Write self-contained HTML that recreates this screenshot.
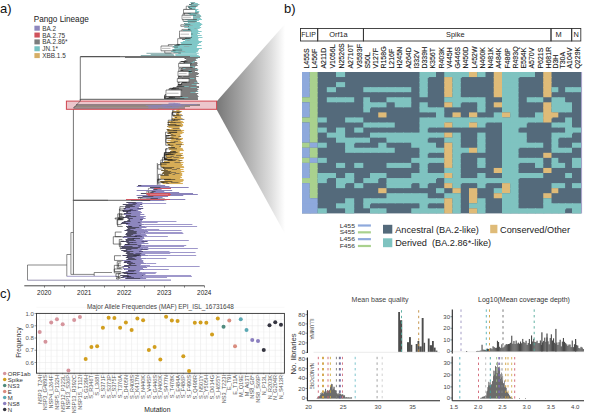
<!DOCTYPE html>
<html><head><meta charset="utf-8"><style>
html,body{margin:0;padding:0;background:#fff;overflow:hidden;width:590px;height:414px;}
svg{display:block;font-family:"Liberation Sans", sans-serif;}
</style></head><body>
<svg width="590" height="414" viewBox="0 0 590 414">
<rect width="590" height="414" fill="#fff"/>
<text x="0.00" y="13.00" font-size="13" fill="#111" text-anchor="start" >a)</text>
<text x="284.00" y="13.00" font-size="13" fill="#111" text-anchor="start" >b)</text>
<text x="0.00" y="297.60" font-size="13" fill="#111" text-anchor="start" >c)</text>
<text x="33.70" y="21.60" font-size="8.2" fill="#1a1a1a" text-anchor="start" >Pango Lineage</text>
<rect x="34.40" y="25.70" width="5.40" height="5.00" fill="#8e87bd" />
<text x="42.30" y="30.70" font-size="6.4" fill="#333" text-anchor="start" >BA.2</text>
<rect x="34.40" y="32.55" width="5.40" height="5.00" fill="#d0525c" />
<text x="42.30" y="37.55" font-size="6.4" fill="#333" text-anchor="start" >BA.2.75</text>
<rect x="34.40" y="39.40" width="5.40" height="5.00" fill="#7c7c7c" />
<text x="42.30" y="44.40" font-size="6.4" fill="#333" text-anchor="start" >BA.2.86*</text>
<rect x="34.40" y="46.25" width="5.40" height="5.00" fill="#76c2c2" />
<text x="42.30" y="51.25" font-size="6.4" fill="#333" text-anchor="start" >JN.1*</text>
<rect x="34.40" y="53.10" width="5.40" height="5.00" fill="#d6ae66" />
<text x="42.30" y="58.10" font-size="6.4" fill="#333" text-anchor="start" >XBB.1.5</text>
<defs><linearGradient id="gr" x1="0" x2="1" y1="0" y2="0"><stop offset="0" stop-color="#777777"/><stop offset="0.5" stop-color="#b6b6b6"/><stop offset="0.8" stop-color="#dedede"/><stop offset="1" stop-color="#ffffff"/></linearGradient></defs>
<polygon points="216.6,101.5 285,24 285,234 216.6,109.5" fill="url(#gr)"/>
<line x1="27.50" y1="265.00" x2="27.50" y2="280.20" stroke="#3a3a3a" stroke-width="0.6" />
<line x1="27.50" y1="265.00" x2="66.80" y2="265.00" stroke="#3a3a3a" stroke-width="0.6" />
<line x1="27.50" y1="280.20" x2="120.00" y2="280.20" stroke="#6a6490" stroke-width="0.7" />
<line x1="120.00" y1="280.20" x2="171.00" y2="280.20" stroke="#8f88bf" stroke-width="1.3" />
<line x1="66.80" y1="254.50" x2="66.80" y2="276.30" stroke="#3a3a3a" stroke-width="0.6" />
<line x1="66.80" y1="254.50" x2="70.90" y2="254.50" stroke="#3a3a3a" stroke-width="0.6" />
<line x1="66.80" y1="276.30" x2="118.00" y2="276.30" stroke="#8f88bf" stroke-width="0.8" />
<line x1="70.90" y1="232.50" x2="70.90" y2="274.40" stroke="#3a3a3a" stroke-width="0.6" />
<line x1="70.90" y1="232.50" x2="73.40" y2="232.50" stroke="#3a3a3a" stroke-width="0.6" />
<line x1="70.90" y1="274.40" x2="94.20" y2="274.40" stroke="#3a3a3a" stroke-width="0.6" />
<line x1="94.20" y1="272.50" x2="94.20" y2="276.00" stroke="#3a3a3a" stroke-width="0.6" />
<line x1="94.20" y1="272.50" x2="112.00" y2="272.50" stroke="#3a3a3a" stroke-width="0.6" />
<line x1="73.40" y1="108.00" x2="73.40" y2="274.40" stroke="#3a3a3a" stroke-width="0.7" />
<line x1="72.80" y1="200.30" x2="108.00" y2="200.30" stroke="#555" stroke-width="0.8" />
<line x1="80.30" y1="56.60" x2="80.30" y2="100.20" stroke="#3a3a3a" stroke-width="0.7" />
<line x1="80.30" y1="56.60" x2="120.00" y2="56.60" stroke="#555" stroke-width="1.2" />
<line x1="120.00" y1="56.60" x2="190.00" y2="56.60" stroke="#6f6f6f" stroke-width="1.2" />
<line x1="190.00" y1="56.60" x2="200.00" y2="56.60" stroke="#80c0c0" stroke-width="1.2" />
<line x1="146.48" y1="53.30" x2="171.51" y2="53.30" stroke="#7aa5a5" stroke-width="0.9" />
<line x1="178.25" y1="53.30" x2="198.71" y2="53.30" stroke="#79c2c2" stroke-width="0.9" />
<line x1="150.72" y1="54.40" x2="173.66" y2="54.40" stroke="#7aa5a5" stroke-width="0.9" />
<line x1="175.29" y1="54.40" x2="196.97" y2="54.40" stroke="#79c2c2" stroke-width="0.9" />
<line x1="140.75" y1="55.50" x2="174.34" y2="55.50" stroke="#7aa5a5" stroke-width="0.9" />
<line x1="175.35" y1="55.50" x2="198.64" y2="55.50" stroke="#79c2c2" stroke-width="0.9" />
<line x1="125.00" y1="57.50" x2="200.00" y2="57.50" stroke="#555" stroke-width="0.8" />
<line x1="190.40" y1="2.50" x2="195.10" y2="2.50" stroke="#80c8c8" stroke-width="1.0" />
<line x1="191.45" y1="2.50" x2="195.10" y2="2.50" stroke="#8fa8a8" stroke-width="0.8" />
<line x1="191.03" y1="3.50" x2="197.81" y2="3.50" stroke="#80c8c8" stroke-width="1.0" />
<line x1="191.03" y1="3.50" x2="193.65" y2="3.50" stroke="#333" stroke-width="0.55" />
<line x1="189.02" y1="4.50" x2="199.45" y2="4.50" stroke="#80c8c8" stroke-width="1.0" />
<line x1="192.24" y1="4.50" x2="199.14" y2="4.50" stroke="#8fa8a8" stroke-width="0.8" />
<line x1="189.02" y1="4.50" x2="191.75" y2="4.50" stroke="#333" stroke-width="0.55" />
<line x1="190.83" y1="5.50" x2="198.20" y2="5.50" stroke="#80c8c8" stroke-width="1.0" />
<line x1="190.83" y1="5.50" x2="191.03" y2="5.50" stroke="#333" stroke-width="0.55" />
<line x1="187.95" y1="6.50" x2="196.48" y2="6.50" stroke="#80c8c8" stroke-width="1.0" />
<line x1="190.63" y1="6.50" x2="196.14" y2="6.50" stroke="#8fa8a8" stroke-width="0.8" />
<line x1="188.23" y1="7.50" x2="195.92" y2="7.50" stroke="#80c8c8" stroke-width="1.0" />
<line x1="188.23" y1="7.50" x2="190.22" y2="7.50" stroke="#333" stroke-width="0.55" />
<line x1="189.29" y1="8.50" x2="195.56" y2="8.50" stroke="#80c8c8" stroke-width="1.0" />
<line x1="189.29" y1="8.50" x2="192.06" y2="8.50" stroke="#333" stroke-width="0.55" />
<line x1="186.58" y1="9.50" x2="198.43" y2="9.50" stroke="#80c8c8" stroke-width="1.0" />
<line x1="186.58" y1="9.50" x2="189.19" y2="9.50" stroke="#333" stroke-width="0.55" />
<line x1="185.86" y1="10.50" x2="197.04" y2="10.50" stroke="#80c8c8" stroke-width="1.0" />
<line x1="190.63" y1="11.50" x2="199.27" y2="11.50" stroke="#80c8c8" stroke-width="1.0" />
<line x1="188.60" y1="12.50" x2="198.51" y2="12.50" stroke="#80c8c8" stroke-width="1.0" />
<line x1="187.72" y1="13.50" x2="197.37" y2="13.50" stroke="#80c8c8" stroke-width="1.0" />
<line x1="194.49" y1="13.50" x2="197.37" y2="13.50" stroke="#8fa8a8" stroke-width="0.8" />
<line x1="189.56" y1="14.50" x2="199.74" y2="14.50" stroke="#80c8c8" stroke-width="1.0" />
<line x1="196.37" y1="14.50" x2="198.50" y2="14.50" stroke="#8fa8a8" stroke-width="0.8" />
<line x1="185.38" y1="15.50" x2="200.85" y2="15.50" stroke="#80c8c8" stroke-width="1.0" />
<line x1="197.26" y1="15.50" x2="200.04" y2="15.50" stroke="#8fa8a8" stroke-width="0.8" />
<line x1="185.38" y1="15.50" x2="188.10" y2="15.50" stroke="#333" stroke-width="0.55" />
<line x1="189.35" y1="16.50" x2="201.17" y2="16.50" stroke="#80c8c8" stroke-width="1.0" />
<line x1="195.84" y1="16.50" x2="201.17" y2="16.50" stroke="#8fa8a8" stroke-width="0.8" />
<line x1="189.11" y1="17.50" x2="200.08" y2="17.50" stroke="#80c8c8" stroke-width="1.0" />
<line x1="193.04" y1="17.50" x2="200.08" y2="17.50" stroke="#8fa8a8" stroke-width="0.8" />
<line x1="184.67" y1="18.50" x2="200.79" y2="18.50" stroke="#80c8c8" stroke-width="1.0" />
<line x1="188.44" y1="18.50" x2="193.35" y2="18.50" stroke="#8fa8a8" stroke-width="0.8" />
<line x1="185.19" y1="19.50" x2="201.93" y2="19.50" stroke="#80c8c8" stroke-width="1.0" />
<line x1="191.37" y1="19.50" x2="196.77" y2="19.50" stroke="#8fa8a8" stroke-width="0.8" />
<line x1="187.60" y1="20.50" x2="198.96" y2="20.50" stroke="#80c8c8" stroke-width="1.0" />
<line x1="183.63" y1="21.50" x2="196.75" y2="21.50" stroke="#80c8c8" stroke-width="1.0" />
<line x1="187.94" y1="22.50" x2="199.90" y2="22.50" stroke="#80c8c8" stroke-width="1.0" />
<line x1="189.18" y1="22.50" x2="194.98" y2="22.50" stroke="#8fa8a8" stroke-width="0.8" />
<line x1="187.94" y1="22.50" x2="188.30" y2="22.50" stroke="#333" stroke-width="0.55" />
<line x1="184.25" y1="23.50" x2="201.38" y2="23.50" stroke="#80c8c8" stroke-width="1.0" />
<line x1="185.15" y1="23.50" x2="187.15" y2="23.50" stroke="#8fa8a8" stroke-width="0.8" />
<line x1="184.25" y1="23.50" x2="185.03" y2="23.50" stroke="#333" stroke-width="0.55" />
<line x1="185.03" y1="24.50" x2="202.30" y2="24.50" stroke="#80c8c8" stroke-width="1.0" />
<line x1="183.58" y1="25.50" x2="201.04" y2="25.50" stroke="#80c8c8" stroke-width="1.0" />
<line x1="189.94" y1="25.50" x2="192.68" y2="25.50" stroke="#8fa8a8" stroke-width="0.8" />
<line x1="188.50" y1="26.50" x2="199.85" y2="26.50" stroke="#80c8c8" stroke-width="1.0" />
<line x1="188.50" y1="26.50" x2="189.02" y2="26.50" stroke="#333" stroke-width="0.55" />
<line x1="184.44" y1="27.50" x2="201.16" y2="27.50" stroke="#80c8c8" stroke-width="1.0" />
<line x1="184.44" y1="27.50" x2="184.61" y2="27.50" stroke="#333" stroke-width="0.55" />
<line x1="187.94" y1="28.50" x2="199.68" y2="28.50" stroke="#80c8c8" stroke-width="1.0" />
<line x1="194.32" y1="28.50" x2="196.48" y2="28.50" stroke="#8fa8a8" stroke-width="0.8" />
<line x1="187.95" y1="29.50" x2="197.77" y2="29.50" stroke="#80c8c8" stroke-width="1.0" />
<line x1="187.95" y1="29.50" x2="189.57" y2="29.50" stroke="#333" stroke-width="0.55" />
<line x1="182.90" y1="30.50" x2="198.37" y2="30.50" stroke="#80c8c8" stroke-width="1.0" />
<line x1="183.68" y1="31.50" x2="201.66" y2="31.50" stroke="#80c8c8" stroke-width="1.0" />
<line x1="186.62" y1="32.50" x2="198.16" y2="32.50" stroke="#80c8c8" stroke-width="1.0" />
<line x1="182.66" y1="33.50" x2="199.89" y2="33.50" stroke="#80c8c8" stroke-width="1.0" />
<line x1="183.16" y1="33.50" x2="185.33" y2="33.50" stroke="#8fa8a8" stroke-width="0.8" />
<line x1="182.66" y1="33.50" x2="184.67" y2="33.50" stroke="#333" stroke-width="0.55" />
<line x1="185.26" y1="34.50" x2="197.26" y2="34.50" stroke="#80c8c8" stroke-width="1.0" />
<line x1="196.50" y1="34.50" x2="197.26" y2="34.50" stroke="#8fa8a8" stroke-width="0.8" />
<line x1="183.09" y1="35.50" x2="201.68" y2="35.50" stroke="#80c8c8" stroke-width="1.0" />
<line x1="186.74" y1="35.50" x2="189.97" y2="35.50" stroke="#8fa8a8" stroke-width="0.8" />
<line x1="186.10" y1="36.50" x2="197.96" y2="36.50" stroke="#80c8c8" stroke-width="1.0" />
<line x1="185.30" y1="37.50" x2="202.49" y2="37.50" stroke="#80c8c8" stroke-width="1.0" />
<line x1="184.99" y1="38.50" x2="198.50" y2="38.50" stroke="#80c8c8" stroke-width="1.0" />
<line x1="184.99" y1="38.50" x2="189.79" y2="38.50" stroke="#333" stroke-width="0.55" />
<line x1="182.10" y1="39.50" x2="198.20" y2="39.50" stroke="#80c8c8" stroke-width="1.0" />
<line x1="182.10" y1="39.50" x2="185.00" y2="39.50" stroke="#333" stroke-width="0.55" />
<line x1="185.01" y1="40.50" x2="198.65" y2="40.50" stroke="#80c8c8" stroke-width="1.0" />
<line x1="186.75" y1="40.50" x2="189.65" y2="40.50" stroke="#8fa8a8" stroke-width="0.8" />
<line x1="182.84" y1="41.50" x2="202.12" y2="41.50" stroke="#80c8c8" stroke-width="1.0" />
<line x1="180.61" y1="42.50" x2="200.90" y2="42.50" stroke="#80c8c8" stroke-width="1.0" />
<line x1="180.61" y1="42.50" x2="180.74" y2="42.50" stroke="#333" stroke-width="0.55" />
<line x1="181.16" y1="43.50" x2="199.10" y2="43.50" stroke="#80c8c8" stroke-width="1.0" />
<line x1="176.60" y1="44.50" x2="197.77" y2="44.50" stroke="#80c8c8" stroke-width="1.0" />
<line x1="176.60" y1="44.50" x2="179.00" y2="44.50" stroke="#333" stroke-width="0.55" />
<line x1="174.42" y1="45.50" x2="201.42" y2="45.50" stroke="#80c8c8" stroke-width="1.0" />
<line x1="174.42" y1="45.50" x2="179.51" y2="45.50" stroke="#333" stroke-width="0.55" />
<line x1="172.64" y1="46.50" x2="197.13" y2="46.50" stroke="#80c8c8" stroke-width="1.0" />
<line x1="183.86" y1="46.50" x2="189.36" y2="46.50" stroke="#8fa8a8" stroke-width="0.8" />
<line x1="174.10" y1="47.50" x2="196.81" y2="47.50" stroke="#80c8c8" stroke-width="1.0" />
<line x1="174.43" y1="48.50" x2="201.93" y2="48.50" stroke="#80c8c8" stroke-width="1.0" />
<line x1="179.46" y1="48.50" x2="181.49" y2="48.50" stroke="#8fa8a8" stroke-width="0.8" />
<line x1="172.03" y1="49.50" x2="198.93" y2="49.50" stroke="#80c8c8" stroke-width="1.0" />
<line x1="172.67" y1="50.50" x2="198.39" y2="50.50" stroke="#80c8c8" stroke-width="1.0" />
<line x1="171.07" y1="51.50" x2="197.87" y2="51.50" stroke="#80c8c8" stroke-width="1.0" />
<line x1="178.49" y1="51.50" x2="185.12" y2="51.50" stroke="#8fa8a8" stroke-width="0.8" />
<line x1="173.51" y1="52.50" x2="196.39" y2="52.50" stroke="#80c8c8" stroke-width="1.0" />
<line x1="179.85" y1="33.43" x2="179.85" y2="38.22" stroke="#333" stroke-width="0.55" />
<line x1="179.85" y1="33.43" x2="189.63" y2="33.43" stroke="#333" stroke-width="0.55" />
<line x1="179.85" y1="38.22" x2="186.74" y2="38.22" stroke="#333" stroke-width="0.55" />
<line x1="181.91" y1="29.43" x2="181.91" y2="34.04" stroke="#333" stroke-width="0.55" />
<line x1="181.91" y1="29.43" x2="190.48" y2="29.43" stroke="#333" stroke-width="0.55" />
<line x1="181.91" y1="34.04" x2="192.61" y2="34.04" stroke="#333" stroke-width="0.55" />
<line x1="164.78" y1="50.08" x2="164.78" y2="53.00" stroke="#333" stroke-width="0.55" />
<line x1="164.78" y1="50.08" x2="182.15" y2="50.08" stroke="#333" stroke-width="0.55" />
<line x1="164.78" y1="53.00" x2="180.91" y2="53.00" stroke="#333" stroke-width="0.55" />
<line x1="184.22" y1="9.43" x2="184.22" y2="11.72" stroke="#333" stroke-width="0.55" />
<line x1="184.22" y1="9.43" x2="186.76" y2="9.43" stroke="#333" stroke-width="0.55" />
<line x1="184.22" y1="11.72" x2="188.78" y2="11.72" stroke="#333" stroke-width="0.55" />
<line x1="186.24" y1="6.19" x2="186.24" y2="12.04" stroke="#333" stroke-width="0.55" />
<line x1="186.24" y1="6.19" x2="197.57" y2="6.19" stroke="#333" stroke-width="0.55" />
<line x1="186.24" y1="12.04" x2="188.66" y2="12.04" stroke="#333" stroke-width="0.55" />
<line x1="177.70" y1="38.66" x2="177.70" y2="44.46" stroke="#333" stroke-width="0.55" />
<line x1="177.70" y1="38.66" x2="190.86" y2="38.66" stroke="#333" stroke-width="0.55" />
<line x1="177.70" y1="44.46" x2="191.88" y2="44.46" stroke="#333" stroke-width="0.55" />
<line x1="183.05" y1="13.59" x2="183.05" y2="21.28" stroke="#333" stroke-width="0.55" />
<line x1="183.05" y1="13.59" x2="190.70" y2="13.59" stroke="#333" stroke-width="0.55" />
<line x1="183.05" y1="21.28" x2="196.73" y2="21.28" stroke="#333" stroke-width="0.55" />
<line x1="168.37" y1="44.54" x2="168.37" y2="47.09" stroke="#333" stroke-width="0.55" />
<line x1="168.37" y1="44.54" x2="180.14" y2="44.54" stroke="#333" stroke-width="0.55" />
<line x1="168.37" y1="47.09" x2="178.02" y2="47.09" stroke="#333" stroke-width="0.55" />
<line x1="184.32" y1="12.39" x2="184.32" y2="15.96" stroke="#333" stroke-width="0.55" />
<line x1="184.32" y1="12.39" x2="185.39" y2="12.39" stroke="#333" stroke-width="0.55" />
<line x1="184.32" y1="15.96" x2="191.80" y2="15.96" stroke="#333" stroke-width="0.55" />
<line x1="180.80" y1="24.74" x2="180.80" y2="26.36" stroke="#333" stroke-width="0.55" />
<line x1="180.80" y1="24.74" x2="190.30" y2="24.74" stroke="#333" stroke-width="0.55" />
<line x1="180.80" y1="26.36" x2="188.96" y2="26.36" stroke="#333" stroke-width="0.55" />
<rect x="183.50" y="9.40" width="11.50" height="3.60" fill="#fff" />
<line x1="183.50" y1="9.40" x2="195.26" y2="9.40" stroke="#333" stroke-width="0.6" />
<line x1="183.50" y1="13.00" x2="198.94" y2="13.00" stroke="#333" stroke-width="0.6" />
<line x1="183.50" y1="9.40" x2="183.50" y2="13.00" stroke="#333" stroke-width="0.5" />
<rect x="182.00" y="15.20" width="11.00" height="4.20" fill="#fff" />
<line x1="182.00" y1="15.20" x2="196.15" y2="15.20" stroke="#333" stroke-width="0.6" />
<line x1="182.00" y1="19.40" x2="196.89" y2="19.40" stroke="#333" stroke-width="0.6" />
<line x1="182.00" y1="15.20" x2="182.00" y2="19.40" stroke="#333" stroke-width="0.5" />
<line x1="183.00" y1="17.30" x2="191.00" y2="17.30" stroke="#555" stroke-width="0.4" />
<rect x="179.50" y="31.00" width="11.50" height="6.40" fill="#fff" />
<line x1="179.50" y1="31.00" x2="191.42" y2="31.00" stroke="#333" stroke-width="0.6" />
<line x1="179.50" y1="37.40" x2="192.06" y2="37.40" stroke="#333" stroke-width="0.6" />
<line x1="179.50" y1="31.00" x2="179.50" y2="37.40" stroke="#333" stroke-width="0.5" />
<line x1="180.50" y1="34.20" x2="189.00" y2="34.20" stroke="#555" stroke-width="0.4" />
<rect x="161.00" y="46.00" width="11.40" height="4.80" fill="#fff" />
<line x1="161.00" y1="46.00" x2="172.56" y2="46.00" stroke="#333" stroke-width="0.6" />
<line x1="161.00" y1="50.80" x2="175.52" y2="50.80" stroke="#333" stroke-width="0.6" />
<line x1="161.00" y1="46.00" x2="161.00" y2="50.80" stroke="#333" stroke-width="0.5" />
<line x1="162.00" y1="48.40" x2="170.40" y2="48.40" stroke="#555" stroke-width="0.4" />
<line x1="184.63" y1="58.50" x2="197.52" y2="58.50" stroke="#7c7c7c" stroke-width="1.0" />
<line x1="196.37" y1="58.50" x2="197.52" y2="58.50" stroke="#78bcbc" stroke-width="0.8" />
<line x1="184.63" y1="58.50" x2="185.79" y2="58.50" stroke="#1e1e1e" stroke-width="0.55" />
<line x1="186.33" y1="59.50" x2="195.82" y2="59.50" stroke="#7c7c7c" stroke-width="1.0" />
<line x1="186.33" y1="59.50" x2="186.65" y2="59.50" stroke="#1e1e1e" stroke-width="0.55" />
<line x1="184.50" y1="60.50" x2="196.47" y2="60.50" stroke="#7c7c7c" stroke-width="1.0" />
<line x1="195.73" y1="60.50" x2="196.47" y2="60.50" stroke="#78bcbc" stroke-width="0.8" />
<line x1="181.18" y1="61.50" x2="194.81" y2="61.50" stroke="#7c7c7c" stroke-width="1.0" />
<line x1="192.94" y1="61.50" x2="194.81" y2="61.50" stroke="#78bcbc" stroke-width="0.8" />
<line x1="181.18" y1="61.50" x2="185.71" y2="61.50" stroke="#1e1e1e" stroke-width="0.55" />
<line x1="183.66" y1="62.50" x2="197.24" y2="62.50" stroke="#7c7c7c" stroke-width="1.0" />
<line x1="190.81" y1="62.50" x2="194.24" y2="62.50" stroke="#78bcbc" stroke-width="0.8" />
<line x1="183.66" y1="62.50" x2="184.97" y2="62.50" stroke="#1e1e1e" stroke-width="0.55" />
<line x1="179.69" y1="63.50" x2="197.57" y2="63.50" stroke="#7c7c7c" stroke-width="1.0" />
<line x1="185.14" y1="63.50" x2="191.70" y2="63.50" stroke="#78bcbc" stroke-width="0.8" />
<line x1="179.69" y1="63.50" x2="185.05" y2="63.50" stroke="#1e1e1e" stroke-width="0.55" />
<line x1="180.17" y1="64.50" x2="197.06" y2="64.50" stroke="#7c7c7c" stroke-width="1.0" />
<line x1="184.40" y1="64.50" x2="186.49" y2="64.50" stroke="#78bcbc" stroke-width="0.8" />
<line x1="181.64" y1="65.50" x2="197.75" y2="65.50" stroke="#7c7c7c" stroke-width="1.0" />
<line x1="179.84" y1="66.50" x2="195.30" y2="66.50" stroke="#7c7c7c" stroke-width="1.0" />
<line x1="187.49" y1="66.50" x2="194.50" y2="66.50" stroke="#78bcbc" stroke-width="0.8" />
<line x1="179.84" y1="66.50" x2="184.54" y2="66.50" stroke="#1e1e1e" stroke-width="0.55" />
<line x1="182.14" y1="67.50" x2="194.72" y2="67.50" stroke="#7c7c7c" stroke-width="1.0" />
<line x1="192.61" y1="67.50" x2="194.72" y2="67.50" stroke="#78bcbc" stroke-width="0.8" />
<line x1="180.98" y1="68.50" x2="197.33" y2="68.50" stroke="#7c7c7c" stroke-width="1.0" />
<line x1="183.10" y1="68.50" x2="185.53" y2="68.50" stroke="#78bcbc" stroke-width="0.8" />
<line x1="180.36" y1="69.50" x2="198.13" y2="69.50" stroke="#7c7c7c" stroke-width="1.0" />
<line x1="195.31" y1="69.50" x2="198.13" y2="69.50" stroke="#78bcbc" stroke-width="0.8" />
<line x1="180.44" y1="70.50" x2="197.88" y2="70.50" stroke="#7c7c7c" stroke-width="1.0" />
<line x1="188.45" y1="70.50" x2="191.40" y2="70.50" stroke="#78bcbc" stroke-width="0.8" />
<line x1="180.44" y1="70.50" x2="183.20" y2="70.50" stroke="#1e1e1e" stroke-width="0.55" />
<line x1="183.13" y1="71.50" x2="195.03" y2="71.50" stroke="#7c7c7c" stroke-width="1.0" />
<line x1="183.13" y1="71.50" x2="190.03" y2="71.50" stroke="#1e1e1e" stroke-width="0.55" />
<line x1="180.50" y1="72.50" x2="197.56" y2="72.50" stroke="#7c7c7c" stroke-width="1.0" />
<line x1="187.01" y1="72.50" x2="191.86" y2="72.50" stroke="#78bcbc" stroke-width="0.8" />
<line x1="180.50" y1="72.50" x2="182.56" y2="72.50" stroke="#1e1e1e" stroke-width="0.55" />
<line x1="181.26" y1="73.50" x2="199.04" y2="73.50" stroke="#7c7c7c" stroke-width="1.0" />
<line x1="182.85" y1="73.50" x2="187.25" y2="73.50" stroke="#78bcbc" stroke-width="0.8" />
<line x1="181.26" y1="73.50" x2="181.50" y2="73.50" stroke="#1e1e1e" stroke-width="0.55" />
<line x1="180.43" y1="74.50" x2="198.19" y2="74.50" stroke="#7c7c7c" stroke-width="1.0" />
<line x1="180.43" y1="74.50" x2="188.43" y2="74.50" stroke="#1e1e1e" stroke-width="0.55" />
<line x1="181.82" y1="75.50" x2="196.33" y2="75.50" stroke="#7c7c7c" stroke-width="1.0" />
<line x1="181.82" y1="75.50" x2="184.66" y2="75.50" stroke="#1e1e1e" stroke-width="0.55" />
<line x1="183.10" y1="76.50" x2="198.66" y2="76.50" stroke="#7c7c7c" stroke-width="1.0" />
<line x1="179.31" y1="77.50" x2="195.99" y2="77.50" stroke="#7c7c7c" stroke-width="1.0" />
<line x1="182.05" y1="78.50" x2="196.15" y2="78.50" stroke="#7c7c7c" stroke-width="1.0" />
<line x1="189.43" y1="78.50" x2="194.46" y2="78.50" stroke="#78bcbc" stroke-width="0.8" />
<line x1="182.31" y1="79.50" x2="196.16" y2="79.50" stroke="#7c7c7c" stroke-width="1.0" />
<line x1="181.79" y1="80.50" x2="196.71" y2="80.50" stroke="#7c7c7c" stroke-width="1.0" />
<line x1="182.26" y1="80.50" x2="185.06" y2="80.50" stroke="#78bcbc" stroke-width="0.8" />
<line x1="181.79" y1="80.50" x2="182.73" y2="80.50" stroke="#1e1e1e" stroke-width="0.55" />
<line x1="182.38" y1="81.50" x2="197.23" y2="81.50" stroke="#7c7c7c" stroke-width="1.0" />
<line x1="181.74" y1="82.50" x2="197.48" y2="82.50" stroke="#7c7c7c" stroke-width="1.0" />
<line x1="194.29" y1="82.50" x2="197.48" y2="82.50" stroke="#78bcbc" stroke-width="0.8" />
<line x1="181.74" y1="82.50" x2="186.79" y2="82.50" stroke="#1e1e1e" stroke-width="0.55" />
<line x1="180.94" y1="83.50" x2="199.14" y2="83.50" stroke="#7c7c7c" stroke-width="1.0" />
<line x1="180.94" y1="83.50" x2="181.75" y2="83.50" stroke="#1e1e1e" stroke-width="0.55" />
<line x1="177.96" y1="84.50" x2="196.46" y2="84.50" stroke="#7c7c7c" stroke-width="1.0" />
<line x1="191.65" y1="84.50" x2="196.46" y2="84.50" stroke="#78bcbc" stroke-width="0.8" />
<line x1="177.96" y1="84.50" x2="182.21" y2="84.50" stroke="#1e1e1e" stroke-width="0.55" />
<line x1="177.42" y1="85.50" x2="196.62" y2="85.50" stroke="#7c7c7c" stroke-width="1.0" />
<line x1="176.67" y1="86.50" x2="199.02" y2="86.50" stroke="#7c7c7c" stroke-width="1.0" />
<line x1="182.35" y1="86.50" x2="188.81" y2="86.50" stroke="#78bcbc" stroke-width="0.8" />
<line x1="176.67" y1="86.50" x2="184.28" y2="86.50" stroke="#1e1e1e" stroke-width="0.55" />
<line x1="172.75" y1="87.50" x2="199.06" y2="87.50" stroke="#7c7c7c" stroke-width="1.0" />
<line x1="190.43" y1="87.50" x2="196.58" y2="87.50" stroke="#78bcbc" stroke-width="0.8" />
<line x1="171.66" y1="88.50" x2="197.21" y2="88.50" stroke="#7c7c7c" stroke-width="1.0" />
<line x1="171.66" y1="88.50" x2="173.48" y2="88.50" stroke="#1e1e1e" stroke-width="0.55" />
<line x1="171.07" y1="89.50" x2="198.45" y2="89.50" stroke="#7c7c7c" stroke-width="1.0" />
<line x1="166.01" y1="90.50" x2="197.39" y2="90.50" stroke="#7c7c7c" stroke-width="1.0" />
<line x1="167.63" y1="91.50" x2="198.12" y2="91.50" stroke="#7c7c7c" stroke-width="1.0" />
<line x1="196.46" y1="91.50" x2="198.12" y2="91.50" stroke="#78bcbc" stroke-width="0.8" />
<line x1="167.63" y1="91.50" x2="170.22" y2="91.50" stroke="#1e1e1e" stroke-width="0.55" />
<line x1="167.82" y1="92.50" x2="195.36" y2="92.50" stroke="#7c7c7c" stroke-width="1.0" />
<line x1="190.41" y1="92.50" x2="195.36" y2="92.50" stroke="#78bcbc" stroke-width="0.8" />
<line x1="168.42" y1="93.50" x2="198.22" y2="93.50" stroke="#7c7c7c" stroke-width="1.0" />
<line x1="168.42" y1="93.50" x2="168.87" y2="93.50" stroke="#1e1e1e" stroke-width="0.55" />
<line x1="165.51" y1="94.50" x2="197.15" y2="94.50" stroke="#7c7c7c" stroke-width="1.0" />
<line x1="165.51" y1="94.50" x2="168.19" y2="94.50" stroke="#1e1e1e" stroke-width="0.55" />
<line x1="166.76" y1="95.50" x2="197.83" y2="95.50" stroke="#7c7c7c" stroke-width="1.0" />
<line x1="166.76" y1="95.50" x2="180.76" y2="95.50" stroke="#1e1e1e" stroke-width="0.55" />
<line x1="168.63" y1="96.50" x2="198.59" y2="96.50" stroke="#7c7c7c" stroke-width="1.0" />
<line x1="168.77" y1="97.50" x2="197.88" y2="97.50" stroke="#7c7c7c" stroke-width="1.0" />
<line x1="180.21" y1="97.50" x2="188.20" y2="97.50" stroke="#78bcbc" stroke-width="0.8" />
<line x1="168.77" y1="97.50" x2="175.07" y2="97.50" stroke="#1e1e1e" stroke-width="0.55" />
<line x1="166.77" y1="98.50" x2="197.91" y2="98.50" stroke="#7c7c7c" stroke-width="1.0" />
<line x1="169.94" y1="98.50" x2="176.94" y2="98.50" stroke="#78bcbc" stroke-width="0.8" />
<line x1="166.77" y1="98.50" x2="184.25" y2="98.50" stroke="#1e1e1e" stroke-width="0.55" />
<line x1="178.92" y1="68.22" x2="178.92" y2="71.45" stroke="#1e1e1e" stroke-width="0.55" />
<line x1="178.92" y1="68.22" x2="181.65" y2="68.22" stroke="#1e1e1e" stroke-width="0.55" />
<line x1="178.92" y1="71.45" x2="183.85" y2="71.45" stroke="#1e1e1e" stroke-width="0.55" />
<line x1="165.00" y1="97.20" x2="165.00" y2="99.00" stroke="#1e1e1e" stroke-width="0.55" />
<line x1="165.00" y1="97.20" x2="172.77" y2="97.20" stroke="#1e1e1e" stroke-width="0.55" />
<line x1="165.00" y1="99.00" x2="176.16" y2="99.00" stroke="#1e1e1e" stroke-width="0.55" />
<line x1="164.96" y1="96.57" x2="164.96" y2="99.00" stroke="#1e1e1e" stroke-width="0.55" />
<line x1="164.96" y1="96.57" x2="165.86" y2="96.57" stroke="#1e1e1e" stroke-width="0.55" />
<line x1="164.96" y1="99.00" x2="174.06" y2="99.00" stroke="#1e1e1e" stroke-width="0.55" />
<line x1="178.82" y1="76.49" x2="178.82" y2="82.88" stroke="#1e1e1e" stroke-width="0.55" />
<line x1="178.82" y1="76.49" x2="182.60" y2="76.49" stroke="#1e1e1e" stroke-width="0.55" />
<line x1="178.82" y1="82.88" x2="179.75" y2="82.88" stroke="#1e1e1e" stroke-width="0.55" />
<line x1="164.74" y1="96.00" x2="164.74" y2="98.33" stroke="#1e1e1e" stroke-width="0.55" />
<line x1="164.74" y1="96.00" x2="169.46" y2="96.00" stroke="#1e1e1e" stroke-width="0.55" />
<line x1="164.74" y1="98.33" x2="168.91" y2="98.33" stroke="#1e1e1e" stroke-width="0.55" />
<line x1="170.06" y1="88.30" x2="170.06" y2="96.15" stroke="#1e1e1e" stroke-width="0.55" />
<line x1="170.06" y1="88.30" x2="178.97" y2="88.30" stroke="#1e1e1e" stroke-width="0.55" />
<line x1="170.06" y1="96.15" x2="174.71" y2="96.15" stroke="#1e1e1e" stroke-width="0.55" />
<line x1="178.23" y1="80.85" x2="178.23" y2="84.91" stroke="#1e1e1e" stroke-width="0.55" />
<line x1="178.23" y1="80.85" x2="180.99" y2="80.85" stroke="#1e1e1e" stroke-width="0.55" />
<line x1="178.23" y1="84.91" x2="181.55" y2="84.91" stroke="#1e1e1e" stroke-width="0.55" />
<line x1="164.51" y1="95.14" x2="164.51" y2="99.00" stroke="#1e1e1e" stroke-width="0.55" />
<line x1="164.51" y1="95.14" x2="176.30" y2="95.14" stroke="#1e1e1e" stroke-width="0.55" />
<line x1="164.51" y1="99.00" x2="177.39" y2="99.00" stroke="#1e1e1e" stroke-width="0.55" />
<line x1="178.38" y1="76.45" x2="178.38" y2="78.86" stroke="#1e1e1e" stroke-width="0.55" />
<line x1="178.38" y1="76.45" x2="180.25" y2="76.45" stroke="#1e1e1e" stroke-width="0.55" />
<line x1="178.38" y1="78.86" x2="183.27" y2="78.86" stroke="#1e1e1e" stroke-width="0.55" />
<line x1="179.95" y1="61.73" x2="179.95" y2="64.79" stroke="#1e1e1e" stroke-width="0.55" />
<line x1="179.95" y1="61.73" x2="187.47" y2="61.73" stroke="#1e1e1e" stroke-width="0.55" />
<line x1="179.95" y1="64.79" x2="191.29" y2="64.79" stroke="#1e1e1e" stroke-width="0.55" />
<line x1="168.97" y1="88.74" x2="168.97" y2="92.92" stroke="#1e1e1e" stroke-width="0.55" />
<line x1="168.97" y1="88.74" x2="176.08" y2="88.74" stroke="#1e1e1e" stroke-width="0.55" />
<line x1="168.97" y1="92.92" x2="174.31" y2="92.92" stroke="#1e1e1e" stroke-width="0.55" />
<line x1="178.60" y1="71.87" x2="178.60" y2="73.77" stroke="#1e1e1e" stroke-width="0.55" />
<line x1="178.60" y1="71.87" x2="190.89" y2="71.87" stroke="#1e1e1e" stroke-width="0.55" />
<line x1="178.60" y1="73.77" x2="180.79" y2="73.77" stroke="#1e1e1e" stroke-width="0.55" />
<rect x="178.60" y="63.30" width="11.40" height="4.00" fill="#fff" />
<line x1="178.60" y1="63.30" x2="192.01" y2="63.30" stroke="#1e1e1e" stroke-width="0.6" />
<line x1="178.60" y1="67.30" x2="192.52" y2="67.30" stroke="#1e1e1e" stroke-width="0.6" />
<line x1="178.60" y1="63.30" x2="178.60" y2="67.30" stroke="#1e1e1e" stroke-width="0.5" />
<rect x="178.00" y="71.30" width="10.60" height="4.70" fill="#fff" />
<line x1="178.00" y1="71.30" x2="192.05" y2="71.30" stroke="#1e1e1e" stroke-width="0.6" />
<line x1="178.00" y1="76.00" x2="189.46" y2="76.00" stroke="#1e1e1e" stroke-width="0.6" />
<line x1="178.00" y1="71.30" x2="178.00" y2="76.00" stroke="#1e1e1e" stroke-width="0.5" />
<line x1="179.00" y1="73.65" x2="186.60" y2="73.65" stroke="#555" stroke-width="0.4" />
<rect x="177.30" y="78.60" width="11.30" height="3.40" fill="#fff" />
<line x1="177.30" y1="78.60" x2="189.68" y2="78.60" stroke="#1e1e1e" stroke-width="0.6" />
<line x1="177.30" y1="82.00" x2="189.59" y2="82.00" stroke="#1e1e1e" stroke-width="0.6" />
<line x1="177.30" y1="78.60" x2="177.30" y2="82.00" stroke="#1e1e1e" stroke-width="0.5" />
<rect x="166.00" y="90.00" width="14.60" height="6.50" fill="#fff" />
<line x1="166.00" y1="90.00" x2="182.20" y2="90.00" stroke="#1e1e1e" stroke-width="0.6" />
<line x1="166.00" y1="96.50" x2="182.38" y2="96.50" stroke="#1e1e1e" stroke-width="0.6" />
<line x1="166.00" y1="90.00" x2="166.00" y2="96.50" stroke="#1e1e1e" stroke-width="0.5" />
<line x1="167.00" y1="93.25" x2="178.60" y2="93.25" stroke="#555" stroke-width="0.4" />
<line x1="177.63" y1="109.50" x2="179.77" y2="109.50" stroke="#d8ae58" stroke-width="1.1" />
<line x1="177.63" y1="109.50" x2="177.67" y2="109.50" stroke="#1a1a1a" stroke-width="0.55" />
<line x1="176.32" y1="110.50" x2="179.54" y2="110.50" stroke="#d8ae58" stroke-width="1.1" />
<line x1="172.68" y1="111.50" x2="182.07" y2="111.50" stroke="#d8ae58" stroke-width="1.1" />
<line x1="176.87" y1="112.50" x2="179.17" y2="112.50" stroke="#d8ae58" stroke-width="1.1" />
<line x1="177.12" y1="112.50" x2="179.17" y2="112.50" stroke="#7a6a4a" stroke-width="0.8800000000000001" />
<line x1="175.91" y1="113.50" x2="179.33" y2="113.50" stroke="#d8ae58" stroke-width="1.1" />
<line x1="176.23" y1="114.50" x2="181.76" y2="114.50" stroke="#d8ae58" stroke-width="1.1" />
<line x1="176.23" y1="114.50" x2="178.83" y2="114.50" stroke="#1a1a1a" stroke-width="0.55" />
<line x1="173.48" y1="115.50" x2="179.45" y2="115.50" stroke="#d8ae58" stroke-width="1.1" />
<line x1="173.48" y1="115.50" x2="173.94" y2="115.50" stroke="#1a1a1a" stroke-width="0.55" />
<line x1="173.49" y1="116.50" x2="180.87" y2="116.50" stroke="#d8ae58" stroke-width="1.1" />
<line x1="173.49" y1="116.50" x2="173.80" y2="116.50" stroke="#1a1a1a" stroke-width="0.55" />
<line x1="174.76" y1="117.50" x2="181.15" y2="117.50" stroke="#d8ae58" stroke-width="1.1" />
<line x1="174.76" y1="117.50" x2="177.06" y2="117.50" stroke="#1a1a1a" stroke-width="0.55" />
<line x1="172.10" y1="118.50" x2="182.56" y2="118.50" stroke="#d8ae58" stroke-width="1.1" />
<line x1="173.85" y1="119.50" x2="179.66" y2="119.50" stroke="#d8ae58" stroke-width="1.1" />
<line x1="173.85" y1="119.50" x2="174.71" y2="119.50" stroke="#1a1a1a" stroke-width="0.55" />
<line x1="172.68" y1="120.50" x2="180.56" y2="120.50" stroke="#d8ae58" stroke-width="1.1" />
<line x1="172.85" y1="120.50" x2="177.84" y2="120.50" stroke="#7a6a4a" stroke-width="0.8800000000000001" />
<line x1="168.60" y1="121.50" x2="182.80" y2="121.50" stroke="#d8ae58" stroke-width="1.1" />
<line x1="167.63" y1="122.50" x2="183.92" y2="122.50" stroke="#d8ae58" stroke-width="1.1" />
<line x1="174.49" y1="122.50" x2="180.58" y2="122.50" stroke="#7a6a4a" stroke-width="0.8800000000000001" />
<line x1="167.63" y1="122.50" x2="175.42" y2="122.50" stroke="#1a1a1a" stroke-width="0.55" />
<line x1="170.20" y1="123.50" x2="181.58" y2="123.50" stroke="#d8ae58" stroke-width="1.1" />
<line x1="181.23" y1="123.50" x2="181.58" y2="123.50" stroke="#7a6a4a" stroke-width="0.8800000000000001" />
<line x1="167.65" y1="124.50" x2="183.00" y2="124.50" stroke="#d8ae58" stroke-width="1.1" />
<line x1="167.65" y1="124.50" x2="176.42" y2="124.50" stroke="#1a1a1a" stroke-width="0.55" />
<line x1="168.98" y1="125.50" x2="183.18" y2="125.50" stroke="#d8ae58" stroke-width="1.1" />
<line x1="174.90" y1="125.50" x2="180.89" y2="125.50" stroke="#7a6a4a" stroke-width="0.8800000000000001" />
<line x1="167.23" y1="126.50" x2="182.15" y2="126.50" stroke="#d8ae58" stroke-width="1.1" />
<line x1="181.77" y1="126.50" x2="182.15" y2="126.50" stroke="#7a6a4a" stroke-width="0.8800000000000001" />
<line x1="167.23" y1="126.50" x2="167.77" y2="126.50" stroke="#1a1a1a" stroke-width="0.55" />
<line x1="168.47" y1="127.50" x2="179.64" y2="127.50" stroke="#d8ae58" stroke-width="1.1" />
<line x1="171.49" y1="128.50" x2="179.48" y2="128.50" stroke="#d8ae58" stroke-width="1.1" />
<line x1="172.97" y1="128.50" x2="179.48" y2="128.50" stroke="#7a6a4a" stroke-width="0.8800000000000001" />
<line x1="166.66" y1="129.50" x2="180.82" y2="129.50" stroke="#d8ae58" stroke-width="1.1" />
<line x1="166.66" y1="129.50" x2="169.48" y2="129.50" stroke="#1a1a1a" stroke-width="0.55" />
<line x1="167.35" y1="130.50" x2="184.13" y2="130.50" stroke="#d8ae58" stroke-width="1.1" />
<line x1="173.25" y1="130.50" x2="180.98" y2="130.50" stroke="#7a6a4a" stroke-width="0.8800000000000001" />
<line x1="167.35" y1="130.50" x2="177.06" y2="130.50" stroke="#1a1a1a" stroke-width="0.55" />
<line x1="167.54" y1="131.50" x2="182.37" y2="131.50" stroke="#d8ae58" stroke-width="1.1" />
<line x1="168.66" y1="132.50" x2="183.91" y2="132.50" stroke="#d8ae58" stroke-width="1.1" />
<line x1="168.66" y1="132.50" x2="177.08" y2="132.50" stroke="#1a1a1a" stroke-width="0.55" />
<line x1="167.47" y1="133.50" x2="182.35" y2="133.50" stroke="#d8ae58" stroke-width="1.1" />
<line x1="167.47" y1="133.50" x2="171.13" y2="133.50" stroke="#1a1a1a" stroke-width="0.55" />
<line x1="170.56" y1="134.50" x2="180.34" y2="134.50" stroke="#d8ae58" stroke-width="1.1" />
<line x1="170.90" y1="134.50" x2="173.28" y2="134.50" stroke="#7a6a4a" stroke-width="0.8800000000000001" />
<line x1="167.79" y1="135.50" x2="180.44" y2="135.50" stroke="#d8ae58" stroke-width="1.1" />
<line x1="167.79" y1="135.50" x2="169.85" y2="135.50" stroke="#1a1a1a" stroke-width="0.55" />
<line x1="171.29" y1="136.50" x2="181.10" y2="136.50" stroke="#d8ae58" stroke-width="1.1" />
<line x1="178.32" y1="136.50" x2="181.10" y2="136.50" stroke="#7a6a4a" stroke-width="0.8800000000000001" />
<line x1="171.29" y1="136.50" x2="171.31" y2="136.50" stroke="#1a1a1a" stroke-width="0.55" />
<line x1="170.28" y1="137.50" x2="179.61" y2="137.50" stroke="#d8ae58" stroke-width="1.1" />
<line x1="166.62" y1="138.50" x2="183.03" y2="138.50" stroke="#d8ae58" stroke-width="1.1" />
<line x1="171.27" y1="139.50" x2="182.27" y2="139.50" stroke="#d8ae58" stroke-width="1.1" />
<line x1="176.00" y1="139.50" x2="180.96" y2="139.50" stroke="#7a6a4a" stroke-width="0.8800000000000001" />
<line x1="167.41" y1="140.50" x2="180.20" y2="140.50" stroke="#d8ae58" stroke-width="1.1" />
<line x1="170.36" y1="141.50" x2="181.18" y2="141.50" stroke="#d8ae58" stroke-width="1.1" />
<line x1="173.82" y1="141.50" x2="177.99" y2="141.50" stroke="#7a6a4a" stroke-width="0.8800000000000001" />
<line x1="166.90" y1="142.50" x2="183.24" y2="142.50" stroke="#d8ae58" stroke-width="1.1" />
<line x1="166.90" y1="142.50" x2="167.53" y2="142.50" stroke="#1a1a1a" stroke-width="0.55" />
<line x1="166.67" y1="143.50" x2="181.47" y2="143.50" stroke="#d8ae58" stroke-width="1.1" />
<line x1="181.18" y1="143.50" x2="181.47" y2="143.50" stroke="#7a6a4a" stroke-width="0.8800000000000001" />
<line x1="167.82" y1="144.50" x2="183.82" y2="144.50" stroke="#d8ae58" stroke-width="1.1" />
<line x1="175.80" y1="144.50" x2="182.06" y2="144.50" stroke="#7a6a4a" stroke-width="0.8800000000000001" />
<line x1="167.82" y1="144.50" x2="170.07" y2="144.50" stroke="#1a1a1a" stroke-width="0.55" />
<line x1="168.58" y1="145.50" x2="181.15" y2="145.50" stroke="#d8ae58" stroke-width="1.1" />
<line x1="170.73" y1="146.50" x2="180.93" y2="146.50" stroke="#d8ae58" stroke-width="1.1" />
<line x1="179.31" y1="146.50" x2="180.93" y2="146.50" stroke="#7a6a4a" stroke-width="0.8800000000000001" />
<line x1="168.36" y1="147.50" x2="180.57" y2="147.50" stroke="#d8ae58" stroke-width="1.1" />
<line x1="171.38" y1="147.50" x2="174.86" y2="147.50" stroke="#7a6a4a" stroke-width="0.8800000000000001" />
<line x1="168.36" y1="147.50" x2="174.84" y2="147.50" stroke="#1a1a1a" stroke-width="0.55" />
<line x1="169.39" y1="148.50" x2="182.63" y2="148.50" stroke="#d8ae58" stroke-width="1.1" />
<line x1="169.04" y1="149.50" x2="183.12" y2="149.50" stroke="#d8ae58" stroke-width="1.1" />
<line x1="171.28" y1="150.50" x2="183.77" y2="150.50" stroke="#d8ae58" stroke-width="1.1" />
<line x1="170.18" y1="151.50" x2="179.71" y2="151.50" stroke="#d8ae58" stroke-width="1.1" />
<line x1="172.98" y1="151.50" x2="175.69" y2="151.50" stroke="#7a6a4a" stroke-width="0.8800000000000001" />
<line x1="170.18" y1="151.50" x2="175.75" y2="151.50" stroke="#1a1a1a" stroke-width="0.55" />
<line x1="168.54" y1="152.50" x2="179.64" y2="152.50" stroke="#d8ae58" stroke-width="1.1" />
<line x1="167.52" y1="153.50" x2="183.00" y2="153.50" stroke="#d8ae58" stroke-width="1.1" />
<line x1="165.45" y1="154.50" x2="181.33" y2="154.50" stroke="#d8ae58" stroke-width="1.1" />
<line x1="165.45" y1="154.50" x2="168.97" y2="154.50" stroke="#1a1a1a" stroke-width="0.55" />
<line x1="165.28" y1="155.50" x2="183.29" y2="155.50" stroke="#d8ae58" stroke-width="1.1" />
<line x1="176.08" y1="155.50" x2="181.99" y2="155.50" stroke="#7a6a4a" stroke-width="0.8800000000000001" />
<line x1="165.28" y1="155.50" x2="165.40" y2="155.50" stroke="#1a1a1a" stroke-width="0.55" />
<line x1="165.86" y1="156.50" x2="180.93" y2="156.50" stroke="#d8ae58" stroke-width="1.1" />
<line x1="170.56" y1="156.50" x2="173.79" y2="156.50" stroke="#7a6a4a" stroke-width="0.8800000000000001" />
<line x1="166.62" y1="157.50" x2="184.01" y2="157.50" stroke="#d8ae58" stroke-width="1.1" />
<line x1="173.49" y1="157.50" x2="178.79" y2="157.50" stroke="#7a6a4a" stroke-width="0.8800000000000001" />
<line x1="163.98" y1="158.50" x2="183.51" y2="158.50" stroke="#d8ae58" stroke-width="1.1" />
<line x1="163.98" y1="158.50" x2="167.30" y2="158.50" stroke="#1a1a1a" stroke-width="0.55" />
<line x1="164.71" y1="159.50" x2="179.57" y2="159.50" stroke="#d8ae58" stroke-width="1.1" />
<line x1="173.13" y1="159.50" x2="177.27" y2="159.50" stroke="#7a6a4a" stroke-width="0.8800000000000001" />
<line x1="164.71" y1="159.50" x2="172.42" y2="159.50" stroke="#1a1a1a" stroke-width="0.55" />
<line x1="167.61" y1="160.50" x2="182.53" y2="160.50" stroke="#d8ae58" stroke-width="1.1" />
<line x1="178.47" y1="160.50" x2="181.69" y2="160.50" stroke="#7a6a4a" stroke-width="0.8800000000000001" />
<line x1="167.61" y1="160.50" x2="175.68" y2="160.50" stroke="#1a1a1a" stroke-width="0.55" />
<line x1="163.99" y1="161.50" x2="180.25" y2="161.50" stroke="#d8ae58" stroke-width="1.1" />
<line x1="163.43" y1="162.50" x2="183.55" y2="162.50" stroke="#d8ae58" stroke-width="1.1" />
<line x1="174.52" y1="162.50" x2="180.37" y2="162.50" stroke="#7a6a4a" stroke-width="0.8800000000000001" />
<line x1="160.82" y1="163.50" x2="181.25" y2="163.50" stroke="#d8ae58" stroke-width="1.1" />
<line x1="160.73" y1="164.50" x2="182.96" y2="164.50" stroke="#d8ae58" stroke-width="1.1" />
<line x1="160.54" y1="165.50" x2="181.93" y2="165.50" stroke="#d8ae58" stroke-width="1.1" />
<line x1="160.99" y1="166.50" x2="183.75" y2="166.50" stroke="#d8ae58" stroke-width="1.1" />
<line x1="162.41" y1="167.50" x2="184.12" y2="167.50" stroke="#d8ae58" stroke-width="1.1" />
<line x1="162.41" y1="167.50" x2="174.19" y2="167.50" stroke="#1a1a1a" stroke-width="0.55" />
<line x1="163.10" y1="168.50" x2="180.28" y2="168.50" stroke="#d8ae58" stroke-width="1.1" />
<line x1="176.60" y1="168.50" x2="179.93" y2="168.50" stroke="#7a6a4a" stroke-width="0.8800000000000001" />
<line x1="163.10" y1="168.50" x2="171.82" y2="168.50" stroke="#1a1a1a" stroke-width="0.55" />
<line x1="164.15" y1="169.50" x2="183.49" y2="169.50" stroke="#d8ae58" stroke-width="1.1" />
<line x1="171.88" y1="169.50" x2="176.99" y2="169.50" stroke="#7a6a4a" stroke-width="0.8800000000000001" />
<line x1="164.15" y1="169.50" x2="165.57" y2="169.50" stroke="#1a1a1a" stroke-width="0.55" />
<line x1="161.24" y1="170.50" x2="180.79" y2="170.50" stroke="#d8ae58" stroke-width="1.1" />
<line x1="161.24" y1="170.50" x2="167.83" y2="170.50" stroke="#1a1a1a" stroke-width="0.55" />
<line x1="163.79" y1="171.50" x2="184.23" y2="171.50" stroke="#d8ae58" stroke-width="1.1" />
<line x1="163.79" y1="171.50" x2="171.14" y2="171.50" stroke="#1a1a1a" stroke-width="0.55" />
<line x1="162.75" y1="172.50" x2="181.29" y2="172.50" stroke="#d8ae58" stroke-width="1.1" />
<line x1="170.54" y1="172.50" x2="176.03" y2="172.50" stroke="#7a6a4a" stroke-width="0.8800000000000001" />
<line x1="162.75" y1="172.50" x2="170.08" y2="172.50" stroke="#1a1a1a" stroke-width="0.55" />
<line x1="162.23" y1="173.50" x2="182.24" y2="173.50" stroke="#d8ae58" stroke-width="1.1" />
<line x1="174.62" y1="173.50" x2="179.55" y2="173.50" stroke="#7a6a4a" stroke-width="0.8800000000000001" />
<line x1="162.23" y1="173.50" x2="171.40" y2="173.50" stroke="#1a1a1a" stroke-width="0.55" />
<line x1="163.90" y1="174.50" x2="182.15" y2="174.50" stroke="#d8ae58" stroke-width="1.1" />
<line x1="172.53" y1="174.50" x2="175.18" y2="174.50" stroke="#7a6a4a" stroke-width="0.8800000000000001" />
<line x1="163.90" y1="174.50" x2="168.61" y2="174.50" stroke="#1a1a1a" stroke-width="0.55" />
<line x1="160.46" y1="175.50" x2="182.23" y2="175.50" stroke="#d8ae58" stroke-width="1.1" />
<line x1="160.46" y1="175.50" x2="168.77" y2="175.50" stroke="#1a1a1a" stroke-width="0.55" />
<line x1="160.41" y1="176.50" x2="180.78" y2="176.50" stroke="#d8ae58" stroke-width="1.1" />
<line x1="160.27" y1="177.50" x2="181.94" y2="177.50" stroke="#d8ae58" stroke-width="1.1" />
<line x1="160.68" y1="178.50" x2="180.18" y2="178.50" stroke="#d8ae58" stroke-width="1.1" />
<line x1="164.07" y1="179.50" x2="183.50" y2="179.50" stroke="#d8ae58" stroke-width="1.1" />
<line x1="164.07" y1="179.50" x2="175.23" y2="179.50" stroke="#1a1a1a" stroke-width="0.55" />
<line x1="164.58" y1="180.50" x2="183.65" y2="180.50" stroke="#d8ae58" stroke-width="1.1" />
<line x1="160.33" y1="181.50" x2="182.73" y2="181.50" stroke="#d8ae58" stroke-width="1.1" />
<line x1="160.33" y1="181.50" x2="172.38" y2="181.50" stroke="#1a1a1a" stroke-width="0.55" />
<line x1="161.37" y1="182.50" x2="180.41" y2="182.50" stroke="#d8ae58" stroke-width="1.1" />
<line x1="170.94" y1="182.50" x2="178.46" y2="182.50" stroke="#7a6a4a" stroke-width="0.8800000000000001" />
<line x1="161.37" y1="182.50" x2="164.38" y2="182.50" stroke="#1a1a1a" stroke-width="0.55" />
<line x1="162.53" y1="183.50" x2="182.90" y2="183.50" stroke="#d8ae58" stroke-width="1.1" />
<line x1="166.24" y1="183.50" x2="169.21" y2="183.50" stroke="#7a6a4a" stroke-width="0.8800000000000001" />
<line x1="160.85" y1="159.98" x2="160.85" y2="167.30" stroke="#1a1a1a" stroke-width="0.55" />
<line x1="160.85" y1="159.98" x2="172.43" y2="159.98" stroke="#1a1a1a" stroke-width="0.55" />
<line x1="160.85" y1="167.30" x2="164.39" y2="167.30" stroke="#1a1a1a" stroke-width="0.55" />
<line x1="165.86" y1="148.80" x2="165.86" y2="154.44" stroke="#1a1a1a" stroke-width="0.55" />
<line x1="165.86" y1="148.80" x2="176.98" y2="148.80" stroke="#1a1a1a" stroke-width="0.55" />
<line x1="165.86" y1="154.44" x2="173.16" y2="154.44" stroke="#1a1a1a" stroke-width="0.55" />
<line x1="164.37" y1="152.50" x2="164.37" y2="159.74" stroke="#1a1a1a" stroke-width="0.55" />
<line x1="164.37" y1="152.50" x2="177.54" y2="152.50" stroke="#1a1a1a" stroke-width="0.55" />
<line x1="164.37" y1="159.74" x2="173.18" y2="159.74" stroke="#1a1a1a" stroke-width="0.55" />
<line x1="165.76" y1="138.57" x2="165.76" y2="145.25" stroke="#1a1a1a" stroke-width="0.55" />
<line x1="165.76" y1="138.57" x2="178.39" y2="138.57" stroke="#1a1a1a" stroke-width="0.55" />
<line x1="165.76" y1="145.25" x2="173.43" y2="145.25" stroke="#1a1a1a" stroke-width="0.55" />
<line x1="165.94" y1="136.02" x2="165.94" y2="142.49" stroke="#1a1a1a" stroke-width="0.55" />
<line x1="165.94" y1="136.02" x2="168.62" y2="136.02" stroke="#1a1a1a" stroke-width="0.55" />
<line x1="165.94" y1="142.49" x2="175.42" y2="142.49" stroke="#1a1a1a" stroke-width="0.55" />
<line x1="171.92" y1="112.62" x2="171.92" y2="119.45" stroke="#1a1a1a" stroke-width="0.55" />
<line x1="171.92" y1="112.62" x2="180.25" y2="112.62" stroke="#1a1a1a" stroke-width="0.55" />
<line x1="171.92" y1="119.45" x2="184.39" y2="119.45" stroke="#1a1a1a" stroke-width="0.55" />
<line x1="164.46" y1="152.94" x2="164.46" y2="158.75" stroke="#1a1a1a" stroke-width="0.55" />
<line x1="164.46" y1="152.94" x2="165.49" y2="152.94" stroke="#1a1a1a" stroke-width="0.55" />
<line x1="164.46" y1="158.75" x2="165.88" y2="158.75" stroke="#1a1a1a" stroke-width="0.55" />
<line x1="168.28" y1="120.20" x2="168.28" y2="125.71" stroke="#1a1a1a" stroke-width="0.55" />
<line x1="168.28" y1="120.20" x2="174.85" y2="120.20" stroke="#1a1a1a" stroke-width="0.55" />
<line x1="168.28" y1="125.71" x2="179.44" y2="125.71" stroke="#1a1a1a" stroke-width="0.55" />
<line x1="171.90" y1="118.90" x2="171.90" y2="121.88" stroke="#1a1a1a" stroke-width="0.55" />
<line x1="171.90" y1="118.90" x2="172.28" y2="118.90" stroke="#1a1a1a" stroke-width="0.55" />
<line x1="171.90" y1="121.88" x2="172.04" y2="121.88" stroke="#1a1a1a" stroke-width="0.55" />
<line x1="165.86" y1="135.62" x2="165.86" y2="137.81" stroke="#1a1a1a" stroke-width="0.55" />
<line x1="165.86" y1="135.62" x2="169.19" y2="135.62" stroke="#1a1a1a" stroke-width="0.55" />
<line x1="165.86" y1="137.81" x2="173.50" y2="137.81" stroke="#1a1a1a" stroke-width="0.55" />
<line x1="164.82" y1="153.18" x2="164.82" y2="156.01" stroke="#1a1a1a" stroke-width="0.55" />
<line x1="164.82" y1="153.18" x2="171.09" y2="153.18" stroke="#1a1a1a" stroke-width="0.55" />
<line x1="164.82" y1="156.01" x2="167.00" y2="156.01" stroke="#1a1a1a" stroke-width="0.55" />
<line x1="157.70" y1="179.24" x2="157.70" y2="182.33" stroke="#1a1a1a" stroke-width="0.55" />
<line x1="157.70" y1="179.24" x2="161.15" y2="179.24" stroke="#1a1a1a" stroke-width="0.55" />
<line x1="157.70" y1="182.33" x2="167.66" y2="182.33" stroke="#1a1a1a" stroke-width="0.55" />
<line x1="158.39" y1="174.35" x2="158.39" y2="180.93" stroke="#1a1a1a" stroke-width="0.55" />
<line x1="158.39" y1="174.35" x2="163.17" y2="174.35" stroke="#1a1a1a" stroke-width="0.55" />
<line x1="158.39" y1="180.93" x2="160.14" y2="180.93" stroke="#1a1a1a" stroke-width="0.55" />
<line x1="162.50" y1="157.37" x2="162.50" y2="162.53" stroke="#1a1a1a" stroke-width="0.55" />
<line x1="162.50" y1="157.37" x2="171.67" y2="157.37" stroke="#1a1a1a" stroke-width="0.55" />
<line x1="162.50" y1="162.53" x2="169.25" y2="162.53" stroke="#1a1a1a" stroke-width="0.55" />
<line x1="157.97" y1="179.29" x2="157.97" y2="184.00" stroke="#1a1a1a" stroke-width="0.55" />
<line x1="157.97" y1="179.29" x2="170.84" y2="179.29" stroke="#1a1a1a" stroke-width="0.55" />
<line x1="157.97" y1="184.00" x2="160.53" y2="184.00" stroke="#1a1a1a" stroke-width="0.55" />
<line x1="165.74" y1="148.86" x2="165.74" y2="153.00" stroke="#1a1a1a" stroke-width="0.55" />
<line x1="165.74" y1="148.86" x2="167.20" y2="148.86" stroke="#1a1a1a" stroke-width="0.55" />
<line x1="165.74" y1="153.00" x2="175.85" y2="153.00" stroke="#1a1a1a" stroke-width="0.55" />
<line x1="172.76" y1="109.93" x2="172.76" y2="115.01" stroke="#1a1a1a" stroke-width="0.55" />
<line x1="172.76" y1="109.93" x2="174.53" y2="109.93" stroke="#1a1a1a" stroke-width="0.55" />
<line x1="172.76" y1="115.01" x2="175.22" y2="115.01" stroke="#1a1a1a" stroke-width="0.55" />
<line x1="164.27" y1="154.61" x2="164.27" y2="159.40" stroke="#1a1a1a" stroke-width="0.55" />
<line x1="164.27" y1="154.61" x2="174.65" y2="154.61" stroke="#1a1a1a" stroke-width="0.55" />
<line x1="164.27" y1="159.40" x2="166.98" y2="159.40" stroke="#1a1a1a" stroke-width="0.55" />
<line x1="165.55" y1="132.20" x2="165.55" y2="135.66" stroke="#1a1a1a" stroke-width="0.55" />
<line x1="165.55" y1="132.20" x2="177.17" y2="132.20" stroke="#1a1a1a" stroke-width="0.55" />
<line x1="165.55" y1="135.66" x2="175.90" y2="135.66" stroke="#1a1a1a" stroke-width="0.55" />
<line x1="160.59" y1="162.65" x2="160.59" y2="164.20" stroke="#1a1a1a" stroke-width="0.55" />
<line x1="160.59" y1="162.65" x2="169.95" y2="162.65" stroke="#1a1a1a" stroke-width="0.55" />
<line x1="160.59" y1="164.20" x2="166.59" y2="164.20" stroke="#1a1a1a" stroke-width="0.55" />
<line x1="157.91" y1="164.63" x2="157.91" y2="169.07" stroke="#1a1a1a" stroke-width="0.55" />
<line x1="157.91" y1="164.63" x2="161.26" y2="164.63" stroke="#1a1a1a" stroke-width="0.55" />
<line x1="157.91" y1="169.07" x2="162.79" y2="169.07" stroke="#1a1a1a" stroke-width="0.55" />
<line x1="172.41" y1="111.91" x2="172.41" y2="115.59" stroke="#1a1a1a" stroke-width="0.55" />
<line x1="172.41" y1="111.91" x2="180.99" y2="111.91" stroke="#1a1a1a" stroke-width="0.55" />
<line x1="172.41" y1="115.59" x2="182.79" y2="115.59" stroke="#1a1a1a" stroke-width="0.55" />
<line x1="157.30" y1="163.00" x2="157.30" y2="185.00" stroke="#222" stroke-width="0.6" />
<line x1="73.40" y1="200.30" x2="131.00" y2="200.30" stroke="#555" stroke-width="0.9" />
<line x1="131.00" y1="200.30" x2="150.00" y2="200.30" stroke="#222" stroke-width="0.9" />
<line x1="146.40" y1="194.96" x2="146.40" y2="198.03" stroke="#333" stroke-width="0.5" />
<line x1="146.40" y1="194.96" x2="154.76" y2="194.96" stroke="#333" stroke-width="0.5" />
<line x1="146.40" y1="198.03" x2="158.28" y2="198.03" stroke="#333" stroke-width="0.5" />
<line x1="148.69" y1="192.33" x2="148.69" y2="195.39" stroke="#333" stroke-width="0.5" />
<line x1="148.69" y1="192.33" x2="162.34" y2="192.33" stroke="#333" stroke-width="0.5" />
<line x1="148.69" y1="195.39" x2="154.86" y2="195.39" stroke="#333" stroke-width="0.5" />
<line x1="138.77" y1="197.32" x2="138.77" y2="199.38" stroke="#333" stroke-width="0.5" />
<line x1="138.77" y1="197.32" x2="145.13" y2="197.32" stroke="#333" stroke-width="0.5" />
<line x1="138.77" y1="199.38" x2="150.21" y2="199.38" stroke="#333" stroke-width="0.5" />
<line x1="140.50" y1="198.23" x2="140.50" y2="200.00" stroke="#333" stroke-width="0.5" />
<line x1="140.50" y1="198.23" x2="153.30" y2="198.23" stroke="#333" stroke-width="0.5" />
<line x1="140.50" y1="200.00" x2="147.78" y2="200.00" stroke="#333" stroke-width="0.5" />
<line x1="148.40" y1="188.35" x2="148.40" y2="193.98" stroke="#333" stroke-width="0.5" />
<line x1="148.40" y1="188.35" x2="159.33" y2="188.35" stroke="#333" stroke-width="0.5" />
<line x1="148.40" y1="193.98" x2="159.05" y2="193.98" stroke="#333" stroke-width="0.5" />
<line x1="153.83" y1="198.71" x2="153.83" y2="200.00" stroke="#333" stroke-width="0.5" />
<line x1="153.83" y1="198.71" x2="164.81" y2="198.71" stroke="#333" stroke-width="0.5" />
<line x1="153.83" y1="200.00" x2="166.41" y2="200.00" stroke="#333" stroke-width="0.5" />
<line x1="146.83" y1="191.12" x2="146.83" y2="196.02" stroke="#333" stroke-width="0.5" />
<line x1="146.83" y1="191.12" x2="153.91" y2="191.12" stroke="#333" stroke-width="0.5" />
<line x1="146.83" y1="196.02" x2="152.95" y2="196.02" stroke="#333" stroke-width="0.5" />
<line x1="155.68" y1="193.72" x2="155.68" y2="196.03" stroke="#333" stroke-width="0.5" />
<line x1="155.68" y1="193.72" x2="161.13" y2="193.72" stroke="#333" stroke-width="0.5" />
<line x1="155.68" y1="196.03" x2="159.95" y2="196.03" stroke="#333" stroke-width="0.5" />
<line x1="138.03" y1="185.50" x2="165.17" y2="185.50" stroke="#8a83bb" stroke-width="1.0" />
<line x1="138.03" y1="185.50" x2="141.29" y2="185.50" stroke="#2a2a2a" stroke-width="0.6" />
<line x1="136.79" y1="186.50" x2="169.51" y2="186.50" stroke="#8a83bb" stroke-width="1.0" />
<line x1="150.00" y1="187.50" x2="188.67" y2="187.50" stroke="#8a83bb" stroke-width="1.0" />
<line x1="150.00" y1="187.50" x2="160.36" y2="187.50" stroke="#2a2a2a" stroke-width="0.6" />
<line x1="151.57" y1="188.50" x2="160.99" y2="188.50" stroke="#8a83bb" stroke-width="1.0" />
<line x1="153.37" y1="189.50" x2="161.61" y2="189.50" stroke="#8a83bb" stroke-width="1.0" />
<line x1="153.37" y1="189.50" x2="157.38" y2="189.50" stroke="#2a2a2a" stroke-width="0.6" />
<line x1="136.65" y1="190.50" x2="172.18" y2="190.50" stroke="#8a83bb" stroke-width="1.0" />
<line x1="151.68" y1="191.50" x2="164.31" y2="191.50" stroke="#8a83bb" stroke-width="1.0" />
<line x1="151.68" y1="191.50" x2="155.56" y2="191.50" stroke="#2a2a2a" stroke-width="0.6" />
<line x1="150.39" y1="192.50" x2="179.17" y2="192.50" stroke="#8a83bb" stroke-width="1.0" />
<line x1="150.39" y1="192.50" x2="153.58" y2="192.50" stroke="#2a2a2a" stroke-width="0.6" />
<line x1="140.88" y1="193.50" x2="193.05" y2="193.50" stroke="#8a83bb" stroke-width="1.0" />
<line x1="140.88" y1="193.50" x2="146.76" y2="193.50" stroke="#2a2a2a" stroke-width="0.6" />
<line x1="154.32" y1="194.50" x2="197.80" y2="194.50" stroke="#8a83bb" stroke-width="1.0" />
<line x1="136.59" y1="195.50" x2="183.28" y2="195.50" stroke="#8a83bb" stroke-width="1.0" />
<line x1="142.59" y1="196.50" x2="168.07" y2="196.50" stroke="#8a83bb" stroke-width="1.0" />
<line x1="142.59" y1="196.50" x2="153.35" y2="196.50" stroke="#2a2a2a" stroke-width="0.6" />
<line x1="137.73" y1="197.50" x2="162.56" y2="197.50" stroke="#8a83bb" stroke-width="1.0" />
<line x1="137.73" y1="197.50" x2="142.55" y2="197.50" stroke="#2a2a2a" stroke-width="0.6" />
<line x1="150.48" y1="198.50" x2="160.07" y2="198.50" stroke="#8a83bb" stroke-width="1.0" />
<line x1="150.48" y1="198.50" x2="157.90" y2="198.50" stroke="#2a2a2a" stroke-width="0.6" />
<line x1="151.14" y1="199.50" x2="185.31" y2="199.50" stroke="#8a83bb" stroke-width="1.0" />
<line x1="151.14" y1="199.50" x2="161.63" y2="199.50" stroke="#2a2a2a" stroke-width="0.6" />
<line x1="140.95" y1="200.50" x2="164.26" y2="200.50" stroke="#8a83bb" stroke-width="1.0" />
<line x1="140.95" y1="200.50" x2="150.25" y2="200.50" stroke="#2a2a2a" stroke-width="0.6" />
<line x1="154.00" y1="188.50" x2="171.00" y2="188.50" stroke="#cf5560" stroke-width="1.0" />
<line x1="146.00" y1="193.50" x2="170.00" y2="193.50" stroke="#cf5560" stroke-width="1.0" />
<line x1="147.00" y1="194.50" x2="171.00" y2="194.50" stroke="#cf5560" stroke-width="1.0" />
<line x1="148.00" y1="195.50" x2="170.00" y2="195.50" stroke="#cf5560" stroke-width="1.0" />
<line x1="126.00" y1="199.50" x2="170.00" y2="199.50" stroke="#cf5560" stroke-width="1.0" />
<line x1="150.00" y1="194.50" x2="168.00" y2="194.50" stroke="#e8a0a8" stroke-width="0.5" />
<line x1="126.41" y1="202.50" x2="142.35" y2="202.50" stroke="#8d86be" stroke-width="1.0" />
<line x1="126.41" y1="202.50" x2="135.83" y2="202.50" stroke="#1a1a1a" stroke-width="0.55" />
<line x1="128.28" y1="203.50" x2="138.96" y2="203.50" stroke="#8d86be" stroke-width="1.0" />
<line x1="132.56" y1="203.50" x2="136.93" y2="203.50" stroke="#4a4470" stroke-width="0.8" />
<line x1="138.96" y1="203.50" x2="166.17" y2="203.50" stroke="#9f98cb" stroke-width="1.0" />
<line x1="122.79" y1="204.50" x2="142.15" y2="204.50" stroke="#8d86be" stroke-width="1.0" />
<line x1="140.23" y1="204.50" x2="142.15" y2="204.50" stroke="#4a4470" stroke-width="0.8" />
<line x1="122.79" y1="204.50" x2="135.62" y2="204.50" stroke="#1a1a1a" stroke-width="0.55" />
<line x1="125.69" y1="205.50" x2="140.10" y2="205.50" stroke="#8d86be" stroke-width="1.0" />
<line x1="125.69" y1="205.50" x2="132.68" y2="205.50" stroke="#1a1a1a" stroke-width="0.55" />
<line x1="124.59" y1="206.50" x2="142.97" y2="206.50" stroke="#8d86be" stroke-width="1.0" />
<line x1="124.59" y1="206.50" x2="134.82" y2="206.50" stroke="#1a1a1a" stroke-width="0.55" />
<line x1="125.23" y1="207.50" x2="138.88" y2="207.50" stroke="#8d86be" stroke-width="1.0" />
<line x1="125.23" y1="207.50" x2="129.96" y2="207.50" stroke="#1a1a1a" stroke-width="0.55" />
<line x1="123.67" y1="208.50" x2="143.19" y2="208.50" stroke="#8d86be" stroke-width="1.0" />
<line x1="137.39" y1="208.50" x2="143.19" y2="208.50" stroke="#4a4470" stroke-width="0.8" />
<line x1="123.67" y1="208.50" x2="125.95" y2="208.50" stroke="#1a1a1a" stroke-width="0.55" />
<line x1="124.13" y1="209.50" x2="141.11" y2="209.50" stroke="#8d86be" stroke-width="1.0" />
<line x1="129.70" y1="209.50" x2="132.84" y2="209.50" stroke="#4a4470" stroke-width="0.8" />
<line x1="122.40" y1="210.50" x2="138.26" y2="210.50" stroke="#8d86be" stroke-width="1.0" />
<line x1="128.50" y1="210.50" x2="136.40" y2="210.50" stroke="#4a4470" stroke-width="0.8" />
<line x1="122.40" y1="210.50" x2="131.13" y2="210.50" stroke="#1a1a1a" stroke-width="0.55" />
<line x1="122.91" y1="211.50" x2="140.77" y2="211.50" stroke="#8d86be" stroke-width="1.0" />
<line x1="126.60" y1="211.50" x2="130.93" y2="211.50" stroke="#4a4470" stroke-width="0.8" />
<line x1="122.91" y1="211.50" x2="128.26" y2="211.50" stroke="#1a1a1a" stroke-width="0.55" />
<line x1="126.24" y1="212.50" x2="141.97" y2="212.50" stroke="#8d86be" stroke-width="1.0" />
<line x1="126.24" y1="212.50" x2="127.91" y2="212.50" stroke="#1a1a1a" stroke-width="0.55" />
<line x1="124.06" y1="213.50" x2="140.52" y2="213.50" stroke="#8d86be" stroke-width="1.0" />
<line x1="124.06" y1="213.50" x2="131.15" y2="213.50" stroke="#1a1a1a" stroke-width="0.55" />
<line x1="124.03" y1="214.50" x2="144.34" y2="214.50" stroke="#8d86be" stroke-width="1.0" />
<line x1="125.90" y1="215.50" x2="140.21" y2="215.50" stroke="#8d86be" stroke-width="1.0" />
<line x1="125.90" y1="215.50" x2="130.77" y2="215.50" stroke="#1a1a1a" stroke-width="0.55" />
<line x1="125.40" y1="216.50" x2="145.73" y2="216.50" stroke="#8d86be" stroke-width="1.0" />
<line x1="125.40" y1="216.50" x2="136.27" y2="216.50" stroke="#1a1a1a" stroke-width="0.55" />
<line x1="122.75" y1="217.50" x2="143.68" y2="217.50" stroke="#8d86be" stroke-width="1.0" />
<line x1="122.75" y1="217.50" x2="129.18" y2="217.50" stroke="#1a1a1a" stroke-width="0.55" />
<line x1="127.51" y1="218.50" x2="145.60" y2="218.50" stroke="#8d86be" stroke-width="1.0" />
<line x1="127.51" y1="218.50" x2="132.79" y2="218.50" stroke="#1a1a1a" stroke-width="0.55" />
<line x1="117.90" y1="218.57" x2="117.90" y2="219.00" stroke="#1a1a1a" stroke-width="0.55" />
<line x1="117.90" y1="218.57" x2="121.64" y2="218.57" stroke="#1a1a1a" stroke-width="0.55" />
<line x1="117.90" y1="219.00" x2="124.13" y2="219.00" stroke="#1a1a1a" stroke-width="0.55" />
<line x1="115.16" y1="217.99" x2="115.16" y2="219.00" stroke="#1a1a1a" stroke-width="0.55" />
<line x1="115.16" y1="217.99" x2="123.30" y2="217.99" stroke="#1a1a1a" stroke-width="0.55" />
<line x1="115.16" y1="219.00" x2="123.16" y2="219.00" stroke="#1a1a1a" stroke-width="0.55" />
<line x1="119.41" y1="214.19" x2="119.41" y2="219.00" stroke="#1a1a1a" stroke-width="0.55" />
<line x1="119.41" y1="214.19" x2="124.44" y2="214.19" stroke="#1a1a1a" stroke-width="0.55" />
<line x1="119.41" y1="219.00" x2="123.21" y2="219.00" stroke="#1a1a1a" stroke-width="0.55" />
<line x1="119.44" y1="208.98" x2="119.44" y2="216.64" stroke="#1a1a1a" stroke-width="0.55" />
<line x1="119.44" y1="208.98" x2="124.66" y2="208.98" stroke="#1a1a1a" stroke-width="0.55" />
<line x1="119.44" y1="216.64" x2="123.50" y2="216.64" stroke="#1a1a1a" stroke-width="0.55" />
<line x1="120.93" y1="214.97" x2="120.93" y2="217.26" stroke="#1a1a1a" stroke-width="0.55" />
<line x1="120.93" y1="214.97" x2="122.43" y2="214.97" stroke="#1a1a1a" stroke-width="0.55" />
<line x1="120.93" y1="217.26" x2="121.23" y2="217.26" stroke="#1a1a1a" stroke-width="0.55" />
<line x1="119.88" y1="206.66" x2="119.88" y2="210.76" stroke="#1a1a1a" stroke-width="0.55" />
<line x1="119.88" y1="206.66" x2="123.96" y2="206.66" stroke="#1a1a1a" stroke-width="0.55" />
<line x1="119.88" y1="210.76" x2="123.96" y2="210.76" stroke="#1a1a1a" stroke-width="0.55" />
<line x1="117.76" y1="213.87" x2="117.76" y2="217.66" stroke="#1a1a1a" stroke-width="0.55" />
<line x1="117.76" y1="213.87" x2="122.07" y2="213.87" stroke="#1a1a1a" stroke-width="0.55" />
<line x1="117.76" y1="217.66" x2="124.14" y2="217.66" stroke="#1a1a1a" stroke-width="0.55" />
<line x1="128.50" y1="219.50" x2="142.83" y2="219.50" stroke="#8d86be" stroke-width="1.0" />
<line x1="139.99" y1="219.50" x2="142.83" y2="219.50" stroke="#4a4470" stroke-width="0.8" />
<line x1="128.50" y1="219.50" x2="129.99" y2="219.50" stroke="#1a1a1a" stroke-width="0.55" />
<line x1="127.43" y1="220.50" x2="142.07" y2="220.50" stroke="#8d86be" stroke-width="1.0" />
<line x1="127.43" y1="220.50" x2="130.07" y2="220.50" stroke="#1a1a1a" stroke-width="0.55" />
<line x1="123.74" y1="221.50" x2="142.13" y2="221.50" stroke="#8d86be" stroke-width="1.0" />
<line x1="123.74" y1="221.50" x2="130.63" y2="221.50" stroke="#1a1a1a" stroke-width="0.55" />
<line x1="142.13" y1="221.50" x2="176.44" y2="221.50" stroke="#9f98cb" stroke-width="1.0" />
<line x1="121.89" y1="222.50" x2="140.66" y2="222.50" stroke="#8d86be" stroke-width="1.0" />
<line x1="137.86" y1="222.50" x2="140.66" y2="222.50" stroke="#4a4470" stroke-width="0.8" />
<line x1="121.89" y1="222.50" x2="125.70" y2="222.50" stroke="#1a1a1a" stroke-width="0.55" />
<line x1="140.66" y1="222.50" x2="157.59" y2="222.50" stroke="#9f98cb" stroke-width="1.0" />
<line x1="120.88" y1="223.50" x2="141.65" y2="223.50" stroke="#8d86be" stroke-width="1.0" />
<line x1="125.97" y1="223.50" x2="129.78" y2="223.50" stroke="#4a4470" stroke-width="0.8" />
<line x1="120.88" y1="223.50" x2="128.00" y2="223.50" stroke="#1a1a1a" stroke-width="0.55" />
<line x1="126.10" y1="224.50" x2="144.62" y2="224.50" stroke="#8d86be" stroke-width="1.0" />
<line x1="144.62" y1="224.50" x2="192.36" y2="224.50" stroke="#9f98cb" stroke-width="1.0" />
<line x1="128.04" y1="225.50" x2="141.35" y2="225.50" stroke="#8d86be" stroke-width="1.0" />
<line x1="139.10" y1="225.50" x2="141.35" y2="225.50" stroke="#4a4470" stroke-width="0.8" />
<line x1="128.04" y1="225.50" x2="128.16" y2="225.50" stroke="#1a1a1a" stroke-width="0.55" />
<line x1="126.01" y1="226.50" x2="145.71" y2="226.50" stroke="#8d86be" stroke-width="1.0" />
<line x1="128.82" y1="226.50" x2="132.22" y2="226.50" stroke="#4a4470" stroke-width="0.8" />
<line x1="126.01" y1="226.50" x2="131.47" y2="226.50" stroke="#1a1a1a" stroke-width="0.55" />
<line x1="145.71" y1="226.50" x2="197.11" y2="226.50" stroke="#9f98cb" stroke-width="1.0" />
<line x1="127.06" y1="227.50" x2="146.47" y2="227.50" stroke="#8d86be" stroke-width="1.0" />
<line x1="127.06" y1="227.50" x2="139.19" y2="227.50" stroke="#1a1a1a" stroke-width="0.55" />
<line x1="127.84" y1="228.50" x2="141.60" y2="228.50" stroke="#8d86be" stroke-width="1.0" />
<line x1="127.84" y1="228.50" x2="135.47" y2="228.50" stroke="#1a1a1a" stroke-width="0.55" />
<line x1="126.60" y1="229.50" x2="144.49" y2="229.50" stroke="#8d86be" stroke-width="1.0" />
<line x1="126.60" y1="229.50" x2="130.38" y2="229.50" stroke="#1a1a1a" stroke-width="0.55" />
<line x1="144.49" y1="229.50" x2="159.18" y2="229.50" stroke="#9f98cb" stroke-width="1.0" />
<line x1="124.57" y1="230.50" x2="147.63" y2="230.50" stroke="#8d86be" stroke-width="1.0" />
<line x1="124.57" y1="230.50" x2="133.64" y2="230.50" stroke="#1a1a1a" stroke-width="0.55" />
<line x1="147.63" y1="230.50" x2="181.53" y2="230.50" stroke="#9f98cb" stroke-width="1.0" />
<line x1="127.50" y1="231.50" x2="148.14" y2="231.50" stroke="#8d86be" stroke-width="1.0" />
<line x1="127.50" y1="231.50" x2="136.79" y2="231.50" stroke="#1a1a1a" stroke-width="0.55" />
<line x1="127.29" y1="232.50" x2="145.29" y2="232.50" stroke="#8d86be" stroke-width="1.0" />
<line x1="144.58" y1="232.50" x2="145.29" y2="232.50" stroke="#4a4470" stroke-width="0.8" />
<line x1="127.29" y1="232.50" x2="136.45" y2="232.50" stroke="#1a1a1a" stroke-width="0.55" />
<line x1="145.29" y1="232.50" x2="182.55" y2="232.50" stroke="#9f98cb" stroke-width="1.0" />
<line x1="125.99" y1="233.50" x2="140.93" y2="233.50" stroke="#8d86be" stroke-width="1.0" />
<line x1="140.66" y1="233.50" x2="140.93" y2="233.50" stroke="#4a4470" stroke-width="0.8" />
<line x1="125.99" y1="233.50" x2="136.72" y2="233.50" stroke="#1a1a1a" stroke-width="0.55" />
<line x1="140.93" y1="233.50" x2="183.40" y2="233.50" stroke="#9f98cb" stroke-width="1.0" />
<line x1="125.50" y1="234.50" x2="145.77" y2="234.50" stroke="#8d86be" stroke-width="1.0" />
<line x1="125.50" y1="234.50" x2="133.20" y2="234.50" stroke="#1a1a1a" stroke-width="0.55" />
<line x1="126.63" y1="235.50" x2="146.89" y2="235.50" stroke="#8d86be" stroke-width="1.0" />
<line x1="135.19" y1="235.50" x2="140.51" y2="235.50" stroke="#4a4470" stroke-width="0.8" />
<line x1="126.63" y1="235.50" x2="131.38" y2="235.50" stroke="#1a1a1a" stroke-width="0.55" />
<line x1="123.67" y1="236.50" x2="144.64" y2="236.50" stroke="#8d86be" stroke-width="1.0" />
<line x1="134.29" y1="236.50" x2="142.14" y2="236.50" stroke="#4a4470" stroke-width="0.8" />
<line x1="123.67" y1="236.50" x2="136.95" y2="236.50" stroke="#1a1a1a" stroke-width="0.55" />
<line x1="144.64" y1="236.50" x2="167.86" y2="236.50" stroke="#9f98cb" stroke-width="1.0" />
<line x1="122.80" y1="237.50" x2="144.07" y2="237.50" stroke="#8d86be" stroke-width="1.0" />
<line x1="122.80" y1="237.50" x2="123.48" y2="237.50" stroke="#1a1a1a" stroke-width="0.55" />
<line x1="127.46" y1="238.50" x2="144.49" y2="238.50" stroke="#8d86be" stroke-width="1.0" />
<line x1="132.57" y1="238.50" x2="134.61" y2="238.50" stroke="#4a4470" stroke-width="0.8" />
<line x1="127.46" y1="238.50" x2="140.02" y2="238.50" stroke="#1a1a1a" stroke-width="0.55" />
<line x1="125.60" y1="239.50" x2="142.64" y2="239.50" stroke="#8d86be" stroke-width="1.0" />
<line x1="125.60" y1="239.50" x2="134.01" y2="239.50" stroke="#1a1a1a" stroke-width="0.55" />
<line x1="125.88" y1="240.50" x2="144.20" y2="240.50" stroke="#8d86be" stroke-width="1.0" />
<line x1="125.88" y1="240.50" x2="135.66" y2="240.50" stroke="#1a1a1a" stroke-width="0.55" />
<line x1="144.20" y1="240.50" x2="188.81" y2="240.50" stroke="#9f98cb" stroke-width="1.0" />
<line x1="121.09" y1="241.50" x2="147.47" y2="241.50" stroke="#8d86be" stroke-width="1.0" />
<line x1="141.52" y1="241.50" x2="147.47" y2="241.50" stroke="#4a4470" stroke-width="0.8" />
<line x1="121.09" y1="241.50" x2="128.87" y2="241.50" stroke="#1a1a1a" stroke-width="0.55" />
<line x1="126.53" y1="242.50" x2="144.37" y2="242.50" stroke="#8d86be" stroke-width="1.0" />
<line x1="131.92" y1="242.50" x2="136.45" y2="242.50" stroke="#4a4470" stroke-width="0.8" />
<line x1="126.53" y1="242.50" x2="132.68" y2="242.50" stroke="#1a1a1a" stroke-width="0.55" />
<line x1="127.68" y1="243.50" x2="148.38" y2="243.50" stroke="#8d86be" stroke-width="1.0" />
<line x1="127.68" y1="243.50" x2="129.65" y2="243.50" stroke="#1a1a1a" stroke-width="0.55" />
<line x1="124.78" y1="244.50" x2="141.42" y2="244.50" stroke="#8d86be" stroke-width="1.0" />
<line x1="125.02" y1="244.50" x2="129.34" y2="244.50" stroke="#4a4470" stroke-width="0.8" />
<line x1="124.78" y1="244.50" x2="137.26" y2="244.50" stroke="#1a1a1a" stroke-width="0.55" />
<line x1="123.95" y1="245.50" x2="145.42" y2="245.50" stroke="#8d86be" stroke-width="1.0" />
<line x1="137.79" y1="245.50" x2="141.06" y2="245.50" stroke="#4a4470" stroke-width="0.8" />
<line x1="123.95" y1="245.50" x2="124.22" y2="245.50" stroke="#1a1a1a" stroke-width="0.55" />
<line x1="145.42" y1="245.50" x2="186.24" y2="245.50" stroke="#9f98cb" stroke-width="1.0" />
<line x1="121.09" y1="246.50" x2="140.94" y2="246.50" stroke="#8d86be" stroke-width="1.0" />
<line x1="138.35" y1="246.50" x2="140.94" y2="246.50" stroke="#4a4470" stroke-width="0.8" />
<line x1="121.09" y1="246.50" x2="132.51" y2="246.50" stroke="#1a1a1a" stroke-width="0.55" />
<line x1="140.94" y1="246.50" x2="184.15" y2="246.50" stroke="#9f98cb" stroke-width="1.0" />
<line x1="121.58" y1="247.50" x2="148.21" y2="247.50" stroke="#8d86be" stroke-width="1.0" />
<line x1="121.58" y1="247.50" x2="139.81" y2="247.50" stroke="#1a1a1a" stroke-width="0.55" />
<line x1="120.72" y1="248.50" x2="143.54" y2="248.50" stroke="#8d86be" stroke-width="1.0" />
<line x1="120.72" y1="248.50" x2="137.74" y2="248.50" stroke="#1a1a1a" stroke-width="0.55" />
<line x1="143.54" y1="248.50" x2="197.82" y2="248.50" stroke="#9f98cb" stroke-width="1.0" />
<line x1="125.75" y1="249.50" x2="148.42" y2="249.50" stroke="#8d86be" stroke-width="1.0" />
<line x1="140.50" y1="249.50" x2="147.41" y2="249.50" stroke="#4a4470" stroke-width="0.8" />
<line x1="125.75" y1="249.50" x2="131.39" y2="249.50" stroke="#1a1a1a" stroke-width="0.55" />
<line x1="121.35" y1="250.50" x2="141.57" y2="250.50" stroke="#8d86be" stroke-width="1.0" />
<line x1="121.35" y1="250.50" x2="127.30" y2="250.50" stroke="#1a1a1a" stroke-width="0.55" />
<line x1="123.58" y1="251.50" x2="143.00" y2="251.50" stroke="#8d86be" stroke-width="1.0" />
<line x1="139.06" y1="251.50" x2="143.00" y2="251.50" stroke="#4a4470" stroke-width="0.8" />
<line x1="123.58" y1="251.50" x2="133.36" y2="251.50" stroke="#1a1a1a" stroke-width="0.55" />
<line x1="143.00" y1="251.50" x2="169.51" y2="251.50" stroke="#9f98cb" stroke-width="1.0" />
<line x1="126.41" y1="252.50" x2="140.80" y2="252.50" stroke="#8d86be" stroke-width="1.0" />
<line x1="126.41" y1="252.50" x2="129.78" y2="252.50" stroke="#1a1a1a" stroke-width="0.55" />
<line x1="140.80" y1="252.50" x2="195.55" y2="252.50" stroke="#9f98cb" stroke-width="1.0" />
<line x1="125.80" y1="253.50" x2="141.69" y2="253.50" stroke="#8d86be" stroke-width="1.0" />
<line x1="135.43" y1="253.50" x2="141.69" y2="253.50" stroke="#4a4470" stroke-width="0.8" />
<line x1="125.80" y1="253.50" x2="133.44" y2="253.50" stroke="#1a1a1a" stroke-width="0.55" />
<line x1="141.69" y1="253.50" x2="170.26" y2="253.50" stroke="#9f98cb" stroke-width="1.0" />
<line x1="127.33" y1="254.50" x2="145.24" y2="254.50" stroke="#8d86be" stroke-width="1.0" />
<line x1="127.33" y1="254.50" x2="140.17" y2="254.50" stroke="#1a1a1a" stroke-width="0.55" />
<line x1="122.54" y1="255.50" x2="148.19" y2="255.50" stroke="#8d86be" stroke-width="1.0" />
<line x1="133.38" y1="255.50" x2="138.90" y2="255.50" stroke="#4a4470" stroke-width="0.8" />
<line x1="122.54" y1="255.50" x2="140.75" y2="255.50" stroke="#1a1a1a" stroke-width="0.55" />
<line x1="148.19" y1="255.50" x2="196.19" y2="255.50" stroke="#9f98cb" stroke-width="1.0" />
<line x1="126.82" y1="256.50" x2="141.22" y2="256.50" stroke="#8d86be" stroke-width="1.0" />
<line x1="126.82" y1="256.50" x2="136.62" y2="256.50" stroke="#1a1a1a" stroke-width="0.55" />
<line x1="125.85" y1="257.50" x2="140.79" y2="257.50" stroke="#8d86be" stroke-width="1.0" />
<line x1="127.12" y1="257.50" x2="132.45" y2="257.50" stroke="#4a4470" stroke-width="0.8" />
<line x1="125.85" y1="257.50" x2="128.25" y2="257.50" stroke="#1a1a1a" stroke-width="0.55" />
<line x1="127.88" y1="258.50" x2="146.18" y2="258.50" stroke="#8d86be" stroke-width="1.0" />
<line x1="127.88" y1="258.50" x2="134.69" y2="258.50" stroke="#1a1a1a" stroke-width="0.55" />
<line x1="146.18" y1="258.50" x2="166.41" y2="258.50" stroke="#9f98cb" stroke-width="1.0" />
<line x1="126.48" y1="259.50" x2="141.67" y2="259.50" stroke="#8d86be" stroke-width="1.0" />
<line x1="126.48" y1="259.50" x2="136.28" y2="259.50" stroke="#1a1a1a" stroke-width="0.55" />
<line x1="122.39" y1="260.50" x2="143.31" y2="260.50" stroke="#8d86be" stroke-width="1.0" />
<line x1="124.39" y1="261.50" x2="143.18" y2="261.50" stroke="#8d86be" stroke-width="1.0" />
<line x1="128.00" y1="261.50" x2="131.09" y2="261.50" stroke="#4a4470" stroke-width="0.8" />
<line x1="124.39" y1="261.50" x2="129.84" y2="261.50" stroke="#1a1a1a" stroke-width="0.55" />
<line x1="123.84" y1="262.50" x2="143.71" y2="262.50" stroke="#8d86be" stroke-width="1.0" />
<line x1="124.73" y1="262.50" x2="132.71" y2="262.50" stroke="#4a4470" stroke-width="0.8" />
<line x1="123.84" y1="262.50" x2="125.53" y2="262.50" stroke="#1a1a1a" stroke-width="0.55" />
<line x1="126.97" y1="263.50" x2="146.55" y2="263.50" stroke="#8d86be" stroke-width="1.0" />
<line x1="126.97" y1="263.50" x2="135.11" y2="263.50" stroke="#1a1a1a" stroke-width="0.55" />
<line x1="146.55" y1="263.50" x2="156.16" y2="263.50" stroke="#9f98cb" stroke-width="1.0" />
<line x1="128.65" y1="264.50" x2="140.81" y2="264.50" stroke="#8d86be" stroke-width="1.0" />
<line x1="128.65" y1="264.50" x2="131.19" y2="264.50" stroke="#1a1a1a" stroke-width="0.55" />
<line x1="124.18" y1="265.50" x2="140.12" y2="265.50" stroke="#8d86be" stroke-width="1.0" />
<line x1="124.18" y1="265.50" x2="136.47" y2="265.50" stroke="#1a1a1a" stroke-width="0.55" />
<line x1="140.12" y1="265.50" x2="149.94" y2="265.50" stroke="#9f98cb" stroke-width="1.0" />
<line x1="122.43" y1="266.50" x2="146.20" y2="266.50" stroke="#8d86be" stroke-width="1.0" />
<line x1="123.64" y1="266.50" x2="128.99" y2="266.50" stroke="#4a4470" stroke-width="0.8" />
<line x1="146.20" y1="266.50" x2="199.66" y2="266.50" stroke="#9f98cb" stroke-width="1.0" />
<line x1="128.15" y1="267.50" x2="147.08" y2="267.50" stroke="#8d86be" stroke-width="1.0" />
<line x1="128.15" y1="267.50" x2="129.97" y2="267.50" stroke="#1a1a1a" stroke-width="0.55" />
<line x1="122.98" y1="268.50" x2="143.02" y2="268.50" stroke="#8d86be" stroke-width="1.0" />
<line x1="124.12" y1="269.50" x2="143.90" y2="269.50" stroke="#8d86be" stroke-width="1.0" />
<line x1="143.22" y1="269.50" x2="143.90" y2="269.50" stroke="#4a4470" stroke-width="0.8" />
<line x1="124.12" y1="269.50" x2="124.73" y2="269.50" stroke="#1a1a1a" stroke-width="0.55" />
<line x1="143.90" y1="269.50" x2="168.80" y2="269.50" stroke="#9f98cb" stroke-width="1.0" />
<line x1="128.06" y1="270.50" x2="140.20" y2="270.50" stroke="#8d86be" stroke-width="1.0" />
<line x1="128.06" y1="270.50" x2="135.70" y2="270.50" stroke="#1a1a1a" stroke-width="0.55" />
<line x1="125.67" y1="271.50" x2="139.50" y2="271.50" stroke="#8d86be" stroke-width="1.0" />
<line x1="127.68" y1="271.50" x2="134.21" y2="271.50" stroke="#4a4470" stroke-width="0.8" />
<line x1="122.56" y1="272.50" x2="142.60" y2="272.50" stroke="#8d86be" stroke-width="1.0" />
<line x1="122.56" y1="272.50" x2="127.75" y2="272.50" stroke="#1a1a1a" stroke-width="0.55" />
<line x1="142.60" y1="272.50" x2="156.56" y2="272.50" stroke="#9f98cb" stroke-width="1.0" />
<line x1="123.68" y1="273.50" x2="145.93" y2="273.50" stroke="#8d86be" stroke-width="1.0" />
<line x1="126.87" y1="273.50" x2="132.93" y2="273.50" stroke="#4a4470" stroke-width="0.8" />
<line x1="123.68" y1="273.50" x2="136.45" y2="273.50" stroke="#1a1a1a" stroke-width="0.55" />
<line x1="145.93" y1="273.50" x2="155.66" y2="273.50" stroke="#9f98cb" stroke-width="1.0" />
<line x1="126.92" y1="274.50" x2="145.47" y2="274.50" stroke="#8d86be" stroke-width="1.0" />
<line x1="120.28" y1="275.50" x2="143.60" y2="275.50" stroke="#8d86be" stroke-width="1.0" />
<line x1="141.94" y1="275.50" x2="143.60" y2="275.50" stroke="#4a4470" stroke-width="0.8" />
<line x1="120.28" y1="275.50" x2="128.72" y2="275.50" stroke="#1a1a1a" stroke-width="0.55" />
<line x1="143.60" y1="275.50" x2="191.11" y2="275.50" stroke="#9f98cb" stroke-width="1.0" />
<line x1="122.65" y1="276.50" x2="142.10" y2="276.50" stroke="#8d86be" stroke-width="1.0" />
<line x1="126.96" y1="276.50" x2="129.30" y2="276.50" stroke="#4a4470" stroke-width="0.8" />
<line x1="122.65" y1="276.50" x2="131.26" y2="276.50" stroke="#1a1a1a" stroke-width="0.55" />
<line x1="142.10" y1="276.50" x2="191.90" y2="276.50" stroke="#9f98cb" stroke-width="1.0" />
<line x1="120.63" y1="277.50" x2="143.78" y2="277.50" stroke="#8d86be" stroke-width="1.0" />
<line x1="126.91" y1="277.50" x2="133.95" y2="277.50" stroke="#4a4470" stroke-width="0.8" />
<line x1="120.63" y1="277.50" x2="123.74" y2="277.50" stroke="#1a1a1a" stroke-width="0.55" />
<line x1="143.78" y1="277.50" x2="167.05" y2="277.50" stroke="#9f98cb" stroke-width="1.0" />
<line x1="125.39" y1="278.50" x2="146.11" y2="278.50" stroke="#8d86be" stroke-width="1.0" />
<line x1="125.39" y1="278.50" x2="140.23" y2="278.50" stroke="#1a1a1a" stroke-width="0.55" />
<line x1="115.28" y1="232.06" x2="115.28" y2="236.67" stroke="#1a1a1a" stroke-width="0.55" />
<line x1="115.28" y1="232.06" x2="121.61" y2="232.06" stroke="#1a1a1a" stroke-width="0.55" />
<line x1="115.28" y1="236.67" x2="121.39" y2="236.67" stroke="#1a1a1a" stroke-width="0.55" />
<line x1="120.27" y1="241.17" x2="120.27" y2="249.12" stroke="#1a1a1a" stroke-width="0.55" />
<line x1="120.27" y1="241.17" x2="123.99" y2="241.17" stroke="#1a1a1a" stroke-width="0.55" />
<line x1="120.27" y1="249.12" x2="120.67" y2="249.12" stroke="#1a1a1a" stroke-width="0.55" />
<line x1="113.29" y1="236.72" x2="113.29" y2="244.05" stroke="#1a1a1a" stroke-width="0.55" />
<line x1="113.29" y1="236.72" x2="123.33" y2="236.72" stroke="#1a1a1a" stroke-width="0.55" />
<line x1="113.29" y1="244.05" x2="121.60" y2="244.05" stroke="#1a1a1a" stroke-width="0.55" />
<line x1="116.55" y1="277.73" x2="116.55" y2="279.00" stroke="#1a1a1a" stroke-width="0.55" />
<line x1="116.55" y1="277.73" x2="119.79" y2="277.73" stroke="#1a1a1a" stroke-width="0.55" />
<line x1="116.55" y1="279.00" x2="118.98" y2="279.00" stroke="#1a1a1a" stroke-width="0.55" />
<line x1="117.66" y1="219.61" x2="117.66" y2="226.52" stroke="#1a1a1a" stroke-width="0.55" />
<line x1="117.66" y1="219.61" x2="121.72" y2="219.61" stroke="#1a1a1a" stroke-width="0.55" />
<line x1="117.66" y1="226.52" x2="122.72" y2="226.52" stroke="#1a1a1a" stroke-width="0.55" />
<line x1="115.96" y1="273.76" x2="115.96" y2="276.68" stroke="#1a1a1a" stroke-width="0.55" />
<line x1="115.96" y1="273.76" x2="120.30" y2="273.76" stroke="#1a1a1a" stroke-width="0.55" />
<line x1="115.96" y1="276.68" x2="120.47" y2="276.68" stroke="#1a1a1a" stroke-width="0.55" />
<line x1="114.34" y1="265.34" x2="114.34" y2="271.47" stroke="#1a1a1a" stroke-width="0.55" />
<line x1="114.34" y1="265.34" x2="121.08" y2="265.34" stroke="#1a1a1a" stroke-width="0.55" />
<line x1="114.34" y1="271.47" x2="121.12" y2="271.47" stroke="#1a1a1a" stroke-width="0.55" />
<line x1="114.48" y1="255.71" x2="114.48" y2="260.43" stroke="#1a1a1a" stroke-width="0.55" />
<line x1="114.48" y1="255.71" x2="121.11" y2="255.71" stroke="#1a1a1a" stroke-width="0.55" />
<line x1="114.48" y1="260.43" x2="122.74" y2="260.43" stroke="#1a1a1a" stroke-width="0.55" />
<line x1="117.24" y1="261.61" x2="117.24" y2="268.39" stroke="#1a1a1a" stroke-width="0.55" />
<line x1="117.24" y1="261.61" x2="121.39" y2="261.61" stroke="#1a1a1a" stroke-width="0.55" />
<line x1="117.24" y1="268.39" x2="120.84" y2="268.39" stroke="#1a1a1a" stroke-width="0.55" />
<line x1="118.43" y1="263.10" x2="118.43" y2="267.25" stroke="#1a1a1a" stroke-width="0.55" />
<line x1="118.43" y1="263.10" x2="120.88" y2="263.10" stroke="#1a1a1a" stroke-width="0.55" />
<line x1="118.43" y1="267.25" x2="123.90" y2="267.25" stroke="#1a1a1a" stroke-width="0.55" />
<line x1="119.30" y1="239.45" x2="119.30" y2="246.42" stroke="#1a1a1a" stroke-width="0.55" />
<line x1="119.30" y1="239.45" x2="122.31" y2="239.45" stroke="#1a1a1a" stroke-width="0.55" />
<line x1="119.30" y1="246.42" x2="120.40" y2="246.42" stroke="#1a1a1a" stroke-width="0.55" />
<line x1="118.65" y1="273.66" x2="118.65" y2="278.26" stroke="#1a1a1a" stroke-width="0.55" />
<line x1="118.65" y1="273.66" x2="120.85" y2="273.66" stroke="#1a1a1a" stroke-width="0.55" />
<line x1="118.65" y1="278.26" x2="120.52" y2="278.26" stroke="#1a1a1a" stroke-width="0.55" />
<line x1="114.26" y1="268.98" x2="114.26" y2="272.87" stroke="#1a1a1a" stroke-width="0.55" />
<line x1="114.26" y1="268.98" x2="122.43" y2="268.98" stroke="#1a1a1a" stroke-width="0.55" />
<line x1="114.26" y1="272.87" x2="123.33" y2="272.87" stroke="#1a1a1a" stroke-width="0.55" />
<line x1="117.08" y1="219.78" x2="117.08" y2="224.65" stroke="#1a1a1a" stroke-width="0.55" />
<line x1="117.08" y1="219.78" x2="123.04" y2="219.78" stroke="#1a1a1a" stroke-width="0.55" />
<line x1="117.08" y1="224.65" x2="121.46" y2="224.65" stroke="#1a1a1a" stroke-width="0.55" />
<rect x="66.4" y="101.1" width="150.2" height="8.2" fill="#ecc6cc" stroke="#d0454f" stroke-width="1"/>
<line x1="80.30" y1="99.40" x2="198.00" y2="99.40" stroke="#7a7a7a" stroke-width="1.3" />
<line x1="80.30" y1="99.00" x2="80.30" y2="101.00" stroke="#3a3a3a" stroke-width="0.7" />
<line x1="76.00" y1="105.00" x2="200.00" y2="105.00" stroke="#3a3a3a" stroke-width="1.0" />
<line x1="74.50" y1="106.50" x2="190.00" y2="106.50" stroke="#8a8272" stroke-width="0.9" />
<line x1="73.50" y1="108.00" x2="185.00" y2="108.00" stroke="#444" stroke-width="0.9" />
<line x1="80.30" y1="101.00" x2="73.50" y2="108.00" stroke="#3a3a3a" stroke-width="0.6" />
<line x1="168.58" y1="103.20" x2="175.22" y2="103.20" stroke="#8c85bc" stroke-width="0.6" />
<line x1="173.56" y1="103.53" x2="180.25" y2="103.53" stroke="#8c85bc" stroke-width="0.6" />
<line x1="168.47" y1="103.86" x2="178.13" y2="103.86" stroke="#8c85bc" stroke-width="0.6" />
<line x1="169.79" y1="104.19" x2="178.01" y2="104.19" stroke="#8c85bc" stroke-width="0.6" />
<line x1="173.80" y1="104.52" x2="197.11" y2="104.52" stroke="#8c85bc" stroke-width="0.6" />
<line x1="161.33" y1="104.85" x2="180.90" y2="104.85" stroke="#8c85bc" stroke-width="0.6" />
<line x1="162.51" y1="105.18" x2="185.43" y2="105.18" stroke="#8c85bc" stroke-width="0.6" />
<line x1="145.68" y1="105.51" x2="181.32" y2="105.51" stroke="#8c85bc" stroke-width="0.6" />
<line x1="152.38" y1="105.84" x2="171.70" y2="105.84" stroke="#8c85bc" stroke-width="0.6" />
<line x1="148.39" y1="106.17" x2="167.19" y2="106.17" stroke="#8c85bc" stroke-width="0.6" />
<line x1="171.97" y1="106.50" x2="184.27" y2="106.50" stroke="#8c85bc" stroke-width="0.6" />
<line x1="148.18" y1="106.83" x2="170.21" y2="106.83" stroke="#8c85bc" stroke-width="0.6" />
<line x1="151.44" y1="107.16" x2="160.32" y2="107.16" stroke="#8c85bc" stroke-width="0.6" />
<line x1="164.78" y1="107.49" x2="178.66" y2="107.49" stroke="#8c85bc" stroke-width="0.6" />
<line x1="162.26" y1="107.82" x2="174.26" y2="107.82" stroke="#8c85bc" stroke-width="0.6" />
<line x1="148.39" y1="108.15" x2="158.15" y2="108.15" stroke="#8c85bc" stroke-width="0.6" />
<line x1="24.30" y1="285.80" x2="204.50" y2="285.80" stroke="#333" stroke-width="0.9" />
<line x1="44.50" y1="285.80" x2="44.50" y2="287.60" stroke="#333" stroke-width="0.6" />
<line x1="64.50" y1="285.80" x2="64.50" y2="287.60" stroke="#333" stroke-width="0.6" />
<line x1="84.50" y1="285.80" x2="84.50" y2="287.60" stroke="#333" stroke-width="0.6" />
<line x1="104.50" y1="285.80" x2="104.50" y2="287.60" stroke="#333" stroke-width="0.6" />
<line x1="124.50" y1="285.80" x2="124.50" y2="287.60" stroke="#333" stroke-width="0.6" />
<line x1="144.50" y1="285.80" x2="144.50" y2="287.60" stroke="#333" stroke-width="0.6" />
<line x1="164.50" y1="285.80" x2="164.50" y2="287.60" stroke="#333" stroke-width="0.6" />
<line x1="184.50" y1="285.80" x2="184.50" y2="287.60" stroke="#333" stroke-width="0.6" />
<line x1="204.50" y1="285.80" x2="204.50" y2="287.60" stroke="#333" stroke-width="0.6" />
<text x="44.20" y="294.60" font-size="6.4" fill="#222" text-anchor="middle" >2020</text>
<text x="84.20" y="294.60" font-size="6.4" fill="#222" text-anchor="middle" >2021</text>
<text x="124.20" y="294.60" font-size="6.4" fill="#222" text-anchor="middle" >2022</text>
<text x="164.20" y="294.60" font-size="6.4" fill="#222" text-anchor="middle" >2023</text>
<text x="204.20" y="294.60" font-size="6.4" fill="#222" text-anchor="middle" >2024</text>
<rect x="302.00" y="72.00" width="279.30" height="141.40" fill="#546a7b" />
<rect x="302.00" y="72.00" width="7.80" height="6.05" fill="#8ea9dc" />
<rect x="309.80" y="72.00" width="7.80" height="6.05" fill="#a9d18e" />
<rect x="336.00" y="72.00" width="9.10" height="5.05" fill="#7fc3c0" />
<rect x="419.50" y="72.00" width="9.25" height="6.05" fill="#7fc3c0" />
<rect x="427.75" y="72.00" width="8.25" height="5.05" fill="#7fc3c0" />
<rect x="444.25" y="72.00" width="9.25" height="5.05" fill="#7fc3c0" />
<rect x="452.50" y="72.00" width="9.25" height="6.05" fill="#7fc3c0" />
<rect x="460.75" y="72.00" width="8.25" height="5.05" fill="#7fc3c0" />
<rect x="469.00" y="72.00" width="8.25" height="5.05" fill="#dfbb78" />
<rect x="477.25" y="72.00" width="8.25" height="5.05" fill="#7fc3c0" />
<rect x="493.75" y="72.00" width="8.25" height="6.05" fill="#dfbb78" />
<rect x="502.00" y="72.00" width="9.25" height="6.05" fill="#7fc3c0" />
<rect x="510.25" y="72.00" width="9.25" height="6.05" fill="#7fc3c0" />
<rect x="518.50" y="72.00" width="9.25" height="5.05" fill="#7fc3c0" />
<rect x="526.75" y="72.00" width="8.25" height="5.05" fill="#7fc3c0" />
<rect x="543.25" y="72.00" width="8.25" height="6.05" fill="#dfbb78" />
<rect x="302.00" y="77.05" width="7.80" height="6.05" fill="#8ea9dc" />
<rect x="309.80" y="77.05" width="7.80" height="6.05" fill="#a9d18e" />
<rect x="419.50" y="77.05" width="8.25" height="6.05" fill="#7fc3c0" />
<rect x="444.25" y="77.05" width="8.25" height="6.05" fill="#dfbb78" />
<rect x="452.50" y="77.05" width="8.25" height="6.05" fill="#7fc3c0" />
<rect x="493.75" y="77.05" width="8.25" height="6.05" fill="#dfbb78" />
<rect x="502.00" y="77.05" width="9.25" height="6.05" fill="#7fc3c0" />
<rect x="510.25" y="77.05" width="8.25" height="6.05" fill="#7fc3c0" />
<rect x="543.25" y="77.05" width="8.25" height="6.05" fill="#dfbb78" />
<rect x="302.00" y="82.10" width="7.80" height="6.05" fill="#8ea9dc" />
<rect x="309.80" y="82.10" width="7.80" height="6.05" fill="#a9d18e" />
<rect x="336.00" y="82.10" width="9.10" height="5.05" fill="#7fc3c0" />
<rect x="419.50" y="82.10" width="8.25" height="6.05" fill="#7fc3c0" />
<rect x="444.25" y="82.10" width="8.25" height="6.05" fill="#dfbb78" />
<rect x="452.50" y="82.10" width="8.25" height="6.05" fill="#7fc3c0" />
<rect x="493.75" y="82.10" width="8.25" height="6.05" fill="#dfbb78" />
<rect x="502.00" y="82.10" width="9.25" height="6.05" fill="#7fc3c0" />
<rect x="510.25" y="82.10" width="8.25" height="6.05" fill="#7fc3c0" />
<rect x="543.25" y="82.10" width="8.25" height="6.05" fill="#dfbb78" />
<rect x="302.00" y="87.15" width="7.80" height="6.05" fill="#8ea9dc" />
<rect x="309.80" y="87.15" width="7.80" height="6.05" fill="#a9d18e" />
<rect x="326.80" y="87.15" width="9.20" height="5.05" fill="#7fc3c0" />
<rect x="363.30" y="87.15" width="7.70" height="5.05" fill="#7fc3c0" />
<rect x="370.00" y="87.15" width="9.25" height="5.05" fill="#7fc3c0" />
<rect x="378.25" y="87.15" width="9.25" height="5.05" fill="#7fc3c0" />
<rect x="386.50" y="87.15" width="9.25" height="5.05" fill="#7fc3c0" />
<rect x="394.75" y="87.15" width="9.25" height="5.05" fill="#7fc3c0" />
<rect x="403.00" y="87.15" width="8.25" height="5.05" fill="#7fc3c0" />
<rect x="419.50" y="87.15" width="8.25" height="6.05" fill="#7fc3c0" />
<rect x="444.25" y="87.15" width="8.25" height="6.05" fill="#dfbb78" />
<rect x="452.50" y="87.15" width="8.25" height="6.05" fill="#7fc3c0" />
<rect x="493.75" y="87.15" width="8.25" height="6.05" fill="#dfbb78" />
<rect x="502.00" y="87.15" width="9.25" height="6.05" fill="#7fc3c0" />
<rect x="510.25" y="87.15" width="8.25" height="6.05" fill="#7fc3c0" />
<rect x="543.25" y="87.15" width="8.25" height="6.05" fill="#dfbb78" />
<rect x="551.50" y="87.15" width="6.80" height="5.05" fill="#7fc3c0" />
<rect x="565.10" y="87.15" width="7.90" height="5.05" fill="#7fc3c0" />
<rect x="572.00" y="87.15" width="9.30" height="5.05" fill="#7fc3c0" />
<rect x="302.00" y="92.20" width="7.80" height="5.05" fill="#8ea9dc" />
<rect x="309.80" y="92.20" width="7.80" height="6.05" fill="#a9d18e" />
<rect x="419.50" y="92.20" width="8.25" height="5.05" fill="#7fc3c0" />
<rect x="444.25" y="92.20" width="8.25" height="5.05" fill="#dfbb78" />
<rect x="452.50" y="92.20" width="8.25" height="6.05" fill="#7fc3c0" />
<rect x="493.75" y="92.20" width="8.25" height="5.05" fill="#dfbb78" />
<rect x="502.00" y="92.20" width="9.25" height="6.05" fill="#7fc3c0" />
<rect x="510.25" y="92.20" width="8.25" height="6.05" fill="#7fc3c0" />
<rect x="543.25" y="92.20" width="8.25" height="5.05" fill="#dfbb78" />
<rect x="302.00" y="97.25" width="8.80" height="5.05" fill="#a9d18e" />
<rect x="309.80" y="97.25" width="7.80" height="6.05" fill="#a9d18e" />
<rect x="326.80" y="97.25" width="10.20" height="5.05" fill="#7fc3c0" />
<rect x="336.00" y="97.25" width="10.10" height="5.05" fill="#7fc3c0" />
<rect x="345.10" y="97.25" width="9.10" height="5.05" fill="#7fc3c0" />
<rect x="363.30" y="97.25" width="6.70" height="6.05" fill="#7fc3c0" />
<rect x="386.50" y="97.25" width="9.25" height="5.05" fill="#7fc3c0" />
<rect x="394.75" y="97.25" width="9.25" height="6.05" fill="#7fc3c0" />
<rect x="403.00" y="97.25" width="8.25" height="6.05" fill="#7fc3c0" />
<rect x="444.25" y="97.25" width="9.25" height="5.05" fill="#7fc3c0" />
<rect x="452.50" y="97.25" width="9.25" height="6.05" fill="#7fc3c0" />
<rect x="460.75" y="97.25" width="9.25" height="5.05" fill="#7fc3c0" />
<rect x="469.00" y="97.25" width="9.25" height="5.05" fill="#7fc3c0" />
<rect x="477.25" y="97.25" width="8.25" height="6.05" fill="#7fc3c0" />
<rect x="502.00" y="97.25" width="9.25" height="6.05" fill="#7fc3c0" />
<rect x="510.25" y="97.25" width="8.25" height="6.05" fill="#7fc3c0" />
<rect x="526.75" y="97.25" width="9.25" height="5.05" fill="#7fc3c0" />
<rect x="535.00" y="97.25" width="8.25" height="5.05" fill="#7fc3c0" />
<rect x="551.50" y="97.25" width="7.80" height="6.05" fill="#7fc3c0" />
<rect x="558.30" y="97.25" width="6.80" height="6.05" fill="#7fc3c0" />
<rect x="302.00" y="102.30" width="7.80" height="6.05" fill="#8ea9dc" />
<rect x="309.80" y="102.30" width="7.80" height="6.05" fill="#a9d18e" />
<rect x="363.30" y="102.30" width="7.70" height="6.05" fill="#7fc3c0" />
<rect x="370.00" y="102.30" width="9.25" height="5.05" fill="#7fc3c0" />
<rect x="378.25" y="102.30" width="8.25" height="5.05" fill="#7fc3c0" />
<rect x="394.75" y="102.30" width="9.25" height="5.05" fill="#7fc3c0" />
<rect x="403.00" y="102.30" width="8.25" height="5.05" fill="#7fc3c0" />
<rect x="419.50" y="102.30" width="8.25" height="6.05" fill="#7fc3c0" />
<rect x="444.25" y="102.30" width="8.25" height="5.05" fill="#dfbb78" />
<rect x="452.50" y="102.30" width="8.25" height="5.05" fill="#7fc3c0" />
<rect x="477.25" y="102.30" width="8.25" height="6.05" fill="#7fc3c0" />
<rect x="493.75" y="102.30" width="8.25" height="5.05" fill="#dfbb78" />
<rect x="502.00" y="102.30" width="9.25" height="6.05" fill="#7fc3c0" />
<rect x="510.25" y="102.30" width="8.25" height="6.05" fill="#7fc3c0" />
<rect x="543.25" y="102.30" width="8.25" height="6.05" fill="#dfbb78" />
<rect x="551.50" y="102.30" width="7.80" height="6.05" fill="#7fc3c0" />
<rect x="558.30" y="102.30" width="7.80" height="6.05" fill="#7fc3c0" />
<rect x="565.10" y="102.30" width="6.90" height="6.05" fill="#7fc3c0" />
<rect x="302.00" y="107.35" width="7.80" height="6.05" fill="#8ea9dc" />
<rect x="309.80" y="107.35" width="7.80" height="6.05" fill="#a9d18e" />
<rect x="363.30" y="107.35" width="6.70" height="5.05" fill="#7fc3c0" />
<rect x="419.50" y="107.35" width="9.25" height="5.05" fill="#7fc3c0" />
<rect x="427.75" y="107.35" width="9.25" height="5.05" fill="#7fc3c0" />
<rect x="436.00" y="107.35" width="8.25" height="6.05" fill="#7fc3c0" />
<rect x="477.25" y="107.35" width="8.25" height="5.05" fill="#7fc3c0" />
<rect x="502.00" y="107.35" width="9.25" height="5.05" fill="#7fc3c0" />
<rect x="510.25" y="107.35" width="8.25" height="6.05" fill="#7fc3c0" />
<rect x="543.25" y="107.35" width="8.25" height="6.05" fill="#dfbb78" />
<rect x="551.50" y="107.35" width="7.80" height="5.05" fill="#7fc3c0" />
<rect x="558.30" y="107.35" width="7.80" height="5.05" fill="#7fc3c0" />
<rect x="565.10" y="107.35" width="6.90" height="5.05" fill="#7fc3c0" />
<rect x="302.00" y="112.40" width="7.80" height="5.05" fill="#8ea9dc" />
<rect x="309.80" y="112.40" width="7.80" height="6.05" fill="#a9d18e" />
<rect x="378.25" y="112.40" width="8.25" height="5.05" fill="#dfbb78" />
<rect x="436.00" y="112.40" width="8.25" height="6.05" fill="#7fc3c0" />
<rect x="452.50" y="112.40" width="8.25" height="5.05" fill="#dfbb78" />
<rect x="469.00" y="112.40" width="8.25" height="5.05" fill="#dfbb78" />
<rect x="493.75" y="112.40" width="8.25" height="6.05" fill="#7fc3c0" />
<rect x="502.00" y="112.40" width="8.25" height="5.05" fill="#dfbb78" />
<rect x="510.25" y="112.40" width="8.25" height="6.05" fill="#7fc3c0" />
<rect x="535.00" y="112.40" width="8.25" height="6.05" fill="#7fc3c0" />
<rect x="543.25" y="112.40" width="9.25" height="6.05" fill="#dfbb78" />
<rect x="551.50" y="112.40" width="6.80" height="5.05" fill="#dfbb78" />
<rect x="302.00" y="117.45" width="8.80" height="5.05" fill="#a9d18e" />
<rect x="309.80" y="117.45" width="7.80" height="6.05" fill="#a9d18e" />
<rect x="317.60" y="117.45" width="9.20" height="5.05" fill="#7fc3c0" />
<rect x="345.10" y="117.45" width="10.10" height="5.05" fill="#7fc3c0" />
<rect x="354.20" y="117.45" width="9.10" height="5.05" fill="#7fc3c0" />
<rect x="419.50" y="117.45" width="9.25" height="6.05" fill="#7fc3c0" />
<rect x="427.75" y="117.45" width="9.25" height="6.05" fill="#7fc3c0" />
<rect x="436.00" y="117.45" width="9.25" height="6.05" fill="#7fc3c0" />
<rect x="444.25" y="117.45" width="9.25" height="5.05" fill="#7fc3c0" />
<rect x="452.50" y="117.45" width="9.25" height="6.05" fill="#7fc3c0" />
<rect x="460.75" y="117.45" width="9.25" height="6.05" fill="#7fc3c0" />
<rect x="469.00" y="117.45" width="9.25" height="5.05" fill="#7fc3c0" />
<rect x="477.25" y="117.45" width="9.25" height="6.05" fill="#7fc3c0" />
<rect x="485.50" y="117.45" width="9.25" height="5.05" fill="#7fc3c0" />
<rect x="493.75" y="117.45" width="9.25" height="5.05" fill="#7fc3c0" />
<rect x="502.00" y="117.45" width="9.25" height="6.05" fill="#7fc3c0" />
<rect x="510.25" y="117.45" width="9.25" height="6.05" fill="#7fc3c0" />
<rect x="518.50" y="117.45" width="9.25" height="6.05" fill="#7fc3c0" />
<rect x="526.75" y="117.45" width="9.25" height="5.05" fill="#7fc3c0" />
<rect x="535.00" y="117.45" width="8.25" height="5.05" fill="#7fc3c0" />
<rect x="543.25" y="117.45" width="8.25" height="5.05" fill="#dfbb78" />
<rect x="565.10" y="117.45" width="6.90" height="6.05" fill="#7fc3c0" />
<rect x="302.00" y="122.50" width="7.80" height="6.05" fill="#8ea9dc" />
<rect x="309.80" y="122.50" width="7.80" height="6.05" fill="#a9d18e" />
<rect x="363.30" y="122.50" width="7.70" height="5.05" fill="#7fc3c0" />
<rect x="370.00" y="122.50" width="9.25" height="5.05" fill="#7fc3c0" />
<rect x="378.25" y="122.50" width="9.25" height="5.05" fill="#7fc3c0" />
<rect x="386.50" y="122.50" width="8.25" height="5.05" fill="#7fc3c0" />
<rect x="419.50" y="122.50" width="9.25" height="6.05" fill="#7fc3c0" />
<rect x="427.75" y="122.50" width="9.25" height="5.05" fill="#7fc3c0" />
<rect x="436.00" y="122.50" width="8.25" height="5.05" fill="#7fc3c0" />
<rect x="444.25" y="122.50" width="8.25" height="5.05" fill="#dfbb78" />
<rect x="452.50" y="122.50" width="9.25" height="5.05" fill="#7fc3c0" />
<rect x="460.75" y="122.50" width="8.25" height="5.05" fill="#7fc3c0" />
<rect x="469.00" y="122.50" width="8.25" height="5.05" fill="#dfbb78" />
<rect x="477.25" y="122.50" width="8.25" height="5.05" fill="#7fc3c0" />
<rect x="502.00" y="122.50" width="9.25" height="6.05" fill="#7fc3c0" />
<rect x="510.25" y="122.50" width="9.25" height="6.05" fill="#7fc3c0" />
<rect x="518.50" y="122.50" width="8.25" height="5.05" fill="#7fc3c0" />
<rect x="551.50" y="122.50" width="7.80" height="5.05" fill="#7fc3c0" />
<rect x="558.30" y="122.50" width="7.80" height="5.05" fill="#7fc3c0" />
<rect x="565.10" y="122.50" width="6.90" height="6.05" fill="#7fc3c0" />
<rect x="302.00" y="127.55" width="7.80" height="6.05" fill="#8ea9dc" />
<rect x="309.80" y="127.55" width="7.80" height="6.05" fill="#a9d18e" />
<rect x="317.60" y="127.55" width="9.20" height="5.05" fill="#7fc3c0" />
<rect x="336.00" y="127.55" width="9.10" height="6.05" fill="#7fc3c0" />
<rect x="354.20" y="127.55" width="9.10" height="5.05" fill="#7fc3c0" />
<rect x="419.50" y="127.55" width="8.25" height="6.05" fill="#7fc3c0" />
<rect x="502.00" y="127.55" width="9.25" height="6.05" fill="#7fc3c0" />
<rect x="510.25" y="127.55" width="8.25" height="6.05" fill="#7fc3c0" />
<rect x="565.10" y="127.55" width="7.90" height="6.05" fill="#7fc3c0" />
<rect x="572.00" y="127.55" width="9.30" height="5.05" fill="#7fc3c0" />
<rect x="302.00" y="132.60" width="7.80" height="6.05" fill="#8ea9dc" />
<rect x="309.80" y="132.60" width="7.80" height="6.05" fill="#a9d18e" />
<rect x="326.80" y="132.60" width="10.20" height="5.05" fill="#7fc3c0" />
<rect x="336.00" y="132.60" width="9.10" height="6.05" fill="#7fc3c0" />
<rect x="370.00" y="132.60" width="9.25" height="5.05" fill="#7fc3c0" />
<rect x="378.25" y="132.60" width="9.25" height="5.05" fill="#7fc3c0" />
<rect x="386.50" y="132.60" width="9.25" height="6.05" fill="#7fc3c0" />
<rect x="394.75" y="132.60" width="9.25" height="6.05" fill="#7fc3c0" />
<rect x="403.00" y="132.60" width="9.25" height="6.05" fill="#7fc3c0" />
<rect x="411.25" y="132.60" width="9.25" height="6.05" fill="#7fc3c0" />
<rect x="419.50" y="132.60" width="9.25" height="6.05" fill="#7fc3c0" />
<rect x="427.75" y="132.60" width="9.25" height="5.05" fill="#7fc3c0" />
<rect x="436.00" y="132.60" width="8.25" height="5.05" fill="#7fc3c0" />
<rect x="444.25" y="132.60" width="8.25" height="5.05" fill="#dfbb78" />
<rect x="452.50" y="132.60" width="8.25" height="6.05" fill="#7fc3c0" />
<rect x="477.25" y="132.60" width="8.25" height="6.05" fill="#7fc3c0" />
<rect x="502.00" y="132.60" width="9.25" height="6.05" fill="#7fc3c0" />
<rect x="510.25" y="132.60" width="9.25" height="6.05" fill="#7fc3c0" />
<rect x="518.50" y="132.60" width="8.25" height="6.05" fill="#7fc3c0" />
<rect x="551.50" y="132.60" width="7.80" height="6.05" fill="#7fc3c0" />
<rect x="558.30" y="132.60" width="7.80" height="5.05" fill="#7fc3c0" />
<rect x="565.10" y="132.60" width="6.90" height="5.05" fill="#7fc3c0" />
<rect x="302.00" y="137.65" width="7.80" height="5.05" fill="#8ea9dc" />
<rect x="309.80" y="137.65" width="7.80" height="5.05" fill="#a9d18e" />
<rect x="336.00" y="137.65" width="10.10" height="5.05" fill="#7fc3c0" />
<rect x="345.10" y="137.65" width="10.10" height="6.05" fill="#7fc3c0" />
<rect x="354.20" y="137.65" width="10.10" height="5.05" fill="#7fc3c0" />
<rect x="363.30" y="137.65" width="6.70" height="5.05" fill="#7fc3c0" />
<rect x="386.50" y="137.65" width="9.25" height="5.05" fill="#7fc3c0" />
<rect x="394.75" y="137.65" width="9.25" height="5.05" fill="#7fc3c0" />
<rect x="403.00" y="137.65" width="9.25" height="5.05" fill="#7fc3c0" />
<rect x="411.25" y="137.65" width="9.25" height="6.05" fill="#7fc3c0" />
<rect x="419.50" y="137.65" width="8.25" height="6.05" fill="#7fc3c0" />
<rect x="444.25" y="137.65" width="9.25" height="5.05" fill="#7fc3c0" />
<rect x="452.50" y="137.65" width="8.25" height="6.05" fill="#7fc3c0" />
<rect x="477.25" y="137.65" width="8.25" height="6.05" fill="#7fc3c0" />
<rect x="502.00" y="137.65" width="9.25" height="6.05" fill="#7fc3c0" />
<rect x="510.25" y="137.65" width="9.25" height="6.05" fill="#7fc3c0" />
<rect x="518.50" y="137.65" width="8.25" height="6.05" fill="#7fc3c0" />
<rect x="551.50" y="137.65" width="6.80" height="6.05" fill="#7fc3c0" />
<rect x="302.00" y="142.70" width="7.80" height="5.05" fill="#a9d18e" />
<rect x="309.80" y="142.70" width="7.80" height="5.05" fill="#8ea9dc" />
<rect x="317.60" y="142.70" width="9.20" height="5.05" fill="#7fc3c0" />
<rect x="345.10" y="142.70" width="9.10" height="6.05" fill="#7fc3c0" />
<rect x="378.25" y="142.70" width="8.25" height="6.05" fill="#7fc3c0" />
<rect x="411.25" y="142.70" width="9.25" height="5.05" fill="#7fc3c0" />
<rect x="419.50" y="142.70" width="9.25" height="6.05" fill="#7fc3c0" />
<rect x="427.75" y="142.70" width="8.25" height="6.05" fill="#7fc3c0" />
<rect x="444.25" y="142.70" width="8.25" height="6.05" fill="#dfbb78" />
<rect x="452.50" y="142.70" width="8.25" height="6.05" fill="#7fc3c0" />
<rect x="477.25" y="142.70" width="8.25" height="6.05" fill="#7fc3c0" />
<rect x="502.00" y="142.70" width="9.25" height="6.05" fill="#7fc3c0" />
<rect x="510.25" y="142.70" width="9.25" height="6.05" fill="#7fc3c0" />
<rect x="518.50" y="142.70" width="9.25" height="5.05" fill="#7fc3c0" />
<rect x="526.75" y="142.70" width="9.25" height="5.05" fill="#7fc3c0" />
<rect x="535.00" y="142.70" width="8.25" height="5.05" fill="#7fc3c0" />
<rect x="551.50" y="142.70" width="6.80" height="6.05" fill="#7fc3c0" />
<rect x="572.00" y="142.70" width="9.30" height="5.05" fill="#7fc3c0" />
<rect x="302.00" y="147.75" width="7.80" height="6.05" fill="#8ea9dc" />
<rect x="309.80" y="147.75" width="7.80" height="6.05" fill="#a9d18e" />
<rect x="345.10" y="147.75" width="10.10" height="5.05" fill="#7fc3c0" />
<rect x="354.20" y="147.75" width="10.10" height="5.05" fill="#7fc3c0" />
<rect x="363.30" y="147.75" width="7.70" height="5.05" fill="#7fc3c0" />
<rect x="370.00" y="147.75" width="9.25" height="5.05" fill="#7fc3c0" />
<rect x="378.25" y="147.75" width="9.25" height="5.05" fill="#7fc3c0" />
<rect x="386.50" y="147.75" width="8.25" height="5.05" fill="#7fc3c0" />
<rect x="419.50" y="147.75" width="9.25" height="6.05" fill="#7fc3c0" />
<rect x="427.75" y="147.75" width="9.25" height="5.05" fill="#7fc3c0" />
<rect x="436.00" y="147.75" width="8.25" height="5.05" fill="#7fc3c0" />
<rect x="444.25" y="147.75" width="8.25" height="6.05" fill="#dfbb78" />
<rect x="452.50" y="147.75" width="9.25" height="6.05" fill="#7fc3c0" />
<rect x="460.75" y="147.75" width="8.25" height="5.05" fill="#7fc3c0" />
<rect x="469.00" y="147.75" width="8.25" height="5.05" fill="#dfbb78" />
<rect x="477.25" y="147.75" width="8.25" height="5.05" fill="#7fc3c0" />
<rect x="502.00" y="147.75" width="9.25" height="6.05" fill="#7fc3c0" />
<rect x="510.25" y="147.75" width="8.25" height="6.05" fill="#7fc3c0" />
<rect x="551.50" y="147.75" width="7.80" height="5.05" fill="#7fc3c0" />
<rect x="558.30" y="147.75" width="7.80" height="5.05" fill="#7fc3c0" />
<rect x="565.10" y="147.75" width="6.90" height="5.05" fill="#7fc3c0" />
<rect x="302.00" y="152.80" width="7.80" height="5.05" fill="#8ea9dc" />
<rect x="309.80" y="152.80" width="7.80" height="5.05" fill="#a9d18e" />
<rect x="419.50" y="152.80" width="8.25" height="6.05" fill="#7fc3c0" />
<rect x="444.25" y="152.80" width="8.25" height="6.05" fill="#dfbb78" />
<rect x="452.50" y="152.80" width="8.25" height="6.05" fill="#7fc3c0" />
<rect x="502.00" y="152.80" width="9.25" height="6.05" fill="#7fc3c0" />
<rect x="510.25" y="152.80" width="8.25" height="6.05" fill="#7fc3c0" />
<rect x="543.25" y="152.80" width="8.25" height="5.05" fill="#dfbb78" />
<rect x="302.00" y="157.85" width="7.80" height="5.05" fill="#a9d18e" />
<rect x="309.80" y="157.85" width="7.80" height="5.05" fill="#8ea9dc" />
<rect x="317.60" y="157.85" width="9.20" height="5.05" fill="#7fc3c0" />
<rect x="411.25" y="157.85" width="9.25" height="5.05" fill="#7fc3c0" />
<rect x="419.50" y="157.85" width="9.25" height="6.05" fill="#7fc3c0" />
<rect x="427.75" y="157.85" width="9.25" height="5.05" fill="#7fc3c0" />
<rect x="436.00" y="157.85" width="8.25" height="5.05" fill="#7fc3c0" />
<rect x="444.25" y="157.85" width="8.25" height="6.05" fill="#dfbb78" />
<rect x="452.50" y="157.85" width="8.25" height="6.05" fill="#7fc3c0" />
<rect x="477.25" y="157.85" width="8.25" height="6.05" fill="#7fc3c0" />
<rect x="502.00" y="157.85" width="9.25" height="6.05" fill="#7fc3c0" />
<rect x="510.25" y="157.85" width="9.25" height="6.05" fill="#7fc3c0" />
<rect x="518.50" y="157.85" width="9.25" height="5.05" fill="#7fc3c0" />
<rect x="526.75" y="157.85" width="9.25" height="5.05" fill="#7fc3c0" />
<rect x="535.00" y="157.85" width="8.25" height="6.05" fill="#7fc3c0" />
<rect x="551.50" y="157.85" width="6.80" height="6.05" fill="#7fc3c0" />
<rect x="572.00" y="157.85" width="9.30" height="6.05" fill="#7fc3c0" />
<rect x="302.00" y="162.90" width="7.80" height="6.05" fill="#8ea9dc" />
<rect x="309.80" y="162.90" width="7.80" height="6.05" fill="#a9d18e" />
<rect x="336.00" y="162.90" width="9.10" height="5.05" fill="#7fc3c0" />
<rect x="354.20" y="162.90" width="9.10" height="5.05" fill="#7fc3c0" />
<rect x="386.50" y="162.90" width="9.25" height="5.05" fill="#7fc3c0" />
<rect x="394.75" y="162.90" width="9.25" height="5.05" fill="#7fc3c0" />
<rect x="403.00" y="162.90" width="8.25" height="5.05" fill="#7fc3c0" />
<rect x="419.50" y="162.90" width="8.25" height="6.05" fill="#7fc3c0" />
<rect x="444.25" y="162.90" width="8.25" height="5.05" fill="#dfbb78" />
<rect x="452.50" y="162.90" width="8.25" height="6.05" fill="#7fc3c0" />
<rect x="477.25" y="162.90" width="8.25" height="5.05" fill="#7fc3c0" />
<rect x="502.00" y="162.90" width="9.25" height="6.05" fill="#7fc3c0" />
<rect x="510.25" y="162.90" width="8.25" height="6.05" fill="#7fc3c0" />
<rect x="535.00" y="162.90" width="8.25" height="5.05" fill="#7fc3c0" />
<rect x="551.50" y="162.90" width="7.80" height="5.05" fill="#7fc3c0" />
<rect x="558.30" y="162.90" width="6.80" height="5.05" fill="#7fc3c0" />
<rect x="572.00" y="162.90" width="9.30" height="5.05" fill="#7fc3c0" />
<rect x="302.00" y="167.95" width="7.80" height="6.05" fill="#8ea9dc" />
<rect x="309.80" y="167.95" width="7.80" height="6.05" fill="#a9d18e" />
<rect x="419.50" y="167.95" width="8.25" height="6.05" fill="#7fc3c0" />
<rect x="444.25" y="167.95" width="9.25" height="5.05" fill="#7fc3c0" />
<rect x="452.50" y="167.95" width="8.25" height="6.05" fill="#7fc3c0" />
<rect x="493.75" y="167.95" width="8.25" height="5.05" fill="#dfbb78" />
<rect x="502.00" y="167.95" width="9.25" height="6.05" fill="#7fc3c0" />
<rect x="510.25" y="167.95" width="8.25" height="6.05" fill="#7fc3c0" />
<rect x="543.25" y="167.95" width="8.25" height="5.05" fill="#dfbb78" />
<rect x="302.00" y="173.00" width="7.80" height="5.05" fill="#8ea9dc" />
<rect x="309.80" y="173.00" width="7.80" height="6.05" fill="#a9d18e" />
<rect x="317.60" y="173.00" width="10.20" height="6.05" fill="#7fc3c0" />
<rect x="326.80" y="173.00" width="9.20" height="5.05" fill="#7fc3c0" />
<rect x="345.10" y="173.00" width="9.10" height="6.05" fill="#7fc3c0" />
<rect x="370.00" y="173.00" width="9.25" height="6.05" fill="#7fc3c0" />
<rect x="378.25" y="173.00" width="8.25" height="5.05" fill="#7fc3c0" />
<rect x="411.25" y="173.00" width="9.25" height="6.05" fill="#7fc3c0" />
<rect x="419.50" y="173.00" width="9.25" height="6.05" fill="#7fc3c0" />
<rect x="427.75" y="173.00" width="9.25" height="6.05" fill="#7fc3c0" />
<rect x="436.00" y="173.00" width="8.25" height="5.05" fill="#7fc3c0" />
<rect x="444.25" y="173.00" width="8.25" height="5.05" fill="#dfbb78" />
<rect x="452.50" y="173.00" width="8.25" height="6.05" fill="#7fc3c0" />
<rect x="477.25" y="173.00" width="8.25" height="6.05" fill="#7fc3c0" />
<rect x="502.00" y="173.00" width="9.25" height="6.05" fill="#7fc3c0" />
<rect x="510.25" y="173.00" width="9.25" height="6.05" fill="#7fc3c0" />
<rect x="518.50" y="173.00" width="9.25" height="5.05" fill="#7fc3c0" />
<rect x="526.75" y="173.00" width="9.25" height="5.05" fill="#7fc3c0" />
<rect x="535.00" y="173.00" width="8.25" height="5.05" fill="#7fc3c0" />
<rect x="565.10" y="173.00" width="6.90" height="5.05" fill="#7fc3c0" />
<rect x="302.00" y="178.05" width="8.80" height="5.05" fill="#a9d18e" />
<rect x="309.80" y="178.05" width="7.80" height="6.05" fill="#a9d18e" />
<rect x="317.60" y="178.05" width="9.20" height="5.05" fill="#7fc3c0" />
<rect x="336.00" y="178.05" width="10.10" height="6.05" fill="#7fc3c0" />
<rect x="345.10" y="178.05" width="9.10" height="5.05" fill="#7fc3c0" />
<rect x="363.30" y="178.05" width="7.70" height="5.05" fill="#7fc3c0" />
<rect x="370.00" y="178.05" width="8.25" height="5.05" fill="#7fc3c0" />
<rect x="386.50" y="178.05" width="9.25" height="6.05" fill="#7fc3c0" />
<rect x="394.75" y="178.05" width="9.25" height="6.05" fill="#7fc3c0" />
<rect x="403.00" y="178.05" width="9.25" height="6.05" fill="#7fc3c0" />
<rect x="411.25" y="178.05" width="9.25" height="5.05" fill="#7fc3c0" />
<rect x="419.50" y="178.05" width="9.25" height="6.05" fill="#7fc3c0" />
<rect x="427.75" y="178.05" width="8.25" height="5.05" fill="#7fc3c0" />
<rect x="444.25" y="178.05" width="9.25" height="5.05" fill="#7fc3c0" />
<rect x="452.50" y="178.05" width="9.25" height="6.05" fill="#7fc3c0" />
<rect x="460.75" y="178.05" width="9.25" height="5.05" fill="#7fc3c0" />
<rect x="469.00" y="178.05" width="9.25" height="5.05" fill="#7fc3c0" />
<rect x="477.25" y="178.05" width="9.25" height="6.05" fill="#7fc3c0" />
<rect x="485.50" y="178.05" width="9.25" height="5.05" fill="#7fc3c0" />
<rect x="493.75" y="178.05" width="9.25" height="5.05" fill="#7fc3c0" />
<rect x="502.00" y="178.05" width="9.25" height="5.05" fill="#7fc3c0" />
<rect x="510.25" y="178.05" width="8.25" height="6.05" fill="#7fc3c0" />
<rect x="302.00" y="183.10" width="7.80" height="6.05" fill="#8ea9dc" />
<rect x="309.80" y="183.10" width="7.80" height="6.05" fill="#a9d18e" />
<rect x="336.00" y="183.10" width="9.10" height="5.05" fill="#7fc3c0" />
<rect x="354.20" y="183.10" width="9.10" height="5.05" fill="#7fc3c0" />
<rect x="386.50" y="183.10" width="9.25" height="5.05" fill="#7fc3c0" />
<rect x="394.75" y="183.10" width="9.25" height="5.05" fill="#7fc3c0" />
<rect x="403.00" y="183.10" width="8.25" height="5.05" fill="#7fc3c0" />
<rect x="419.50" y="183.10" width="8.25" height="5.05" fill="#7fc3c0" />
<rect x="444.25" y="183.10" width="8.25" height="5.05" fill="#dfbb78" />
<rect x="452.50" y="183.10" width="8.25" height="5.05" fill="#7fc3c0" />
<rect x="477.25" y="183.10" width="8.25" height="5.05" fill="#7fc3c0" />
<rect x="502.00" y="183.10" width="8.25" height="6.05" fill="#dfbb78" />
<rect x="510.25" y="183.10" width="8.25" height="6.05" fill="#7fc3c0" />
<rect x="551.50" y="183.10" width="7.80" height="5.05" fill="#7fc3c0" />
<rect x="558.30" y="183.10" width="6.80" height="5.05" fill="#7fc3c0" />
<rect x="572.00" y="183.10" width="9.30" height="5.05" fill="#7fc3c0" />
<rect x="302.00" y="188.15" width="7.80" height="6.05" fill="#8ea9dc" />
<rect x="309.80" y="188.15" width="7.80" height="6.05" fill="#a9d18e" />
<rect x="378.25" y="188.15" width="8.25" height="5.05" fill="#dfbb78" />
<rect x="436.00" y="188.15" width="8.25" height="5.05" fill="#7fc3c0" />
<rect x="452.50" y="188.15" width="8.25" height="5.05" fill="#dfbb78" />
<rect x="469.00" y="188.15" width="8.25" height="6.05" fill="#dfbb78" />
<rect x="493.75" y="188.15" width="8.25" height="5.05" fill="#7fc3c0" />
<rect x="502.00" y="188.15" width="8.25" height="5.05" fill="#dfbb78" />
<rect x="510.25" y="188.15" width="8.25" height="6.05" fill="#7fc3c0" />
<rect x="551.50" y="188.15" width="6.80" height="5.05" fill="#dfbb78" />
<rect x="302.00" y="193.20" width="7.80" height="6.05" fill="#8ea9dc" />
<rect x="309.80" y="193.20" width="7.80" height="5.05" fill="#a9d18e" />
<rect x="386.50" y="193.20" width="9.25" height="6.05" fill="#7fc3c0" />
<rect x="394.75" y="193.20" width="9.25" height="6.05" fill="#7fc3c0" />
<rect x="403.00" y="193.20" width="9.25" height="6.05" fill="#7fc3c0" />
<rect x="411.25" y="193.20" width="9.25" height="6.05" fill="#7fc3c0" />
<rect x="419.50" y="193.20" width="8.25" height="6.05" fill="#7fc3c0" />
<rect x="444.25" y="193.20" width="9.25" height="5.05" fill="#7fc3c0" />
<rect x="452.50" y="193.20" width="8.25" height="6.05" fill="#7fc3c0" />
<rect x="469.00" y="193.20" width="8.25" height="6.05" fill="#dfbb78" />
<rect x="493.75" y="193.20" width="8.25" height="5.05" fill="#dfbb78" />
<rect x="502.00" y="193.20" width="9.25" height="6.05" fill="#7fc3c0" />
<rect x="510.25" y="193.20" width="8.25" height="6.05" fill="#7fc3c0" />
<rect x="543.25" y="193.20" width="8.25" height="5.05" fill="#dfbb78" />
<rect x="302.00" y="198.25" width="8.80" height="6.05" fill="#8ea9dc" />
<rect x="309.80" y="198.25" width="7.80" height="6.05" fill="#8ea9dc" />
<rect x="345.10" y="198.25" width="9.10" height="6.05" fill="#7fc3c0" />
<rect x="363.30" y="198.25" width="7.70" height="6.05" fill="#7fc3c0" />
<rect x="370.00" y="198.25" width="9.25" height="5.05" fill="#7fc3c0" />
<rect x="378.25" y="198.25" width="9.25" height="5.05" fill="#7fc3c0" />
<rect x="386.50" y="198.25" width="9.25" height="5.05" fill="#7fc3c0" />
<rect x="394.75" y="198.25" width="9.25" height="5.05" fill="#7fc3c0" />
<rect x="403.00" y="198.25" width="9.25" height="5.05" fill="#7fc3c0" />
<rect x="411.25" y="198.25" width="9.25" height="5.05" fill="#7fc3c0" />
<rect x="419.50" y="198.25" width="9.25" height="6.05" fill="#7fc3c0" />
<rect x="427.75" y="198.25" width="9.25" height="5.05" fill="#7fc3c0" />
<rect x="436.00" y="198.25" width="8.25" height="5.05" fill="#7fc3c0" />
<rect x="444.25" y="198.25" width="8.25" height="6.05" fill="#dfbb78" />
<rect x="452.50" y="198.25" width="8.25" height="6.05" fill="#7fc3c0" />
<rect x="469.00" y="198.25" width="8.25" height="5.05" fill="#dfbb78" />
<rect x="477.25" y="198.25" width="8.25" height="6.05" fill="#7fc3c0" />
<rect x="502.00" y="198.25" width="9.25" height="6.05" fill="#7fc3c0" />
<rect x="510.25" y="198.25" width="8.25" height="6.05" fill="#7fc3c0" />
<rect x="543.25" y="198.25" width="8.25" height="6.05" fill="#7fc3c0" />
<rect x="302.00" y="203.30" width="8.80" height="6.05" fill="#8ea9dc" />
<rect x="309.80" y="203.30" width="7.80" height="6.05" fill="#8ea9dc" />
<rect x="336.00" y="203.30" width="10.10" height="5.05" fill="#7fc3c0" />
<rect x="345.10" y="203.30" width="9.10" height="6.05" fill="#7fc3c0" />
<rect x="363.30" y="203.30" width="6.70" height="5.05" fill="#7fc3c0" />
<rect x="419.50" y="203.30" width="8.25" height="6.05" fill="#7fc3c0" />
<rect x="444.25" y="203.30" width="8.25" height="6.05" fill="#dfbb78" />
<rect x="452.50" y="203.30" width="8.25" height="6.05" fill="#7fc3c0" />
<rect x="469.00" y="203.30" width="9.25" height="5.05" fill="#7fc3c0" />
<rect x="477.25" y="203.30" width="8.25" height="6.05" fill="#7fc3c0" />
<rect x="502.00" y="203.30" width="9.25" height="6.05" fill="#7fc3c0" />
<rect x="510.25" y="203.30" width="8.25" height="6.05" fill="#7fc3c0" />
<rect x="543.25" y="203.30" width="9.25" height="6.05" fill="#7fc3c0" />
<rect x="551.50" y="203.30" width="7.80" height="6.05" fill="#7fc3c0" />
<rect x="558.30" y="203.30" width="7.80" height="6.05" fill="#7fc3c0" />
<rect x="565.10" y="203.30" width="7.90" height="5.05" fill="#7fc3c0" />
<rect x="572.00" y="203.30" width="9.30" height="6.05" fill="#7fc3c0" />
<rect x="302.00" y="208.35" width="8.80" height="5.05" fill="#8ea9dc" />
<rect x="309.80" y="208.35" width="7.80" height="5.05" fill="#8ea9dc" />
<rect x="317.60" y="208.35" width="9.20" height="5.05" fill="#7fc3c0" />
<rect x="345.10" y="208.35" width="9.10" height="5.05" fill="#7fc3c0" />
<rect x="370.00" y="208.35" width="9.25" height="5.05" fill="#7fc3c0" />
<rect x="378.25" y="208.35" width="8.25" height="5.05" fill="#7fc3c0" />
<rect x="411.25" y="208.35" width="9.25" height="5.05" fill="#7fc3c0" />
<rect x="419.50" y="208.35" width="9.25" height="5.05" fill="#7fc3c0" />
<rect x="427.75" y="208.35" width="9.25" height="5.05" fill="#7fc3c0" />
<rect x="436.00" y="208.35" width="8.25" height="5.05" fill="#7fc3c0" />
<rect x="444.25" y="208.35" width="8.25" height="5.05" fill="#dfbb78" />
<rect x="452.50" y="208.35" width="8.25" height="5.05" fill="#7fc3c0" />
<rect x="469.00" y="208.35" width="8.25" height="5.05" fill="#dfbb78" />
<rect x="477.25" y="208.35" width="8.25" height="5.05" fill="#7fc3c0" />
<rect x="502.00" y="208.35" width="9.25" height="5.05" fill="#7fc3c0" />
<rect x="510.25" y="208.35" width="9.25" height="5.05" fill="#7fc3c0" />
<rect x="518.50" y="208.35" width="9.25" height="5.05" fill="#7fc3c0" />
<rect x="526.75" y="208.35" width="9.25" height="5.05" fill="#7fc3c0" />
<rect x="535.00" y="208.35" width="9.25" height="5.05" fill="#7fc3c0" />
<rect x="543.25" y="208.35" width="9.25" height="5.05" fill="#7fc3c0" />
<rect x="551.50" y="208.35" width="7.80" height="5.05" fill="#7fc3c0" />
<rect x="558.30" y="208.35" width="6.80" height="5.05" fill="#7fc3c0" />
<rect x="572.00" y="208.35" width="9.30" height="5.05" fill="#7fc3c0" />
<line x1="581.60" y1="72.00" x2="581.60" y2="213.40" stroke="#9a92c4" stroke-width="0.8" />
<rect x="300.5" y="28.5" width="17.19999999999999" height="12.5" fill="none" stroke="#333" stroke-width="0.9"/>
<text x="308.60" y="37.40" font-size="6.9" fill="#222" text-anchor="middle" >FLIP</text>
<rect x="317.7" y="28.5" width="45.69999999999999" height="12.5" fill="none" stroke="#333" stroke-width="0.9"/>
<text x="338.50" y="37.40" font-size="7.4" fill="#222" text-anchor="middle" >Orf1a</text>
<rect x="363.4" y="28.5" width="187.60000000000002" height="12.5" fill="none" stroke="#333" stroke-width="0.9"/>
<text x="455.30" y="37.40" font-size="7.4" fill="#222" text-anchor="middle" >Spike</text>
<rect x="551" y="28.5" width="20.700000000000045" height="12.5" fill="none" stroke="#333" stroke-width="0.9"/>
<text x="558.50" y="37.40" font-size="7.4" fill="#222" text-anchor="middle" >M</text>
<rect x="571.7" y="28.5" width="9.099999999999909" height="12.5" fill="none" stroke="#333" stroke-width="0.9"/>
<text x="576.20" y="37.40" font-size="7.4" fill="#222" text-anchor="middle" >N</text>
<text transform="translate(309.30,68.6) rotate(-90)" font-size="7" fill="#1a1a1a" stroke="#1a1a1a" stroke-width="0.12">L455S</text>
<text transform="translate(317.10,68.6) rotate(-90)" font-size="7" fill="#1a1a1a" stroke="#1a1a1a" stroke-width="0.12">L456F</text>
<text transform="translate(325.60,68.6) rotate(-90)" font-size="7" fill="#1a1a1a" stroke="#1a1a1a" stroke-width="0.12">A211D</text>
<text transform="translate(334.80,68.6) rotate(-90)" font-size="7" fill="#1a1a1a" stroke="#1a1a1a" stroke-width="0.12">V1056L</text>
<text transform="translate(343.95,68.6) rotate(-90)" font-size="7" fill="#1a1a1a" stroke="#1a1a1a" stroke-width="0.12">N2526S</text>
<text transform="translate(353.05,68.6) rotate(-90)" font-size="7" fill="#1a1a1a" stroke="#1a1a1a" stroke-width="0.12">A2710T</text>
<text transform="translate(362.15,68.6) rotate(-90)" font-size="7" fill="#1a1a1a" stroke="#1a1a1a" stroke-width="0.12">V3593F</text>
<text transform="translate(370.05,68.6) rotate(-90)" font-size="7" fill="#1a1a1a" stroke="#1a1a1a" stroke-width="0.12">S50L</text>
<text transform="translate(377.52,68.6) rotate(-90)" font-size="7" fill="#1a1a1a" stroke="#1a1a1a" stroke-width="0.12">V127F</text>
<text transform="translate(385.77,68.6) rotate(-90)" font-size="7" fill="#1a1a1a" stroke="#1a1a1a" stroke-width="0.12">R158G</text>
<text transform="translate(394.02,68.6) rotate(-90)" font-size="7" fill="#1a1a1a" stroke="#1a1a1a" stroke-width="0.12">L216F</text>
<text transform="translate(402.27,68.6) rotate(-90)" font-size="7" fill="#1a1a1a" stroke="#1a1a1a" stroke-width="0.12">H245N</text>
<text transform="translate(410.52,68.6) rotate(-90)" font-size="7" fill="#1a1a1a" stroke="#1a1a1a" stroke-width="0.12">A264D</text>
<text transform="translate(418.77,68.6) rotate(-90)" font-size="7" fill="#1a1a1a" stroke="#1a1a1a" stroke-width="0.12">I332V</text>
<text transform="translate(427.02,68.6) rotate(-90)" font-size="7" fill="#1a1a1a" stroke="#1a1a1a" stroke-width="0.12">D339H</text>
<text transform="translate(435.27,68.6) rotate(-90)" font-size="7" fill="#1a1a1a" stroke="#1a1a1a" stroke-width="0.12">K356T</text>
<text transform="translate(443.52,68.6) rotate(-90)" font-size="7" fill="#1a1a1a" stroke="#1a1a1a" stroke-width="0.12">R403K</text>
<text transform="translate(451.77,68.6) rotate(-90)" font-size="7" fill="#1a1a1a" stroke="#1a1a1a" stroke-width="0.12">V445H</text>
<text transform="translate(460.02,68.6) rotate(-90)" font-size="7" fill="#1a1a1a" stroke="#1a1a1a" stroke-width="0.12">G446S</text>
<text transform="translate(468.27,68.6) rotate(-90)" font-size="7" fill="#1a1a1a" stroke="#1a1a1a" stroke-width="0.12">N450D</text>
<text transform="translate(476.52,68.6) rotate(-90)" font-size="7" fill="#1a1a1a" stroke="#1a1a1a" stroke-width="0.12">L452W</text>
<text transform="translate(484.77,68.6) rotate(-90)" font-size="7" fill="#1a1a1a" stroke="#1a1a1a" stroke-width="0.12">N460K</text>
<text transform="translate(493.02,68.6) rotate(-90)" font-size="7" fill="#1a1a1a" stroke="#1a1a1a" stroke-width="0.12">N481K</text>
<text transform="translate(501.27,68.6) rotate(-90)" font-size="7" fill="#1a1a1a" stroke="#1a1a1a" stroke-width="0.12">A484K</text>
<text transform="translate(509.52,68.6) rotate(-90)" font-size="7" fill="#1a1a1a" stroke="#1a1a1a" stroke-width="0.12">F486P</text>
<text transform="translate(517.77,68.6) rotate(-90)" font-size="7" fill="#1a1a1a" stroke="#1a1a1a" stroke-width="0.12">R493Q</text>
<text transform="translate(526.02,68.6) rotate(-90)" font-size="7" fill="#1a1a1a" stroke="#1a1a1a" stroke-width="0.12">E554K</text>
<text transform="translate(534.27,68.6) rotate(-90)" font-size="7" fill="#1a1a1a" stroke="#1a1a1a" stroke-width="0.12">A570V</text>
<text transform="translate(542.52,68.6) rotate(-90)" font-size="7" fill="#1a1a1a" stroke="#1a1a1a" stroke-width="0.12">P621S</text>
<text transform="translate(550.77,68.6) rotate(-90)" font-size="7" fill="#1a1a1a" stroke="#1a1a1a" stroke-width="0.12">H681R</text>
<text transform="translate(558.30,68.6) rotate(-90)" font-size="7" fill="#1a1a1a" stroke="#1a1a1a" stroke-width="0.12">D3H</text>
<text transform="translate(565.10,68.6) rotate(-90)" font-size="7" fill="#1a1a1a" stroke="#1a1a1a" stroke-width="0.12">T30A</text>
<text transform="translate(571.95,68.6) rotate(-90)" font-size="7" fill="#1a1a1a" stroke="#1a1a1a" stroke-width="0.12">A104V</text>
<text transform="translate(580.05,68.6) rotate(-90)" font-size="7" fill="#1a1a1a" stroke="#1a1a1a" stroke-width="0.12">Q229K</text>
<text x="339.70" y="227.60" font-size="5.6" fill="#333" text-anchor="start" textLength="15.3" lengthAdjust="spacingAndGlyphs">L455</text>
<line x1="357.90" y1="225.50" x2="370.90" y2="225.50" stroke="#8ea9dc" stroke-width="2.2" />
<text x="339.70" y="234.43" font-size="5.6" fill="#333" text-anchor="start" textLength="15.3" lengthAdjust="spacingAndGlyphs">S455</text>
<line x1="357.90" y1="232.33" x2="370.90" y2="232.33" stroke="#a9d18e" stroke-width="2.2" />
<text x="339.70" y="241.26" font-size="5.6" fill="#333" text-anchor="start" textLength="15.3" lengthAdjust="spacingAndGlyphs">L456</text>
<line x1="357.90" y1="239.16" x2="370.90" y2="239.16" stroke="#8ea9dc" stroke-width="2.2" />
<text x="339.70" y="248.09" font-size="5.6" fill="#333" text-anchor="start" textLength="15.3" lengthAdjust="spacingAndGlyphs">F456</text>
<line x1="357.90" y1="245.99" x2="370.90" y2="245.99" stroke="#a9d18e" stroke-width="2.2" />
<rect x="383.00" y="224.80" width="9.30" height="8.80" fill="#546a7b" />
<text x="395.20" y="232.60" font-size="9.2" fill="#222" text-anchor="start" >Ancestral (BA.2-like)</text>
<rect x="490.20" y="224.80" width="7.20" height="8.40" fill="#dfbb78" />
<text x="500.00" y="232.60" font-size="9.2" fill="#222" text-anchor="start" >Conserved/Other</text>
<rect x="383.00" y="238.30" width="9.30" height="8.90" fill="#7fc3c0" />
<text x="395.20" y="246.00" font-size="9.2" fill="#222" text-anchor="start" style="white-space:pre">Derived  (BA.2.86*-like)</text>
<rect x="36.50" y="313.40" width="247.90" height="59.80" fill="#ffffff" />
<line x1="39.70" y1="313.40" x2="39.70" y2="373.20" stroke="#e6e6e6" stroke-width="0.5" />
<line x1="45.45" y1="313.40" x2="45.45" y2="373.20" stroke="#e6e6e6" stroke-width="0.5" />
<line x1="51.19" y1="313.40" x2="51.19" y2="373.20" stroke="#e6e6e6" stroke-width="0.5" />
<line x1="56.94" y1="313.40" x2="56.94" y2="373.20" stroke="#e6e6e6" stroke-width="0.5" />
<line x1="62.68" y1="313.40" x2="62.68" y2="373.20" stroke="#e6e6e6" stroke-width="0.5" />
<line x1="68.43" y1="313.40" x2="68.43" y2="373.20" stroke="#e6e6e6" stroke-width="0.5" />
<line x1="74.17" y1="313.40" x2="74.17" y2="373.20" stroke="#e6e6e6" stroke-width="0.5" />
<line x1="79.92" y1="313.40" x2="79.92" y2="373.20" stroke="#e6e6e6" stroke-width="0.5" />
<line x1="85.66" y1="313.40" x2="85.66" y2="373.20" stroke="#e6e6e6" stroke-width="0.5" />
<line x1="91.41" y1="313.40" x2="91.41" y2="373.20" stroke="#e6e6e6" stroke-width="0.5" />
<line x1="97.15" y1="313.40" x2="97.15" y2="373.20" stroke="#e6e6e6" stroke-width="0.5" />
<line x1="102.90" y1="313.40" x2="102.90" y2="373.20" stroke="#e6e6e6" stroke-width="0.5" />
<line x1="108.64" y1="313.40" x2="108.64" y2="373.20" stroke="#e6e6e6" stroke-width="0.5" />
<line x1="114.39" y1="313.40" x2="114.39" y2="373.20" stroke="#e6e6e6" stroke-width="0.5" />
<line x1="120.13" y1="313.40" x2="120.13" y2="373.20" stroke="#e6e6e6" stroke-width="0.5" />
<line x1="125.88" y1="313.40" x2="125.88" y2="373.20" stroke="#e6e6e6" stroke-width="0.5" />
<line x1="131.62" y1="313.40" x2="131.62" y2="373.20" stroke="#e6e6e6" stroke-width="0.5" />
<line x1="137.37" y1="313.40" x2="137.37" y2="373.20" stroke="#e6e6e6" stroke-width="0.5" />
<line x1="143.11" y1="313.40" x2="143.11" y2="373.20" stroke="#e6e6e6" stroke-width="0.5" />
<line x1="148.86" y1="313.40" x2="148.86" y2="373.20" stroke="#e6e6e6" stroke-width="0.5" />
<line x1="154.60" y1="313.40" x2="154.60" y2="373.20" stroke="#e6e6e6" stroke-width="0.5" />
<line x1="160.34" y1="313.40" x2="160.34" y2="373.20" stroke="#e6e6e6" stroke-width="0.5" />
<line x1="166.09" y1="313.40" x2="166.09" y2="373.20" stroke="#e6e6e6" stroke-width="0.5" />
<line x1="171.83" y1="313.40" x2="171.83" y2="373.20" stroke="#e6e6e6" stroke-width="0.5" />
<line x1="177.58" y1="313.40" x2="177.58" y2="373.20" stroke="#e6e6e6" stroke-width="0.5" />
<line x1="183.32" y1="313.40" x2="183.32" y2="373.20" stroke="#e6e6e6" stroke-width="0.5" />
<line x1="189.07" y1="313.40" x2="189.07" y2="373.20" stroke="#e6e6e6" stroke-width="0.5" />
<line x1="194.81" y1="313.40" x2="194.81" y2="373.20" stroke="#e6e6e6" stroke-width="0.5" />
<line x1="200.56" y1="313.40" x2="200.56" y2="373.20" stroke="#e6e6e6" stroke-width="0.5" />
<line x1="206.31" y1="313.40" x2="206.31" y2="373.20" stroke="#e6e6e6" stroke-width="0.5" />
<line x1="212.05" y1="313.40" x2="212.05" y2="373.20" stroke="#e6e6e6" stroke-width="0.5" />
<line x1="217.80" y1="313.40" x2="217.80" y2="373.20" stroke="#e6e6e6" stroke-width="0.5" />
<line x1="223.54" y1="313.40" x2="223.54" y2="373.20" stroke="#e6e6e6" stroke-width="0.5" />
<line x1="229.29" y1="313.40" x2="229.29" y2="373.20" stroke="#e6e6e6" stroke-width="0.5" />
<line x1="235.03" y1="313.40" x2="235.03" y2="373.20" stroke="#e6e6e6" stroke-width="0.5" />
<line x1="240.78" y1="313.40" x2="240.78" y2="373.20" stroke="#e6e6e6" stroke-width="0.5" />
<line x1="246.52" y1="313.40" x2="246.52" y2="373.20" stroke="#e6e6e6" stroke-width="0.5" />
<line x1="252.26" y1="313.40" x2="252.26" y2="373.20" stroke="#e6e6e6" stroke-width="0.5" />
<line x1="258.01" y1="313.40" x2="258.01" y2="373.20" stroke="#e6e6e6" stroke-width="0.5" />
<line x1="263.75" y1="313.40" x2="263.75" y2="373.20" stroke="#e6e6e6" stroke-width="0.5" />
<line x1="269.50" y1="313.40" x2="269.50" y2="373.20" stroke="#e6e6e6" stroke-width="0.5" />
<line x1="275.25" y1="313.40" x2="275.25" y2="373.20" stroke="#e6e6e6" stroke-width="0.5" />
<line x1="280.99" y1="313.40" x2="280.99" y2="373.20" stroke="#e6e6e6" stroke-width="0.5" />
<line x1="39.70" y1="373.20" x2="39.70" y2="374.40" stroke="#333" stroke-width="0.5" />
<line x1="45.45" y1="373.20" x2="45.45" y2="374.40" stroke="#333" stroke-width="0.5" />
<line x1="51.19" y1="373.20" x2="51.19" y2="374.40" stroke="#333" stroke-width="0.5" />
<line x1="56.94" y1="373.20" x2="56.94" y2="374.40" stroke="#333" stroke-width="0.5" />
<line x1="62.68" y1="373.20" x2="62.68" y2="374.40" stroke="#333" stroke-width="0.5" />
<line x1="68.43" y1="373.20" x2="68.43" y2="374.40" stroke="#333" stroke-width="0.5" />
<line x1="74.17" y1="373.20" x2="74.17" y2="374.40" stroke="#333" stroke-width="0.5" />
<line x1="79.92" y1="373.20" x2="79.92" y2="374.40" stroke="#333" stroke-width="0.5" />
<line x1="85.66" y1="373.20" x2="85.66" y2="374.40" stroke="#333" stroke-width="0.5" />
<line x1="91.41" y1="373.20" x2="91.41" y2="374.40" stroke="#333" stroke-width="0.5" />
<line x1="97.15" y1="373.20" x2="97.15" y2="374.40" stroke="#333" stroke-width="0.5" />
<line x1="102.90" y1="373.20" x2="102.90" y2="374.40" stroke="#333" stroke-width="0.5" />
<line x1="108.64" y1="373.20" x2="108.64" y2="374.40" stroke="#333" stroke-width="0.5" />
<line x1="114.39" y1="373.20" x2="114.39" y2="374.40" stroke="#333" stroke-width="0.5" />
<line x1="120.13" y1="373.20" x2="120.13" y2="374.40" stroke="#333" stroke-width="0.5" />
<line x1="125.88" y1="373.20" x2="125.88" y2="374.40" stroke="#333" stroke-width="0.5" />
<line x1="131.62" y1="373.20" x2="131.62" y2="374.40" stroke="#333" stroke-width="0.5" />
<line x1="137.37" y1="373.20" x2="137.37" y2="374.40" stroke="#333" stroke-width="0.5" />
<line x1="143.11" y1="373.20" x2="143.11" y2="374.40" stroke="#333" stroke-width="0.5" />
<line x1="148.86" y1="373.20" x2="148.86" y2="374.40" stroke="#333" stroke-width="0.5" />
<line x1="154.60" y1="373.20" x2="154.60" y2="374.40" stroke="#333" stroke-width="0.5" />
<line x1="160.34" y1="373.20" x2="160.34" y2="374.40" stroke="#333" stroke-width="0.5" />
<line x1="166.09" y1="373.20" x2="166.09" y2="374.40" stroke="#333" stroke-width="0.5" />
<line x1="171.83" y1="373.20" x2="171.83" y2="374.40" stroke="#333" stroke-width="0.5" />
<line x1="177.58" y1="373.20" x2="177.58" y2="374.40" stroke="#333" stroke-width="0.5" />
<line x1="183.32" y1="373.20" x2="183.32" y2="374.40" stroke="#333" stroke-width="0.5" />
<line x1="189.07" y1="373.20" x2="189.07" y2="374.40" stroke="#333" stroke-width="0.5" />
<line x1="194.81" y1="373.20" x2="194.81" y2="374.40" stroke="#333" stroke-width="0.5" />
<line x1="200.56" y1="373.20" x2="200.56" y2="374.40" stroke="#333" stroke-width="0.5" />
<line x1="206.31" y1="373.20" x2="206.31" y2="374.40" stroke="#333" stroke-width="0.5" />
<line x1="212.05" y1="373.20" x2="212.05" y2="374.40" stroke="#333" stroke-width="0.5" />
<line x1="217.80" y1="373.20" x2="217.80" y2="374.40" stroke="#333" stroke-width="0.5" />
<line x1="223.54" y1="373.20" x2="223.54" y2="374.40" stroke="#333" stroke-width="0.5" />
<line x1="229.29" y1="373.20" x2="229.29" y2="374.40" stroke="#333" stroke-width="0.5" />
<line x1="235.03" y1="373.20" x2="235.03" y2="374.40" stroke="#333" stroke-width="0.5" />
<line x1="240.78" y1="373.20" x2="240.78" y2="374.40" stroke="#333" stroke-width="0.5" />
<line x1="246.52" y1="373.20" x2="246.52" y2="374.40" stroke="#333" stroke-width="0.5" />
<line x1="252.26" y1="373.20" x2="252.26" y2="374.40" stroke="#333" stroke-width="0.5" />
<line x1="258.01" y1="373.20" x2="258.01" y2="374.40" stroke="#333" stroke-width="0.5" />
<line x1="263.75" y1="373.20" x2="263.75" y2="374.40" stroke="#333" stroke-width="0.5" />
<line x1="269.50" y1="373.20" x2="269.50" y2="374.40" stroke="#333" stroke-width="0.5" />
<line x1="275.25" y1="373.20" x2="275.25" y2="374.40" stroke="#333" stroke-width="0.5" />
<line x1="280.99" y1="373.20" x2="280.99" y2="374.40" stroke="#333" stroke-width="0.5" />
<line x1="36.50" y1="374.75" x2="284.40" y2="374.75" stroke="#e6e6e6" stroke-width="0.5" />
<line x1="36.50" y1="368.62" x2="284.40" y2="368.62" stroke="#f1f1f1" stroke-width="0.4" />
<line x1="36.50" y1="362.50" x2="284.40" y2="362.50" stroke="#e6e6e6" stroke-width="0.5" />
<line x1="36.50" y1="356.38" x2="284.40" y2="356.38" stroke="#f1f1f1" stroke-width="0.4" />
<line x1="36.50" y1="350.25" x2="284.40" y2="350.25" stroke="#e6e6e6" stroke-width="0.5" />
<line x1="36.50" y1="344.12" x2="284.40" y2="344.12" stroke="#f1f1f1" stroke-width="0.4" />
<line x1="36.50" y1="338.00" x2="284.40" y2="338.00" stroke="#e6e6e6" stroke-width="0.5" />
<line x1="36.50" y1="331.88" x2="284.40" y2="331.88" stroke="#f1f1f1" stroke-width="0.4" />
<line x1="36.50" y1="325.75" x2="284.40" y2="325.75" stroke="#e6e6e6" stroke-width="0.5" />
<line x1="36.50" y1="319.62" x2="284.40" y2="319.62" stroke="#f1f1f1" stroke-width="0.4" />
<line x1="36.50" y1="313.50" x2="284.40" y2="313.50" stroke="#e6e6e6" stroke-width="0.5" />
<line x1="36.50" y1="307.38" x2="284.40" y2="307.38" stroke="#f1f1f1" stroke-width="0.4" />
<rect x="36.5" y="313.4" width="247.89999999999998" height="59.80000000000001" fill="none" stroke="#333" stroke-width="0.9"/>
<text x="33.80" y="315.50" font-size="6" fill="#555" text-anchor="end" >1.0</text>
<line x1="34.50" y1="313.50" x2="36.50" y2="313.50" stroke="#333" stroke-width="0.5" />
<text x="33.80" y="327.75" font-size="6" fill="#555" text-anchor="end" >0.9</text>
<line x1="34.50" y1="325.75" x2="36.50" y2="325.75" stroke="#333" stroke-width="0.5" />
<text x="33.80" y="340.00" font-size="6" fill="#555" text-anchor="end" >0.8</text>
<line x1="34.50" y1="338.00" x2="36.50" y2="338.00" stroke="#333" stroke-width="0.5" />
<text x="33.80" y="352.25" font-size="6" fill="#555" text-anchor="end" >0.7</text>
<line x1="34.50" y1="350.25" x2="36.50" y2="350.25" stroke="#333" stroke-width="0.5" />
<text x="33.80" y="364.50" font-size="6" fill="#555" text-anchor="end" >0.6</text>
<line x1="34.50" y1="362.50" x2="36.50" y2="362.50" stroke="#333" stroke-width="0.5" />
<text x="160.40" y="308.80" font-size="6.4" fill="#444" text-anchor="middle" >Major Allele Frequencies (MAF) EPI_ISL_16731648</text>
<text transform="translate(20.8,342.5) rotate(-90)" font-size="6.5" fill="#333" text-anchor="middle">Frequency</text>
<text x="157.40" y="412.00" font-size="6.8" fill="#222" text-anchor="middle" >Mutation</text>
<circle cx="39.70" cy="332.10" r="2.0" fill="#d5949c"/>
<circle cx="45.45" cy="341.80" r="2.0" fill="#d5949c"/>
<circle cx="51.19" cy="322.60" r="2.0" fill="#d5949c"/>
<circle cx="56.94" cy="319.30" r="2.0" fill="#d5949c"/>
<circle cx="62.68" cy="324.20" r="2.0" fill="#d5949c"/>
<circle cx="68.43" cy="370.50" r="2.0" fill="#d5949c"/>
<circle cx="74.17" cy="320.00" r="2.0" fill="#d5949c"/>
<circle cx="79.92" cy="316.90" r="2.0" fill="#d5949c"/>
<circle cx="85.66" cy="359.00" r="2.0" fill="#d19e1e"/>
<circle cx="91.41" cy="347.10" r="2.0" fill="#d19e1e"/>
<circle cx="97.15" cy="346.20" r="2.0" fill="#d19e1e"/>
<circle cx="102.90" cy="327.70" r="2.0" fill="#d19e1e"/>
<circle cx="108.64" cy="317.80" r="2.0" fill="#d19e1e"/>
<circle cx="114.39" cy="318.00" r="2.0" fill="#d19e1e"/>
<circle cx="120.13" cy="327.70" r="2.0" fill="#d19e1e"/>
<circle cx="125.88" cy="322.40" r="2.0" fill="#d19e1e"/>
<circle cx="131.62" cy="329.90" r="2.0" fill="#d19e1e"/>
<circle cx="137.37" cy="318.40" r="2.0" fill="#d19e1e"/>
<circle cx="143.11" cy="320.20" r="2.0" fill="#d19e1e"/>
<circle cx="148.86" cy="350.00" r="2.0" fill="#d19e1e"/>
<circle cx="154.60" cy="346.90" r="2.0" fill="#d19e1e"/>
<circle cx="160.34" cy="359.40" r="2.0" fill="#d19e1e"/>
<circle cx="166.09" cy="316.70" r="2.0" fill="#d19e1e"/>
<circle cx="171.83" cy="320.40" r="2.0" fill="#d19e1e"/>
<circle cx="177.58" cy="320.90" r="2.0" fill="#d19e1e"/>
<circle cx="183.32" cy="356.30" r="2.0" fill="#d19e1e"/>
<circle cx="189.07" cy="371.10" r="2.0" fill="#d19e1e"/>
<circle cx="194.81" cy="322.80" r="2.0" fill="#d19e1e"/>
<circle cx="200.56" cy="322.60" r="2.0" fill="#d19e1e"/>
<circle cx="206.31" cy="322.80" r="2.0" fill="#d19e1e"/>
<circle cx="212.05" cy="334.50" r="2.0" fill="#d19e1e"/>
<circle cx="217.80" cy="318.40" r="2.0" fill="#d19e1e"/>
<circle cx="223.54" cy="326.80" r="2.0" fill="#4f8a7e"/>
<circle cx="229.29" cy="320.60" r="2.0" fill="#d98c7e"/>
<circle cx="235.03" cy="346.20" r="2.0" fill="#d98c7e"/>
<circle cx="240.78" cy="319.30" r="2.0" fill="#5aa8b3"/>
<circle cx="246.52" cy="329.90" r="2.0" fill="#5aa8b3"/>
<circle cx="252.26" cy="340.00" r="2.0" fill="#8b7fbf"/>
<circle cx="258.01" cy="340.90" r="2.0" fill="#8b7fbf"/>
<circle cx="263.75" cy="350.00" r="2.0" fill="#353540"/>
<circle cx="269.50" cy="325.30" r="2.0" fill="#353540"/>
<circle cx="275.25" cy="322.20" r="2.0" fill="#353540"/>
<circle cx="280.99" cy="324.80" r="2.0" fill="#353540"/>
<text transform="translate(41.70,375) rotate(-90)" font-size="5.6" fill="#555" text-anchor="end">NSP3_T24I</text>
<text transform="translate(47.45,375) rotate(-90)" font-size="5.6" fill="#555" text-anchor="end">NSP3_G489S</text>
<text transform="translate(53.19,375) rotate(-90)" font-size="5.6" fill="#555" text-anchor="end">NSP4_L264F</text>
<text transform="translate(58.94,375) rotate(-90)" font-size="5.6" fill="#555" text-anchor="end">NSP5_P132H</text>
<text transform="translate(64.68,375) rotate(-90)" font-size="5.6" fill="#555" text-anchor="end">NSP12_P323L</text>
<text transform="translate(70.43,375) rotate(-90)" font-size="5.6" fill="#555" text-anchor="end">NSP13_S36P</text>
<text transform="translate(76.17,375) rotate(-90)" font-size="5.6" fill="#555" text-anchor="end">NSP13_R392C</text>
<text transform="translate(81.92,375) rotate(-90)" font-size="5.6" fill="#555" text-anchor="end">NSP15_T112I</text>
<text transform="translate(87.66,375) rotate(-90)" font-size="5.6" fill="#555" text-anchor="end">S_G339H</text>
<text transform="translate(93.41,375) rotate(-90)" font-size="5.6" fill="#555" text-anchor="end">S_R346T</text>
<text transform="translate(99.15,375) rotate(-90)" font-size="5.6" fill="#555" text-anchor="end">S_L368I</text>
<text transform="translate(104.90,375) rotate(-90)" font-size="5.6" fill="#555" text-anchor="end">S_S371F</text>
<text transform="translate(110.64,375) rotate(-90)" font-size="5.6" fill="#555" text-anchor="end">S_S373P</text>
<text transform="translate(116.39,375) rotate(-90)" font-size="5.6" fill="#555" text-anchor="end">S_S375F</text>
<text transform="translate(122.13,375) rotate(-90)" font-size="5.6" fill="#555" text-anchor="end">S_T376A</text>
<text transform="translate(127.88,375) rotate(-90)" font-size="5.6" fill="#555" text-anchor="end">S_D405N</text>
<text transform="translate(133.62,375) rotate(-90)" font-size="5.6" fill="#555" text-anchor="end">S_R408S</text>
<text transform="translate(139.37,375) rotate(-90)" font-size="5.6" fill="#555" text-anchor="end">S_K417N</text>
<text transform="translate(145.11,375) rotate(-90)" font-size="5.6" fill="#555" text-anchor="end">S_N440K</text>
<text transform="translate(150.86,375) rotate(-90)" font-size="5.6" fill="#555" text-anchor="end">S_V445P</text>
<text transform="translate(156.60,375) rotate(-90)" font-size="5.6" fill="#555" text-anchor="end">S_G446S</text>
<text transform="translate(162.34,375) rotate(-90)" font-size="5.6" fill="#555" text-anchor="end">S_N460K</text>
<text transform="translate(168.09,375) rotate(-90)" font-size="5.6" fill="#555" text-anchor="end">S_S477N</text>
<text transform="translate(173.83,375) rotate(-90)" font-size="5.6" fill="#555" text-anchor="end">S_T478K</text>
<text transform="translate(179.58,375) rotate(-90)" font-size="5.6" fill="#555" text-anchor="end">S_E484A</text>
<text transform="translate(185.32,375) rotate(-90)" font-size="5.6" fill="#555" text-anchor="end">S_F486P</text>
<text transform="translate(191.07,375) rotate(-90)" font-size="5.6" fill="#555" text-anchor="end">S_F490S</text>
<text transform="translate(196.81,375) rotate(-90)" font-size="5.6" fill="#555" text-anchor="end">S_Q498R</text>
<text transform="translate(202.56,375) rotate(-90)" font-size="5.6" fill="#555" text-anchor="end">S_N501Y</text>
<text transform="translate(208.31,375) rotate(-90)" font-size="5.6" fill="#555" text-anchor="end">S_Y505H</text>
<text transform="translate(214.05,375) rotate(-90)" font-size="5.6" fill="#555" text-anchor="end">S_D614G</text>
<text transform="translate(219.80,375) rotate(-90)" font-size="5.6" fill="#555" text-anchor="end">S_H655Y</text>
<text transform="translate(225.54,375) rotate(-90)" font-size="5.6" fill="#555" text-anchor="end">NS3_T223I</text>
<text transform="translate(231.29,375) rotate(-90)" font-size="5.6" fill="#555" text-anchor="end">E_T9I</text>
<text transform="translate(237.03,375) rotate(-90)" font-size="5.6" fill="#555" text-anchor="end">E_T11A</text>
<text transform="translate(242.78,375) rotate(-90)" font-size="5.6" fill="#555" text-anchor="end">M_Q19E</text>
<text transform="translate(248.52,375) rotate(-90)" font-size="5.6" fill="#555" text-anchor="end">M_A63T</text>
<text transform="translate(254.26,375) rotate(-90)" font-size="5.6" fill="#555" text-anchor="end">NS8_G8*</text>
<text transform="translate(260.01,375) rotate(-90)" font-size="5.6" fill="#555" text-anchor="end">NS8_S69P</text>
<text transform="translate(265.75,375) rotate(-90)" font-size="5.6" fill="#555" text-anchor="end">N_P13L</text>
<text transform="translate(271.50,375) rotate(-90)" font-size="5.6" fill="#555" text-anchor="end">N_R203K</text>
<text transform="translate(277.25,375) rotate(-90)" font-size="5.6" fill="#555" text-anchor="end">N_G204R</text>
<text transform="translate(282.99,375) rotate(-90)" font-size="5.6" fill="#555" text-anchor="end">N_S413R</text>
<circle cx="4.7" cy="373.60" r="1.75" fill="#d5949c"/>
<text x="7.80" y="375.70" font-size="6" fill="#333" text-anchor="start" >ORF1ab</text>
<circle cx="4.7" cy="379.57" r="1.75" fill="#d19e1e"/>
<text x="7.80" y="381.67" font-size="6" fill="#333" text-anchor="start" >Spike</text>
<circle cx="4.7" cy="385.54" r="1.75" fill="#4f8a7e"/>
<text x="7.80" y="387.64" font-size="6" fill="#333" text-anchor="start" >NS3</text>
<circle cx="4.7" cy="391.51" r="1.75" fill="#d98c7e"/>
<text x="7.80" y="393.61" font-size="6" fill="#333" text-anchor="start" >E</text>
<circle cx="4.7" cy="397.48" r="1.75" fill="#5aa8b3"/>
<text x="7.80" y="399.58" font-size="6" fill="#333" text-anchor="start" >M</text>
<circle cx="4.7" cy="403.45" r="1.75" fill="#8b7fbf"/>
<text x="7.80" y="405.55" font-size="6" fill="#333" text-anchor="start" >NS8</text>
<circle cx="4.7" cy="409.42" r="1.75" fill="#353540"/>
<text x="7.80" y="411.52" font-size="6" fill="#333" text-anchor="start" >N</text>
<text x="380.00" y="301.90" font-size="7" fill="#444" text-anchor="middle" >Mean base quality</text>
<text x="524.00" y="301.60" font-size="7" fill="#333" text-anchor="middle" >Log10(Mean coverage depth)</text>
<text transform="translate(295.6,354) rotate(-90)" font-size="7.7" fill="#333" text-anchor="middle">No. libraries</text>
<line x1="307.40" y1="310.30" x2="307.40" y2="353.00" stroke="#222" stroke-width="1.1" />
<line x1="307.40" y1="357.60" x2="307.40" y2="400.80" stroke="#222" stroke-width="1.1" />
<line x1="307.40" y1="400.80" x2="440.00" y2="400.80" stroke="#222" stroke-width="1.1" />
<line x1="452.30" y1="309.40" x2="452.30" y2="353.60" stroke="#222" stroke-width="1.1" />
<line x1="452.20" y1="356.60" x2="452.20" y2="400.70" stroke="#222" stroke-width="1.1" />
<line x1="452.20" y1="400.70" x2="584.00" y2="400.70" stroke="#222" stroke-width="1.1" />
<line x1="313.60" y1="352.30" x2="440.00" y2="352.30" stroke="#ddd" stroke-width="0.6" />
<line x1="452.20" y1="351.80" x2="584.00" y2="351.80" stroke="#ddd" stroke-width="0.5" />
<text x="305.00" y="316.60" font-size="6" fill="#444" text-anchor="end" >80</text>
<line x1="305.50" y1="314.60" x2="307.40" y2="314.60" stroke="#222" stroke-width="0.5" />
<text x="305.00" y="325.90" font-size="6" fill="#444" text-anchor="end" >60</text>
<line x1="305.50" y1="323.90" x2="307.40" y2="323.90" stroke="#222" stroke-width="0.5" />
<text x="305.00" y="335.20" font-size="6" fill="#444" text-anchor="end" >40</text>
<line x1="305.50" y1="333.20" x2="307.40" y2="333.20" stroke="#222" stroke-width="0.5" />
<text x="305.00" y="344.90" font-size="6" fill="#444" text-anchor="end" >20</text>
<line x1="305.50" y1="342.90" x2="307.40" y2="342.90" stroke="#222" stroke-width="0.5" />
<text x="305.00" y="354.40" font-size="6" fill="#444" text-anchor="end" >0</text>
<line x1="305.50" y1="352.40" x2="307.40" y2="352.40" stroke="#222" stroke-width="0.5" />
<text x="305.00" y="361.00" font-size="6" fill="#444" text-anchor="end" >80</text>
<line x1="305.50" y1="359.00" x2="307.40" y2="359.00" stroke="#222" stroke-width="0.5" />
<text x="305.00" y="370.70" font-size="6" fill="#444" text-anchor="end" >60</text>
<line x1="305.50" y1="368.70" x2="307.40" y2="368.70" stroke="#222" stroke-width="0.5" />
<text x="305.00" y="380.30" font-size="6" fill="#444" text-anchor="end" >40</text>
<line x1="305.50" y1="378.30" x2="307.40" y2="378.30" stroke="#222" stroke-width="0.5" />
<text x="305.00" y="390.50" font-size="6" fill="#444" text-anchor="end" >20</text>
<line x1="305.50" y1="388.50" x2="307.40" y2="388.50" stroke="#222" stroke-width="0.5" />
<text x="305.00" y="400.10" font-size="6" fill="#444" text-anchor="end" >0</text>
<line x1="305.50" y1="398.10" x2="307.40" y2="398.10" stroke="#222" stroke-width="0.5" />
<text x="450.00" y="318.70" font-size="6" fill="#444" text-anchor="end" >30</text>
<line x1="450.50" y1="316.70" x2="452.30" y2="316.70" stroke="#222" stroke-width="0.5" />
<text x="450.00" y="330.30" font-size="6" fill="#444" text-anchor="end" >20</text>
<line x1="450.50" y1="328.30" x2="452.30" y2="328.30" stroke="#222" stroke-width="0.5" />
<text x="450.00" y="341.90" font-size="6" fill="#444" text-anchor="end" >10</text>
<line x1="450.50" y1="339.90" x2="452.30" y2="339.90" stroke="#222" stroke-width="0.5" />
<text x="450.00" y="353.40" font-size="6" fill="#444" text-anchor="end" >0</text>
<line x1="450.50" y1="351.40" x2="452.30" y2="351.40" stroke="#222" stroke-width="0.5" />
<text x="450.20" y="364.90" font-size="6" fill="#444" text-anchor="end" >30</text>
<line x1="450.40" y1="362.90" x2="452.20" y2="362.90" stroke="#222" stroke-width="0.5" />
<text x="450.20" y="377.00" font-size="6" fill="#444" text-anchor="end" >20</text>
<line x1="450.40" y1="375.00" x2="452.20" y2="375.00" stroke="#222" stroke-width="0.5" />
<text x="450.20" y="388.90" font-size="6" fill="#444" text-anchor="end" >10</text>
<line x1="450.40" y1="386.90" x2="452.20" y2="386.90" stroke="#222" stroke-width="0.5" />
<text x="450.20" y="400.00" font-size="6" fill="#444" text-anchor="end" >0</text>
<line x1="450.40" y1="398.00" x2="452.20" y2="398.00" stroke="#222" stroke-width="0.5" />
<text x="308.50" y="408.50" font-size="6" fill="#444" text-anchor="middle" >20</text>
<text x="343.20" y="408.50" font-size="6" fill="#444" text-anchor="middle" >25</text>
<text x="377.90" y="408.50" font-size="6" fill="#444" text-anchor="middle" >30</text>
<text x="412.60" y="408.50" font-size="6" fill="#444" text-anchor="middle" >35</text>
<text x="454.00" y="408.50" font-size="6" fill="#444" text-anchor="middle" >1.5</text>
<text x="478.25" y="408.50" font-size="6" fill="#444" text-anchor="middle" >2.0</text>
<text x="502.50" y="408.50" font-size="6" fill="#444" text-anchor="middle" >2.5</text>
<text x="526.75" y="408.50" font-size="6" fill="#444" text-anchor="middle" >3.0</text>
<text x="551.00" y="408.50" font-size="6" fill="#444" text-anchor="middle" >3.5</text>
<text x="575.25" y="408.50" font-size="6" fill="#444" text-anchor="middle" >4.0</text>
<text transform="translate(310,318.5) rotate(90)" font-size="4.6" fill="#333">ILLUMINA</text>
<text transform="translate(310,363) rotate(90)" font-size="4.6" fill="#333">NANOPORE</text>
<rect x="398.20" y="312.00" width="1.80" height="39.80" fill="#4d4d4d" />
<rect x="400.00" y="320.20" width="2.20" height="31.60" fill="#4d4d4d" />
<rect x="407.00" y="342.20" width="2.00" height="9.60" fill="#4d4d4d" />
<rect x="409.00" y="337.10" width="1.90" height="14.70" fill="#4d4d4d" />
<rect x="410.90" y="344.80" width="1.40" height="7.00" fill="#4d4d4d" />
<rect x="415.70" y="344.00" width="1.80" height="7.80" fill="#4d4d4d" />
<rect x="417.50" y="341.00" width="1.80" height="10.80" fill="#4d4d4d" />
<rect x="419.30" y="346.40" width="2.40" height="5.40" fill="#4d4d4d" />
<rect x="421.70" y="318.00" width="1.90" height="33.80" fill="#4d4d4d" />
<rect x="423.60" y="342.80" width="1.50" height="9.00" fill="#4d4d4d" />
<rect x="427.80" y="338.50" width="1.80" height="13.30" fill="#4d4d4d" />
<rect x="429.60" y="345.20" width="2.40" height="6.60" fill="#4d4d4d" />
<rect x="432.00" y="341.00" width="1.80" height="10.80" fill="#4d4d4d" />
<rect x="433.80" y="347.60" width="1.80" height="4.20" fill="#4d4d4d" />
<rect x="435.60" y="350.60" width="1.80" height="1.20" fill="#4d4d4d" />
<line x1="401.50" y1="310.20" x2="401.50" y2="353.50" stroke="#4fa89a" stroke-width="0.9" stroke-dasharray="2.4,3.2"/>
<line x1="418.70" y1="310.20" x2="418.70" y2="353.50" stroke="#c08a3a" stroke-width="0.9" stroke-dasharray="2.4,3.2"/>
<rect x="316.50" y="398.17" width="0.55" height="0.33" fill="#454545" />
<rect x="317.00" y="397.81" width="0.55" height="0.69" fill="#454545" />
<rect x="317.50" y="397.25" width="0.55" height="1.25" fill="#454545" />
<rect x="318.00" y="396.83" width="0.55" height="1.67" fill="#454545" />
<rect x="318.50" y="396.62" width="0.55" height="1.88" fill="#454545" />
<rect x="319.00" y="396.43" width="0.55" height="2.07" fill="#454545" />
<rect x="319.50" y="395.70" width="0.55" height="2.80" fill="#454545" />
<rect x="320.00" y="395.09" width="0.55" height="3.41" fill="#454545" />
<rect x="320.50" y="393.01" width="0.55" height="5.49" fill="#454545" />
<rect x="321.00" y="392.36" width="0.55" height="6.14" fill="#454545" />
<rect x="321.50" y="394.09" width="0.55" height="4.41" fill="#454545" />
<rect x="322.00" y="393.06" width="0.55" height="5.44" fill="#454545" />
<rect x="322.50" y="392.64" width="0.55" height="5.86" fill="#454545" />
<rect x="323.00" y="394.05" width="0.55" height="4.45" fill="#454545" />
<rect x="323.50" y="392.44" width="0.55" height="6.06" fill="#454545" />
<rect x="324.00" y="392.17" width="0.55" height="6.33" fill="#454545" />
<rect x="324.50" y="391.38" width="0.55" height="7.12" fill="#454545" />
<rect x="325.00" y="389.11" width="0.55" height="9.39" fill="#454545" />
<rect x="325.50" y="388.73" width="0.55" height="9.77" fill="#454545" />
<rect x="326.00" y="391.27" width="0.55" height="7.23" fill="#454545" />
<rect x="326.50" y="392.93" width="0.55" height="5.57" fill="#454545" />
<rect x="327.00" y="390.48" width="0.55" height="8.02" fill="#454545" />
<rect x="327.50" y="390.07" width="0.55" height="8.43" fill="#454545" />
<rect x="328.00" y="390.83" width="0.55" height="7.67" fill="#454545" />
<rect x="328.50" y="390.97" width="0.55" height="7.53" fill="#454545" />
<rect x="329.00" y="390.34" width="0.55" height="8.16" fill="#454545" />
<rect x="329.50" y="389.67" width="0.55" height="8.83" fill="#454545" />
<rect x="330.00" y="386.54" width="0.55" height="11.96" fill="#454545" />
<rect x="330.50" y="385.86" width="0.55" height="12.64" fill="#454545" />
<rect x="331.00" y="383.76" width="0.55" height="14.74" fill="#454545" />
<rect x="331.50" y="384.32" width="0.55" height="14.18" fill="#454545" />
<rect x="332.00" y="384.13" width="0.55" height="14.37" fill="#454545" />
<rect x="332.50" y="389.71" width="0.55" height="8.79" fill="#454545" />
<rect x="333.00" y="388.67" width="0.55" height="9.83" fill="#454545" />
<rect x="333.50" y="386.69" width="0.55" height="11.81" fill="#454545" />
<rect x="334.00" y="386.80" width="0.55" height="11.70" fill="#454545" />
<rect x="334.50" y="389.88" width="0.55" height="8.62" fill="#454545" />
<rect x="335.00" y="390.06" width="0.55" height="8.44" fill="#454545" />
<rect x="335.50" y="390.53" width="0.55" height="7.97" fill="#454545" />
<rect x="336.00" y="392.63" width="0.55" height="5.87" fill="#454545" />
<rect x="336.50" y="393.16" width="0.55" height="5.34" fill="#454545" />
<rect x="337.00" y="394.28" width="0.55" height="4.22" fill="#454545" />
<rect x="337.50" y="393.40" width="0.55" height="5.10" fill="#454545" />
<rect x="338.00" y="393.22" width="0.55" height="5.28" fill="#454545" />
<rect x="338.50" y="394.40" width="0.55" height="4.10" fill="#454545" />
<rect x="339.00" y="394.11" width="0.55" height="4.39" fill="#454545" />
<rect x="339.50" y="392.27" width="0.55" height="6.23" fill="#454545" />
<rect x="340.00" y="393.55" width="0.55" height="4.95" fill="#454545" />
<rect x="340.50" y="394.11" width="0.55" height="4.39" fill="#454545" />
<rect x="341.00" y="394.77" width="0.55" height="3.73" fill="#454545" />
<rect x="341.50" y="394.49" width="0.55" height="4.01" fill="#454545" />
<rect x="342.00" y="394.37" width="0.55" height="4.13" fill="#454545" />
<rect x="342.50" y="394.37" width="0.55" height="4.13" fill="#454545" />
<rect x="343.00" y="395.74" width="0.55" height="2.76" fill="#454545" />
<rect x="343.50" y="394.76" width="0.55" height="3.74" fill="#454545" />
<rect x="344.00" y="395.37" width="0.55" height="3.13" fill="#454545" />
<rect x="344.50" y="395.42" width="0.55" height="3.08" fill="#454545" />
<rect x="345.00" y="397.45" width="0.55" height="1.05" fill="#454545" />
<rect x="345.50" y="397.32" width="0.55" height="1.18" fill="#454545" />
<rect x="346.00" y="397.14" width="0.55" height="1.36" fill="#454545" />
<rect x="346.50" y="397.31" width="0.55" height="1.19" fill="#454545" />
<rect x="347.00" y="397.52" width="0.55" height="0.98" fill="#454545" />
<rect x="347.50" y="397.39" width="0.55" height="1.11" fill="#454545" />
<rect x="348.00" y="397.45" width="0.55" height="1.05" fill="#454545" />
<rect x="348.50" y="397.21" width="0.55" height="1.29" fill="#454545" />
<rect x="349.00" y="397.55" width="0.55" height="0.95" fill="#454545" />
<rect x="349.50" y="397.56" width="0.55" height="0.94" fill="#454545" />
<rect x="350.00" y="397.41" width="0.55" height="1.09" fill="#454545" />
<rect x="350.50" y="397.67" width="0.55" height="0.83" fill="#454545" />
<rect x="351.00" y="397.47" width="0.55" height="1.03" fill="#454545" />
<rect x="351.50" y="397.32" width="0.55" height="1.18" fill="#454545" />
<line x1="318.30" y1="356.80" x2="318.30" y2="400.80" stroke="#d06070" stroke-width="0.9" stroke-dasharray="2.4,3.2"/>
<line x1="322.50" y1="356.80" x2="322.50" y2="400.80" stroke="#d0a040" stroke-width="0.9" stroke-dasharray="2.4,3.2"/>
<line x1="323.50" y1="356.80" x2="323.50" y2="400.80" stroke="#d0a040" stroke-width="0.9" stroke-dasharray="2.4,3.2"/>
<line x1="328.00" y1="356.80" x2="328.00" y2="400.80" stroke="#d06070" stroke-width="0.9" stroke-dasharray="2.4,3.2"/>
<line x1="330.40" y1="356.80" x2="330.40" y2="400.80" stroke="#d0b040" stroke-width="0.9" stroke-dasharray="2.4,3.2"/>
<line x1="336.40" y1="356.80" x2="336.40" y2="400.80" stroke="#7a7a7a" stroke-width="0.9" stroke-dasharray="2.4,3.2"/>
<line x1="339.40" y1="356.80" x2="339.40" y2="400.80" stroke="#555577" stroke-width="0.9" stroke-dasharray="2.4,3.2"/>
<line x1="340.40" y1="356.80" x2="340.40" y2="400.80" stroke="#7068a8" stroke-width="0.9" stroke-dasharray="2.4,3.2"/>
<line x1="342.50" y1="356.80" x2="342.50" y2="400.80" stroke="#d07080" stroke-width="0.9" stroke-dasharray="2.4,3.2"/>
<line x1="355.20" y1="356.80" x2="355.20" y2="400.80" stroke="#70c0c8" stroke-width="0.9" stroke-dasharray="2.4,3.2"/>
<line x1="377.10" y1="356.80" x2="377.10" y2="400.80" stroke="#999" stroke-width="0.9" stroke-dasharray="2.4,3.2"/>
<line x1="382.20" y1="356.80" x2="382.20" y2="400.80" stroke="#ccc" stroke-width="0.9" stroke-dasharray="2.4,3.2"/>
<rect x="476.00" y="351.03" width="1.10" height="0.47" fill="#4a4a4a" />
<rect x="477.10" y="350.89" width="1.10" height="0.61" fill="#4a4a4a" />
<rect x="478.20" y="350.93" width="1.10" height="0.57" fill="#4a4a4a" />
<rect x="479.30" y="350.82" width="1.10" height="0.68" fill="#4a4a4a" />
<rect x="480.40" y="350.45" width="1.10" height="1.05" fill="#4a4a4a" />
<rect x="481.50" y="344.73" width="1.10" height="6.77" fill="#4a4a4a" />
<rect x="482.60" y="349.61" width="1.10" height="1.89" fill="#4a4a4a" />
<rect x="483.70" y="349.76" width="1.10" height="1.74" fill="#4a4a4a" />
<rect x="484.80" y="350.12" width="1.10" height="1.38" fill="#4a4a4a" />
<rect x="485.90" y="349.39" width="1.10" height="2.11" fill="#4a4a4a" />
<rect x="487.00" y="348.67" width="1.10" height="2.83" fill="#4a4a4a" />
<rect x="488.10" y="348.96" width="1.10" height="2.54" fill="#4a4a4a" />
<rect x="489.20" y="348.86" width="1.10" height="2.64" fill="#4a4a4a" />
<rect x="490.30" y="348.11" width="1.10" height="3.39" fill="#4a4a4a" />
<rect x="491.40" y="349.15" width="1.10" height="2.35" fill="#4a4a4a" />
<rect x="492.50" y="346.27" width="1.10" height="5.23" fill="#4a4a4a" />
<rect x="493.60" y="347.11" width="1.10" height="4.39" fill="#4a4a4a" />
<rect x="494.70" y="347.91" width="1.10" height="3.59" fill="#4a4a4a" />
<rect x="495.80" y="347.74" width="1.10" height="3.76" fill="#4a4a4a" />
<rect x="496.90" y="340.78" width="1.10" height="10.72" fill="#4a4a4a" />
<rect x="498.00" y="341.98" width="1.10" height="9.52" fill="#4a4a4a" />
<rect x="499.10" y="346.78" width="1.10" height="4.72" fill="#4a4a4a" />
<rect x="500.20" y="348.01" width="1.10" height="3.49" fill="#4a4a4a" />
<rect x="501.30" y="344.27" width="1.10" height="7.23" fill="#4a4a4a" />
<rect x="502.40" y="347.60" width="1.10" height="3.90" fill="#4a4a4a" />
<rect x="503.50" y="346.59" width="1.10" height="4.91" fill="#4a4a4a" />
<rect x="504.60" y="345.23" width="1.10" height="6.27" fill="#4a4a4a" />
<rect x="505.70" y="344.09" width="1.10" height="7.41" fill="#4a4a4a" />
<rect x="506.80" y="344.30" width="1.10" height="7.20" fill="#4a4a4a" />
<rect x="507.90" y="344.01" width="1.10" height="7.49" fill="#4a4a4a" />
<rect x="509.00" y="343.70" width="1.10" height="7.80" fill="#4a4a4a" />
<rect x="510.10" y="342.80" width="1.10" height="8.70" fill="#4a4a4a" />
<rect x="511.20" y="335.71" width="1.10" height="15.79" fill="#4a4a4a" />
<rect x="512.30" y="343.72" width="1.10" height="7.78" fill="#4a4a4a" />
<rect x="513.40" y="340.97" width="1.10" height="10.53" fill="#4a4a4a" />
<rect x="514.50" y="344.00" width="1.10" height="7.50" fill="#4a4a4a" />
<rect x="515.60" y="340.54" width="1.10" height="10.96" fill="#4a4a4a" />
<rect x="516.70" y="343.56" width="1.10" height="7.94" fill="#4a4a4a" />
<rect x="517.80" y="342.63" width="1.10" height="8.87" fill="#4a4a4a" />
<rect x="518.90" y="343.70" width="1.10" height="7.80" fill="#4a4a4a" />
<rect x="520.00" y="341.56" width="1.10" height="9.94" fill="#4a4a4a" />
<rect x="521.10" y="343.23" width="1.10" height="8.27" fill="#4a4a4a" />
<rect x="522.20" y="338.92" width="1.10" height="12.58" fill="#4a4a4a" />
<rect x="523.30" y="342.00" width="1.10" height="9.50" fill="#4a4a4a" />
<rect x="524.40" y="343.01" width="1.10" height="8.49" fill="#4a4a4a" />
<rect x="525.50" y="340.75" width="1.10" height="10.75" fill="#4a4a4a" />
<rect x="526.60" y="344.82" width="1.10" height="6.68" fill="#4a4a4a" />
<rect x="527.70" y="342.99" width="1.10" height="8.51" fill="#4a4a4a" />
<rect x="528.80" y="338.98" width="1.10" height="12.52" fill="#4a4a4a" />
<rect x="529.90" y="344.11" width="1.10" height="7.39" fill="#4a4a4a" />
<rect x="531.00" y="335.44" width="1.10" height="16.06" fill="#4a4a4a" />
<rect x="532.10" y="341.48" width="1.10" height="10.02" fill="#4a4a4a" />
<rect x="533.20" y="338.87" width="1.10" height="12.63" fill="#4a4a4a" />
<rect x="534.30" y="341.89" width="1.10" height="9.61" fill="#4a4a4a" />
<rect x="535.40" y="342.08" width="1.10" height="9.42" fill="#4a4a4a" />
<rect x="536.50" y="340.70" width="1.10" height="10.80" fill="#4a4a4a" />
<rect x="537.60" y="343.10" width="1.10" height="8.40" fill="#4a4a4a" />
<rect x="538.70" y="343.07" width="1.10" height="8.43" fill="#4a4a4a" />
<rect x="539.80" y="340.42" width="1.10" height="11.08" fill="#4a4a4a" />
<rect x="540.90" y="344.89" width="1.10" height="6.61" fill="#4a4a4a" />
<rect x="542.00" y="342.40" width="1.10" height="9.10" fill="#4a4a4a" />
<rect x="543.10" y="340.90" width="1.10" height="10.60" fill="#4a4a4a" />
<rect x="544.20" y="337.59" width="1.10" height="13.91" fill="#4a4a4a" />
<rect x="545.30" y="341.85" width="1.10" height="9.65" fill="#4a4a4a" />
<rect x="546.40" y="337.41" width="1.10" height="14.09" fill="#4a4a4a" />
<rect x="547.50" y="341.31" width="1.10" height="10.19" fill="#4a4a4a" />
<rect x="548.60" y="344.29" width="1.10" height="7.21" fill="#4a4a4a" />
<rect x="549.70" y="337.98" width="1.10" height="13.52" fill="#4a4a4a" />
<rect x="550.80" y="334.29" width="1.10" height="17.21" fill="#4a4a4a" />
<rect x="551.90" y="340.49" width="1.10" height="11.01" fill="#4a4a4a" />
<rect x="553.00" y="338.31" width="1.10" height="13.19" fill="#4a4a4a" />
<rect x="554.10" y="342.77" width="1.10" height="8.73" fill="#4a4a4a" />
<rect x="555.20" y="343.86" width="1.10" height="7.64" fill="#4a4a4a" />
<rect x="556.30" y="342.45" width="1.10" height="9.05" fill="#4a4a4a" />
<rect x="557.40" y="344.96" width="1.10" height="6.54" fill="#4a4a4a" />
<rect x="558.50" y="342.18" width="1.10" height="9.32" fill="#4a4a4a" />
<rect x="559.60" y="339.74" width="1.10" height="11.76" fill="#4a4a4a" />
<rect x="560.70" y="346.35" width="1.10" height="5.15" fill="#4a4a4a" />
<rect x="561.80" y="341.64" width="1.10" height="9.86" fill="#4a4a4a" />
<rect x="562.90" y="337.98" width="1.10" height="13.52" fill="#4a4a4a" />
<rect x="564.00" y="341.81" width="1.10" height="9.69" fill="#4a4a4a" />
<rect x="565.10" y="343.11" width="1.10" height="8.39" fill="#4a4a4a" />
<rect x="566.20" y="344.33" width="1.10" height="7.17" fill="#4a4a4a" />
<rect x="567.30" y="345.85" width="1.10" height="5.65" fill="#4a4a4a" />
<rect x="568.40" y="344.56" width="1.10" height="6.94" fill="#4a4a4a" />
<rect x="569.50" y="344.54" width="1.10" height="6.96" fill="#4a4a4a" />
<rect x="570.60" y="347.09" width="1.10" height="4.41" fill="#4a4a4a" />
<rect x="571.70" y="340.54" width="1.10" height="10.96" fill="#4a4a4a" />
<rect x="572.80" y="347.13" width="1.10" height="4.37" fill="#4a4a4a" />
<rect x="573.90" y="344.24" width="1.10" height="7.26" fill="#4a4a4a" />
<rect x="575.00" y="341.51" width="1.10" height="9.99" fill="#4a4a4a" />
<rect x="576.10" y="345.02" width="1.10" height="6.48" fill="#4a4a4a" />
<rect x="577.20" y="345.54" width="1.10" height="5.96" fill="#4a4a4a" />
<rect x="578.30" y="347.96" width="1.10" height="3.54" fill="#4a4a4a" />
<rect x="579.40" y="348.39" width="1.10" height="3.11" fill="#4a4a4a" />
<rect x="580.50" y="346.84" width="1.10" height="4.66" fill="#4a4a4a" />
<rect x="581.60" y="347.54" width="1.10" height="3.96" fill="#4a4a4a" />
<rect x="582.70" y="349.01" width="1.10" height="2.49" fill="#4a4a4a" />
<rect x="541.30" y="332.30" width="1.20" height="19.20" fill="#4a4a4a" />
<rect x="546.40" y="333.50" width="1.20" height="18.00" fill="#4a4a4a" />
<rect x="555.30" y="328.90" width="1.20" height="22.60" fill="#4a4a4a" />
<rect x="575.00" y="339.00" width="1.20" height="12.50" fill="#4a4a4a" />
<rect x="466.00" y="351.00" width="1.20" height="0.60" fill="#444" />
<line x1="461.00" y1="309.40" x2="461.00" y2="352.00" stroke="#9a92c0" stroke-width="0.9" stroke-dasharray="2.4,3.2"/>
<line x1="486.30" y1="309.40" x2="486.30" y2="352.00" stroke="#50b0b8" stroke-width="0.9" stroke-dasharray="2.4,3.2"/>
<line x1="489.50" y1="309.40" x2="489.50" y2="352.00" stroke="#d0a040" stroke-width="0.9" stroke-dasharray="2.4,3.2"/>
<line x1="503.00" y1="309.40" x2="503.00" y2="352.00" stroke="#6a6a6a" stroke-width="0.9" stroke-dasharray="2.4,3.2"/>
<line x1="534.20" y1="309.40" x2="534.20" y2="352.00" stroke="#50a898" stroke-width="0.9" stroke-dasharray="2.4,3.2"/>
<rect x="480.00" y="398.05" width="0.55" height="0.45" fill="#454545" />
<rect x="480.50" y="397.77" width="0.55" height="0.73" fill="#454545" />
<rect x="481.00" y="397.69" width="0.55" height="0.81" fill="#454545" />
<rect x="481.50" y="397.64" width="0.55" height="0.86" fill="#454545" />
<rect x="482.00" y="396.93" width="0.55" height="1.57" fill="#454545" />
<rect x="482.50" y="396.76" width="0.55" height="1.74" fill="#454545" />
<rect x="483.00" y="396.99" width="0.55" height="1.51" fill="#454545" />
<rect x="483.50" y="396.29" width="0.55" height="2.21" fill="#454545" />
<rect x="484.00" y="396.15" width="0.55" height="2.35" fill="#454545" />
<rect x="484.50" y="396.49" width="0.55" height="2.01" fill="#454545" />
<rect x="485.00" y="395.98" width="0.55" height="2.52" fill="#454545" />
<rect x="485.50" y="395.33" width="0.55" height="3.17" fill="#454545" />
<rect x="486.00" y="395.73" width="0.55" height="2.77" fill="#454545" />
<rect x="486.50" y="391.36" width="0.55" height="7.14" fill="#454545" />
<rect x="487.00" y="390.68" width="0.55" height="7.82" fill="#454545" />
<rect x="487.50" y="387.12" width="0.55" height="11.38" fill="#454545" />
<rect x="488.00" y="381.79" width="0.55" height="16.71" fill="#454545" />
<rect x="488.50" y="385.41" width="0.55" height="13.09" fill="#454545" />
<rect x="489.00" y="385.43" width="0.55" height="13.07" fill="#454545" />
<rect x="489.50" y="382.32" width="0.55" height="16.18" fill="#454545" />
<rect x="490.00" y="385.65" width="0.55" height="12.85" fill="#454545" />
<rect x="490.50" y="382.12" width="0.55" height="16.38" fill="#454545" />
<rect x="491.00" y="384.74" width="0.55" height="13.76" fill="#454545" />
<rect x="491.50" y="384.11" width="0.55" height="14.39" fill="#454545" />
<rect x="492.00" y="381.27" width="0.55" height="17.23" fill="#454545" />
<rect x="492.50" y="381.04" width="0.55" height="17.46" fill="#454545" />
<rect x="493.00" y="370.59" width="0.55" height="27.91" fill="#454545" />
<rect x="493.50" y="376.22" width="0.55" height="22.28" fill="#454545" />
<rect x="494.00" y="370.79" width="0.55" height="27.71" fill="#454545" />
<rect x="494.50" y="374.63" width="0.55" height="23.87" fill="#454545" />
<rect x="495.00" y="365.91" width="0.55" height="32.59" fill="#454545" />
<rect x="495.50" y="366.37" width="0.55" height="32.13" fill="#454545" />
<rect x="496.00" y="367.06" width="0.55" height="31.44" fill="#454545" />
<rect x="496.50" y="373.29" width="0.55" height="25.21" fill="#454545" />
<rect x="497.00" y="373.23" width="0.55" height="25.27" fill="#454545" />
<rect x="497.50" y="361.78" width="0.55" height="36.72" fill="#454545" />
<rect x="498.00" y="367.29" width="0.55" height="31.21" fill="#454545" />
<rect x="498.50" y="367.32" width="0.55" height="31.18" fill="#454545" />
<rect x="499.00" y="366.59" width="0.55" height="31.91" fill="#454545" />
<rect x="499.50" y="369.24" width="0.55" height="29.26" fill="#454545" />
<rect x="500.00" y="374.22" width="0.55" height="24.28" fill="#454545" />
<rect x="500.50" y="379.00" width="0.55" height="19.50" fill="#454545" />
<rect x="501.00" y="372.53" width="0.55" height="25.97" fill="#454545" />
<rect x="501.50" y="377.37" width="0.55" height="21.13" fill="#454545" />
<rect x="502.00" y="380.40" width="0.55" height="18.10" fill="#454545" />
<rect x="502.50" y="375.86" width="0.55" height="22.64" fill="#454545" />
<rect x="503.00" y="383.30" width="0.55" height="15.20" fill="#454545" />
<rect x="503.50" y="383.20" width="0.55" height="15.30" fill="#454545" />
<rect x="504.00" y="380.48" width="0.55" height="18.02" fill="#454545" />
<rect x="504.50" y="387.23" width="0.55" height="11.27" fill="#454545" />
<rect x="505.00" y="386.81" width="0.55" height="11.69" fill="#454545" />
<rect x="505.50" y="386.12" width="0.55" height="12.38" fill="#454545" />
<rect x="506.00" y="387.88" width="0.55" height="10.62" fill="#454545" />
<rect x="506.50" y="391.94" width="0.55" height="6.56" fill="#454545" />
<rect x="507.00" y="392.49" width="0.55" height="6.01" fill="#454545" />
<rect x="507.50" y="392.18" width="0.55" height="6.32" fill="#454545" />
<rect x="508.00" y="393.86" width="0.55" height="4.64" fill="#454545" />
<rect x="508.50" y="393.41" width="0.55" height="5.09" fill="#454545" />
<rect x="509.00" y="395.59" width="0.55" height="2.91" fill="#454545" />
<rect x="509.50" y="395.30" width="0.55" height="3.20" fill="#454545" />
<rect x="510.00" y="396.65" width="0.55" height="1.85" fill="#454545" />
<rect x="510.50" y="397.20" width="0.55" height="1.30" fill="#454545" />
<rect x="511.00" y="397.37" width="0.55" height="1.13" fill="#454545" />
<rect x="511.50" y="397.84" width="0.55" height="0.66" fill="#454545" />
<rect x="512.00" y="397.99" width="0.55" height="0.51" fill="#454545" />
<rect x="512.50" y="398.19" width="0.55" height="0.31" fill="#454545" />
<line x1="459.80" y1="357.00" x2="459.80" y2="399.50" stroke="#50b0b8" stroke-width="0.9" stroke-dasharray="2.4,3.2"/>
<line x1="478.50" y1="357.00" x2="478.50" y2="399.50" stroke="#d06070" stroke-width="0.9" stroke-dasharray="2.4,3.2"/>
<line x1="485.70" y1="357.00" x2="485.70" y2="399.50" stroke="#bbb" stroke-width="0.9" stroke-dasharray="2.4,3.2"/>
<line x1="490.30" y1="357.00" x2="490.30" y2="399.50" stroke="#40a0a0" stroke-width="0.9" stroke-dasharray="2.4,3.2"/>
<line x1="496.60" y1="357.00" x2="496.60" y2="399.50" stroke="#a0c080" stroke-width="0.9" stroke-dasharray="2.4,3.2"/>
<line x1="498.80" y1="357.00" x2="498.80" y2="399.50" stroke="#7a6ab0" stroke-width="0.9" stroke-dasharray="2.4,3.2"/>
<line x1="499.60" y1="357.00" x2="499.60" y2="399.50" stroke="#7a6ab0" stroke-width="0.9" stroke-dasharray="2.4,3.2"/>
<line x1="502.00" y1="357.00" x2="502.00" y2="399.50" stroke="#888" stroke-width="0.9" stroke-dasharray="2.4,3.2"/>
<line x1="505.70" y1="357.00" x2="505.70" y2="399.50" stroke="#d0a040" stroke-width="0.9" stroke-dasharray="2.4,3.2"/>
<line x1="508.00" y1="357.00" x2="508.00" y2="399.50" stroke="#d0a040" stroke-width="0.9" stroke-dasharray="2.4,3.2"/>
<line x1="511.70" y1="357.00" x2="511.70" y2="399.50" stroke="#d0b050" stroke-width="0.9" stroke-dasharray="2.4,3.2"/>
<line x1="514.70" y1="357.00" x2="514.70" y2="399.50" stroke="#d06070" stroke-width="0.9" stroke-dasharray="2.4,3.2"/>
<rect x="519.00" y="398.20" width="0.80" height="0.60" fill="#444" />
<rect x="525.00" y="398.20" width="0.80" height="0.60" fill="#444" />
</svg></body></html>
